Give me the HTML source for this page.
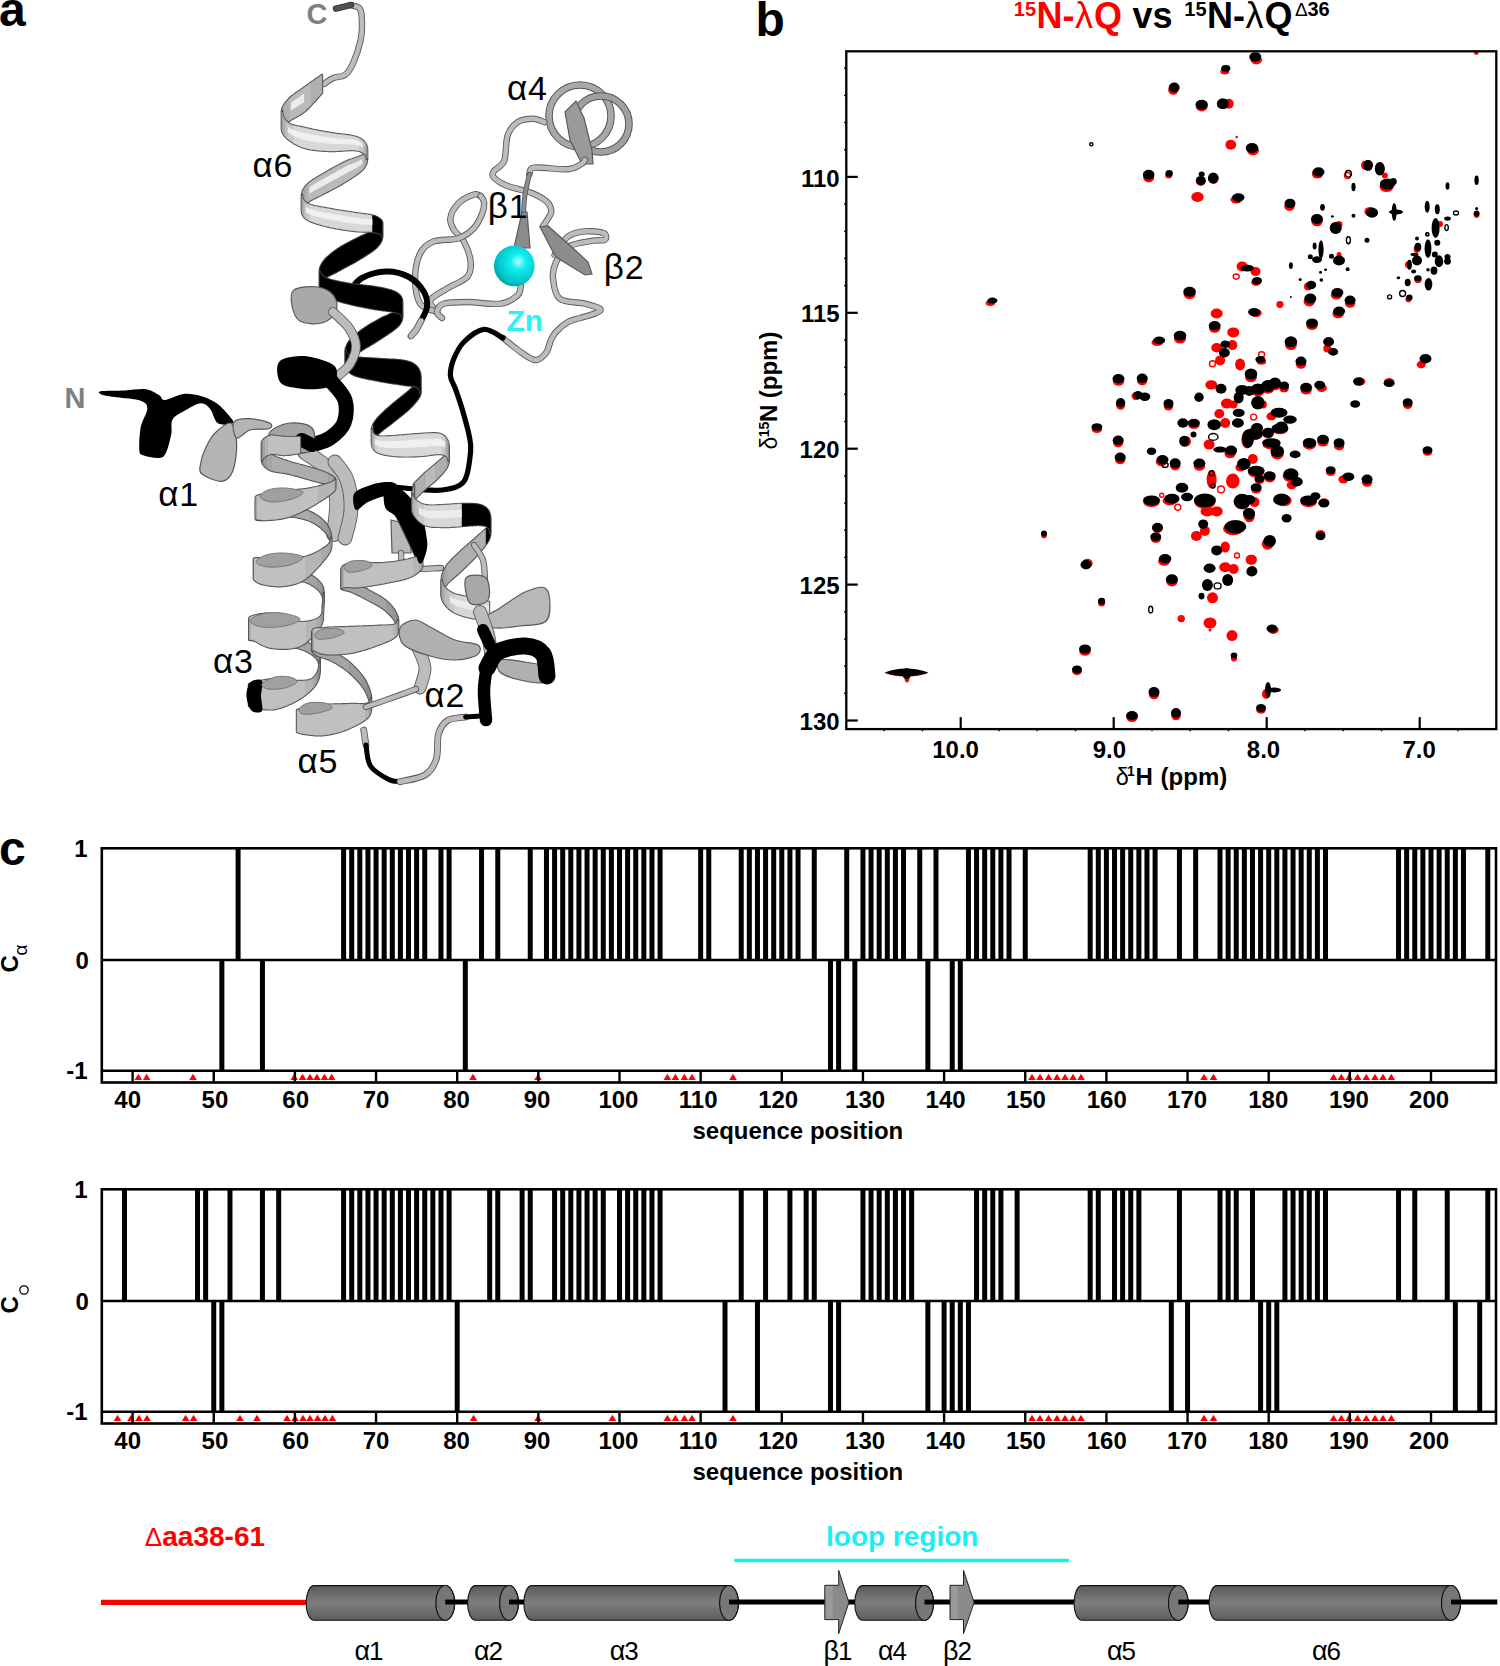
<!DOCTYPE html>
<html><head><meta charset="utf-8"><style>
html,body{margin:0;padding:0;background:#fff;}
svg{display:block;}
.tk{font-family:"Liberation Sans",sans-serif;font-weight:bold;font-size:24px;}
text{font-family:"Liberation Sans",sans-serif;}
</style></head><body>
<svg width="1500" height="1666" viewBox="0 0 1500 1666">
<defs>
<linearGradient id="cylg" x1="0" y1="0" x2="0" y2="1">
<stop offset="0" stop-color="#5a5a5a"/><stop offset="0.5" stop-color="#7e7e7e"/><stop offset="1" stop-color="#5c5c5c"/></linearGradient>
<radialGradient id="zng" cx="0.6" cy="0.4" r="0.65"><stop offset="0" stop-color="#b0ffff"/><stop offset="0.3" stop-color="#10eeee"/><stop offset="0.8" stop-color="#00c4c8"/><stop offset="1" stop-color="#009a9e"/></radialGradient>
</defs>
<rect width="1500" height="1666" fill="#fff"/>
<text x="-1" y="26" font-family="Liberation Sans" font-weight="bold" font-size="48">a</text>
<path d="M480.7 196.0C479.6 195.8 477.6 193.3 474.0 194.5C470.4 195.7 462.7 199.1 458.8 203.0C454.9 206.9 451.2 213.6 450.4 218.0C449.6 222.4 451.6 225.8 453.8 229.7C456.1 233.6 461.1 236.2 463.9 241.5C466.7 246.8 470.1 255.8 470.6 261.7C471.2 267.6 471.1 272.3 467.2 276.8C463.3 281.3 453.1 284.7 447.0 288.6C440.9 292.5 432.0 296.4 430.3 300.3C428.6 304.2 435.9 310.1 437.0 312.0" fill="none" stroke="#5a5a5a" stroke-width="6.4" stroke-linecap="round" stroke-linejoin="round"/><path d="M480.7 196.0C479.6 195.8 477.6 193.3 474.0 194.5C470.4 195.7 462.7 199.1 458.8 203.0C454.9 206.9 451.2 213.6 450.4 218.0C449.6 222.4 451.6 225.8 453.8 229.7C456.1 233.6 461.1 236.2 463.9 241.5C466.7 246.8 470.1 255.8 470.6 261.7C471.2 267.6 471.1 272.3 467.2 276.8C463.3 281.3 453.1 284.7 447.0 288.6C440.9 292.5 432.0 296.4 430.3 300.3C428.6 304.2 435.9 310.1 437.0 312.0" fill="none" stroke="#bcbcbc" stroke-width="4.6" stroke-linecap="round" stroke-linejoin="round"/>
<path d="M480.7 196.0C481.2 197.0 483.7 199.2 484.0 202.0C484.3 204.8 484.1 208.7 482.4 213.0C480.7 217.3 477.9 223.8 474.0 228.0C470.1 232.2 465.5 235.9 458.8 238.2C452.1 240.4 440.0 239.0 433.6 241.5C427.2 244.0 423.3 247.1 420.2 253.3C417.1 259.5 415.1 270.1 415.1 278.5C415.1 286.9 416.6 298.1 420.2 303.7C423.8 309.3 434.2 310.6 437.0 312.0" fill="none" stroke="#5a5a5a" stroke-width="6.4" stroke-linecap="round" stroke-linejoin="round"/><path d="M480.7 196.0C481.2 197.0 483.7 199.2 484.0 202.0C484.3 204.8 484.1 208.7 482.4 213.0C480.7 217.3 477.9 223.8 474.0 228.0C470.1 232.2 465.5 235.9 458.8 238.2C452.1 240.4 440.0 239.0 433.6 241.5C427.2 244.0 423.3 247.1 420.2 253.3C417.1 259.5 415.1 270.1 415.1 278.5C415.1 286.9 416.6 298.1 420.2 303.7C423.8 309.3 434.2 310.6 437.0 312.0" fill="none" stroke="#bcbcbc" stroke-width="4.6" stroke-linecap="round" stroke-linejoin="round"/>
<path d="M521.0 285.0C520.4 286.7 521.0 292.2 517.6 295.3C514.2 298.4 509.2 302.6 500.8 303.7C492.4 304.8 476.7 302.0 467.2 302.0C457.7 302.0 448.7 302.0 443.7 303.7C438.7 305.4 437.3 309.6 437.0 312.0C436.7 314.4 441.2 317.0 442.0 318.0" fill="none" stroke="#5a5a5a" stroke-width="6.4" stroke-linecap="round" stroke-linejoin="round"/><path d="M521.0 285.0C520.4 286.7 521.0 292.2 517.6 295.3C514.2 298.4 509.2 302.6 500.8 303.7C492.4 304.8 476.7 302.0 467.2 302.0C457.7 302.0 448.7 302.0 443.7 303.7C438.7 305.4 437.3 309.6 437.0 312.0C436.7 314.4 441.2 317.0 442.0 318.0" fill="none" stroke="#bcbcbc" stroke-width="4.6" stroke-linecap="round" stroke-linejoin="round"/>
<circle cx="580" cy="116" r="31" fill="none" stroke="#555" stroke-width="7.6"/><circle cx="580" cy="116" r="31" fill="none" stroke="#a8a8a8" stroke-width="5.6"/>
<circle cx="601" cy="124" r="28" fill="none" stroke="#555" stroke-width="7.6"/><circle cx="601" cy="124" r="28" fill="none" stroke="#a0a0a0" stroke-width="5.6"/>
<path d="M565.0 112.0L576.0 101.0L584.0 118.0L592.0 150.0L593.0 164.0L582.0 164.0L570.0 140.0Z" fill="#9a9a9a" stroke="#5a5a5a" stroke-width="1.2"/>
<path d="M544.5 122.2C542.5 121.6 537.3 118.8 532.8 118.8C528.3 118.8 521.8 119.4 517.6 122.2C513.4 125.0 509.8 129.2 507.6 135.6C505.4 142.0 506.5 154.9 504.2 160.8C501.9 166.7 495.7 168.2 494.0 171.0C492.3 173.8 491.7 175.1 494.0 177.6C496.3 180.1 501.4 183.5 507.6 186.0C513.8 188.5 524.6 190.3 531.0 192.8C537.4 195.3 542.8 198.1 546.2 201.2C549.6 204.3 551.3 208.0 551.3 211.3C551.3 214.7 547.6 218.8 546.2 221.3C544.8 223.8 543.5 225.6 542.9 226.4" fill="none" stroke="#5a5a5a" stroke-width="6.4" stroke-linecap="round" stroke-linejoin="round"/><path d="M544.5 122.2C542.5 121.6 537.3 118.8 532.8 118.8C528.3 118.8 521.8 119.4 517.6 122.2C513.4 125.0 509.8 129.2 507.6 135.6C505.4 142.0 506.5 154.9 504.2 160.8C501.9 166.7 495.7 168.2 494.0 171.0C492.3 173.8 491.7 175.1 494.0 177.6C496.3 180.1 501.4 183.5 507.6 186.0C513.8 188.5 524.6 190.3 531.0 192.8C537.4 195.3 542.8 198.1 546.2 201.2C549.6 204.3 551.3 208.0 551.3 211.3C551.3 214.7 547.6 218.8 546.2 221.3C544.8 223.8 543.5 225.6 542.9 226.4" fill="none" stroke="#bcbcbc" stroke-width="4.6" stroke-linecap="round" stroke-linejoin="round"/>
<path d="M585.0 160.0C584.4 160.7 584.3 162.5 581.5 164.0C578.7 165.5 575.8 168.6 568.0 169.2C560.2 169.8 540.9 166.8 534.5 167.6C528.1 168.4 530.2 173.2 529.4 174.3" fill="none" stroke="#5a5a5a" stroke-width="6.4" stroke-linecap="round" stroke-linejoin="round"/><path d="M585.0 160.0C584.4 160.7 584.3 162.5 581.5 164.0C578.7 165.5 575.8 168.6 568.0 169.2C560.2 169.8 540.9 166.8 534.5 167.6C528.1 168.4 530.2 173.2 529.4 174.3" fill="none" stroke="#bcbcbc" stroke-width="4.6" stroke-linecap="round" stroke-linejoin="round"/>
<path d="M529.4 174.3C528.7 177.7 526.0 188.1 525.0 194.5C524.0 200.9 523.8 209.9 523.5 213.0" fill="none" stroke="#5a5a5a" stroke-width="5.0" stroke-linecap="round" stroke-linejoin="round"/><path d="M529.4 174.3C528.7 177.7 526.0 188.1 525.0 194.5C524.0 200.9 523.8 209.9 523.5 213.0" fill="none" stroke="#8c8c8c" stroke-width="3.2" stroke-linecap="round" stroke-linejoin="round"/>
<path d="M522.0 212.0L527.0 212.0L530.0 248.0L514.0 248.0Z" fill="#8c8c8c" stroke="#5a5a5a" stroke-width="1.2"/>
<path d="M554.6 255.0C556.8 251.9 563.0 240.4 568.0 236.5C573.0 232.6 579.0 232.0 584.9 231.4C590.8 230.8 600.0 231.6 603.4 233.0C606.8 234.4 606.7 238.5 605.0 239.8C603.3 241.1 599.5 239.6 593.3 240.7C587.1 241.8 574.2 243.1 568.0 246.6C561.8 250.1 558.8 256.4 556.3 261.7C553.8 267.0 552.4 272.3 553.0 278.5C553.6 284.7 554.4 294.5 559.7 298.7C565.0 302.9 578.2 302.0 584.9 303.7C591.6 305.4 598.1 307.1 600.0 308.7C601.9 310.2 599.3 311.4 596.0 313.0C592.7 314.6 584.7 316.5 580.0 318.0C575.3 319.5 572.0 319.7 568.0 322.0C564.0 324.3 558.8 329.0 556.0 332.0C553.2 335.0 552.7 336.5 551.0 340.0C549.3 343.5 548.7 349.7 546.0 353.0C543.3 356.3 539.7 360.5 535.0 360.0C530.3 359.5 523.3 353.7 518.0 350.0C512.7 346.3 505.5 340.0 503.0 338.0" fill="none" stroke="#5a5a5a" stroke-width="6.4" stroke-linecap="round" stroke-linejoin="round"/><path d="M554.6 255.0C556.8 251.9 563.0 240.4 568.0 236.5C573.0 232.6 579.0 232.0 584.9 231.4C590.8 230.8 600.0 231.6 603.4 233.0C606.8 234.4 606.7 238.5 605.0 239.8C603.3 241.1 599.5 239.6 593.3 240.7C587.1 241.8 574.2 243.1 568.0 246.6C561.8 250.1 558.8 256.4 556.3 261.7C553.8 267.0 552.4 272.3 553.0 278.5C553.6 284.7 554.4 294.5 559.7 298.7C565.0 302.9 578.2 302.0 584.9 303.7C591.6 305.4 598.1 307.1 600.0 308.7C601.9 310.2 599.3 311.4 596.0 313.0C592.7 314.6 584.7 316.5 580.0 318.0C575.3 319.5 572.0 319.7 568.0 322.0C564.0 324.3 558.8 329.0 556.0 332.0C553.2 335.0 552.7 336.5 551.0 340.0C549.3 343.5 548.7 349.7 546.0 353.0C543.3 356.3 539.7 360.5 535.0 360.0C530.3 359.5 523.3 353.7 518.0 350.0C512.7 346.3 505.5 340.0 503.0 338.0" fill="none" stroke="#bcbcbc" stroke-width="4.6" stroke-linecap="round" stroke-linejoin="round"/>
<path d="M540.0 227.0L548.0 226.0L575.0 250.0L588.0 262.0L592.0 274.0L585.0 275.0L556.0 257.0L552.0 250.0Z" fill="#8c8c8c" stroke="#5a5a5a" stroke-width="1.2"/>
<circle cx="514.3" cy="265.9" r="20.3" fill="url(#zng)"/>
<text x="506.5" y="330.6" font-family="Liberation Sans" font-weight="bold" font-size="30" fill="#2cf2f7">Zn</text>
<path d="M503.0 338.0C499.8 336.6 490.5 328.7 484.0 329.4C477.5 330.1 468.9 337.1 463.9 342.0C458.9 346.9 456.1 353.2 453.8 358.8C451.6 364.4 450.1 370.6 450.4 375.6C450.7 380.7 453.5 383.5 455.5 389.1C457.5 394.7 460.0 401.6 462.2 409.2C464.4 416.8 467.5 427.5 468.9 434.5C470.3 441.5 471.4 443.5 470.6 451.3C469.8 459.1 468.7 475.1 463.9 481.5C459.1 487.9 450.1 488.8 442.0 490.0C433.9 491.2 422.8 489.5 415.0 489.0C407.2 488.5 398.3 487.3 395.0 487.0" fill="none" stroke="#000" stroke-width="5.2" stroke-linecap="round" stroke-linejoin="round"/>
<path d="M350.0 5.0C351.7 5.7 358.0 5.8 360.0 9.0C362.0 12.2 361.9 18.8 362.0 24.0C362.1 29.2 362.1 33.5 360.7 40.0C359.2 46.5 355.9 56.9 353.3 62.7C350.7 68.5 348.6 72.2 345.3 74.7C342.0 77.2 336.9 76.5 333.3 78.0C329.8 79.5 325.6 83.0 324.0 84.0" fill="none" stroke="#5a5a5a" stroke-width="6.4" stroke-linecap="round" stroke-linejoin="round"/><path d="M350.0 5.0C351.7 5.7 358.0 5.8 360.0 9.0C362.0 12.2 361.9 18.8 362.0 24.0C362.1 29.2 362.1 33.5 360.7 40.0C359.2 46.5 355.9 56.9 353.3 62.7C350.7 68.5 348.6 72.2 345.3 74.7C342.0 77.2 336.9 76.5 333.3 78.0C329.8 79.5 325.6 83.0 324.0 84.0" fill="none" stroke="#bcbcbc" stroke-width="4.6" stroke-linecap="round" stroke-linejoin="round"/>
<path d="M336.0 8.7L351.0 5.0" fill="none" stroke="#333" stroke-width="6.4" stroke-linecap="round" stroke-linejoin="round"/><path d="M336.0 8.7L351.0 5.0" fill="none" stroke="#505050" stroke-width="4.6" stroke-linecap="round" stroke-linejoin="round"/>
<path d="M349.0 292.0C351.2 289.7 355.8 281.4 362.0 278.0C368.2 274.6 378.2 271.7 386.0 271.5C393.8 271.3 402.7 273.6 409.0 277.0C415.3 280.4 421.0 287.0 424.0 292.0C427.0 297.0 427.5 302.2 427.0 307.0C426.5 311.8 422.0 318.7 421.0 321.0" fill="none" stroke="#000" stroke-width="6" stroke-linecap="round" stroke-linejoin="round"/>
<path d="M421.0 321.0C420.2 322.5 417.7 327.5 416.0 330.0C414.3 332.5 411.8 335.0 411.0 336.0" fill="none" stroke="#5a5a5a" stroke-width="6.8" stroke-linecap="round" stroke-linejoin="round"/><path d="M421.0 321.0C420.2 322.5 417.7 327.5 416.0 330.0C414.3 332.5 411.8 335.0 411.0 336.0" fill="none" stroke="#bcbcbc" stroke-width="5" stroke-linecap="round" stroke-linejoin="round"/>
<path d="M322.0 75.0L321.6 75.3L321.1 75.6L320.5 76.0L319.9 76.5L319.3 76.9L318.6 77.4L317.8 77.9L317.0 78.5L316.2 79.1L315.4 79.6L314.5 80.2L313.6 80.9L312.7 81.5L311.8 82.1L310.9 82.8L310.9 105.2L311.8 104.3L312.7 103.3L313.6 102.3L314.5 101.4L315.4 100.4L316.2 99.5L317.0 98.6L317.8 97.7L318.6 96.8L319.3 96.0L319.9 95.3L320.5 94.6L321.1 94.0L321.6 93.5L322.0 93.0ZM310.9 82.8L310.0 83.4L309.1 84.0L308.3 84.7L307.4 85.3L306.6 85.9L305.8 86.4L305.0 87.0L304.1 87.6L303.2 88.3L302.3 88.9L301.4 89.5L300.5 90.2L299.6 90.8L298.6 91.4L297.7 92.1L296.8 92.7L295.9 93.3L295.1 93.9L294.2 94.6L293.4 95.2L292.5 95.8L291.8 96.5L291.0 97.1L290.3 97.7L289.6 98.4L289.0 99.0L289.0 121.0L289.6 120.5L290.3 120.1L291.0 119.6L291.8 119.2L292.5 118.7L293.4 118.3L294.2 117.8L295.1 117.3L295.9 116.9L296.8 116.4L297.7 115.9L298.6 115.4L299.6 114.8L300.5 114.3L301.4 113.7L302.3 113.0L303.2 112.4L304.1 111.7L305.0 111.0L305.8 110.3L306.6 109.6L307.4 108.8L308.3 108.0L309.1 107.1L310.0 106.2L310.9 105.2ZM289.0 99.0L288.1 100.0L287.2 101.0L286.3 102.0L285.5 103.0L284.8 104.0L284.1 105.0L283.5 106.0L283.5 125.6L284.1 125.0L284.8 124.4L285.5 123.7L286.3 123.1L287.2 122.4L288.1 121.7L289.0 121.0ZM283.5 106.0L283.0 107.0L282.6 108.0L282.6 126.9L283.0 126.3L283.5 125.6ZM282.6 108.0L282.3 109.0L282.3 127.6L282.6 126.9ZM282.3 109.0L282.1 110.0L282.0 111.0L282.0 129.0L282.1 128.3L282.3 127.6ZM367.0 148.8L367.0 149.6L367.0 160.1L367.0 159.0ZM367.0 149.6L366.9 150.4L366.6 151.2L366.6 162.4L366.9 161.2L367.0 160.1ZM366.6 151.2L366.2 151.9L366.2 163.7L366.6 162.4ZM366.2 151.9L365.7 152.7L365.0 153.5L365.0 166.3L365.7 165.0L366.2 163.7ZM365.0 153.5L364.1 154.2L363.0 155.0L363.0 169.0L364.1 167.7L365.0 166.3ZM363.0 155.0L362.4 155.3L361.8 155.7L361.1 156.0L360.3 156.3L359.5 156.7L358.7 157.0L357.8 157.3L356.9 157.6L356.0 157.9L355.0 158.2L354.0 158.6L353.0 158.9L352.0 159.3L351.0 159.6L350.0 160.0L349.0 160.3L347.9 160.7L346.9 161.1L346.0 161.6L345.0 162.0L344.1 162.4L343.2 162.8L342.4 163.3L341.4 163.8L340.5 164.2L339.6 164.7L338.7 165.2L337.7 165.7L336.8 166.2L335.9 166.7L334.9 167.2L334.0 167.8L333.1 168.3L332.1 168.8L331.2 169.4L330.3 169.9L329.4 170.4L328.5 170.9L327.6 171.5L326.7 172.0L325.8 172.5L325.0 173.0L324.0 173.6L323.0 174.2L322.0 174.7L321.0 175.3L320.0 175.9L319.0 176.5L318.0 177.1L317.1 177.6L316.1 178.2L315.2 178.8L314.2 179.4L313.3 179.9L312.5 180.5L311.6 181.1L310.8 181.7L310.0 182.3L309.3 182.8L308.6 183.4L308.0 184.0L308.0 202.0L308.6 201.5L309.3 201.1L310.0 200.6L310.8 200.1L311.6 199.7L312.5 199.2L313.3 198.8L314.2 198.3L315.2 197.9L316.1 197.4L317.1 196.9L318.0 196.5L319.0 196.0L320.0 195.5L321.0 195.0L322.0 194.5L323.0 194.0L324.0 193.5L325.0 193.0L325.8 192.5L326.7 192.1L327.6 191.6L328.5 191.1L329.4 190.7L330.3 190.2L331.2 189.7L332.1 189.2L333.1 188.7L334.0 188.2L334.9 187.8L335.9 187.2L336.8 186.7L337.7 186.2L338.7 185.7L339.6 185.2L340.5 184.7L341.4 184.1L342.4 183.6L343.2 183.1L344.1 182.5L345.0 182.0L346.0 181.4L346.9 180.8L347.9 180.1L349.0 179.5L350.0 178.8L351.0 178.2L352.0 177.5L353.0 176.8L354.0 176.2L355.0 175.5L356.0 174.8L356.9 174.2L357.8 173.5L358.7 172.8L359.5 172.2L360.3 171.5L361.1 170.9L361.8 170.2L362.4 169.6L363.0 169.0ZM308.0 184.0L307.0 185.0L306.1 186.0L305.2 187.1L304.5 188.1L304.5 205.3L305.2 204.5L306.1 203.6L307.0 202.8L308.0 202.0ZM304.5 188.1L303.9 189.1L303.3 190.1L302.8 191.1L302.8 207.7L303.3 206.9L303.9 206.1L304.5 205.3ZM302.8 191.1L302.5 192.1L302.2 193.1L302.2 209.4L302.5 208.5L302.8 207.7ZM302.2 193.1L302.1 194.1L302.1 210.2L302.2 209.4ZM302.1 194.1L302.0 195.0L302.0 211.0L302.1 210.2ZM382.1 222.7L382.1 223.3L381.9 224.0L381.6 224.6L381.2 225.3L380.6 226.0L379.9 226.7L379.1 227.5L378.1 228.2L377.0 229.0L376.4 229.4L375.7 229.8L375.0 230.2L374.3 230.6L373.5 231.0L372.6 231.4L371.7 231.8L370.8 232.2L369.9 232.6L368.9 233.0L367.9 233.5L366.9 233.9L365.9 234.3L364.9 234.8L363.9 235.2L362.9 235.7L361.9 236.1L360.9 236.6L359.9 237.1L358.9 237.5L358.0 238.0L357.1 238.5L356.2 238.9L355.3 239.4L354.3 239.9L353.4 240.3L352.5 240.8L351.5 241.3L350.5 241.8L349.6 242.3L348.6 242.8L347.7 243.3L346.7 243.8L345.8 244.3L344.9 244.8L344.0 245.4L343.0 245.9L342.2 246.4L341.3 246.9L340.4 247.4L339.6 248.0L338.8 248.5L338.0 249.0L337.0 249.7L336.0 250.4L335.0 251.1L334.1 251.8L333.1 252.5L332.2 253.2L331.3 253.9L330.4 254.6L329.6 255.4L328.8 256.1L328.0 256.8L327.2 257.5L326.5 258.2L325.8 258.9L325.2 259.6L324.6 260.3L324.0 261.0L323.1 262.2L322.4 263.3L321.7 264.5L321.1 265.7L320.6 266.8L320.3 267.9L320.0 269.0L319.9 270.1L319.9 271.1L319.9 287.1L319.9 286.2L320.0 285.3L320.3 284.4L320.6 283.4L321.1 282.5L321.7 281.6L322.4 280.7L323.1 279.9L324.0 279.0L324.6 278.5L325.2 278.0L325.8 277.6L326.5 277.1L327.2 276.7L328.0 276.2L328.8 275.8L329.6 275.3L330.4 274.9L331.3 274.5L332.2 274.0L333.1 273.5L334.1 273.1L335.0 272.6L336.0 272.1L337.0 271.5L338.0 271.0L338.8 270.6L339.6 270.1L340.4 269.7L341.3 269.2L342.2 268.7L343.0 268.3L344.0 267.8L344.9 267.3L345.8 266.8L346.7 266.3L347.7 265.8L348.6 265.3L349.6 264.8L350.5 264.3L351.5 263.8L352.5 263.2L353.4 262.7L354.3 262.2L355.3 261.6L356.2 261.1L357.1 260.5L358.0 260.0L358.9 259.4L359.9 258.8L360.9 258.2L361.9 257.6L362.9 257.0L363.9 256.4L364.9 255.7L365.9 255.1L366.9 254.5L367.9 253.8L368.9 253.2L369.9 252.5L370.8 251.9L371.7 251.3L372.6 250.6L373.5 250.0L374.3 249.4L375.0 248.8L375.7 248.2L376.4 247.6L377.0 247.0L378.1 245.8L379.1 244.6L379.9 243.3L380.6 242.1L381.2 240.9L381.6 239.8L381.9 238.7L382.1 237.7L382.1 236.8ZM402.1 301.9L402.0 302.9L401.9 303.9L401.6 304.9L401.1 306.0L400.6 307.0L399.9 308.0L399.0 309.0L398.0 310.0L397.4 310.4L396.8 310.9L396.2 311.3L395.4 311.7L394.7 312.2L393.9 312.6L393.0 313.0L392.2 313.4L391.3 313.8L390.3 314.2L389.4 314.6L388.4 315.1L387.5 315.5L386.5 315.9L385.6 316.3L384.6 316.7L383.6 317.2L382.7 317.6L381.8 318.1L380.9 318.5L380.0 319.0L379.1 319.5L378.3 320.0L377.4 320.5L376.5 321.0L375.6 321.5L374.7 322.0L373.8 322.5L372.9 323.0L372.0 323.5L371.1 324.0L370.2 324.6L369.4 325.1L368.5 325.6L367.6 326.2L366.8 326.7L365.9 327.3L365.1 327.8L364.3 328.4L363.5 328.9L362.7 329.5L362.0 330.0L361.0 330.7L360.1 331.5L359.1 332.2L358.2 333.0L357.2 333.7L356.3 334.5L355.4 335.3L354.6 336.1L353.7 336.8L352.9 337.6L352.2 338.4L351.4 339.1L350.7 339.9L350.1 340.6L349.5 341.3L349.0 342.0L348.2 343.2L347.4 344.5L346.9 345.7L346.4 346.9L346.0 348.0L345.8 349.1L345.7 350.2L345.7 364.2L345.8 363.3L346.0 362.4L346.4 361.5L346.9 360.6L347.4 359.8L348.2 358.9L349.0 358.0L349.5 357.5L350.1 357.0L350.7 356.5L351.4 356.1L352.2 355.6L352.9 355.1L353.7 354.7L354.6 354.2L355.4 353.7L356.3 353.2L357.2 352.7L358.2 352.2L359.1 351.7L360.1 351.1L361.0 350.6L362.0 350.0L362.7 349.5L363.5 349.1L364.3 348.6L365.1 348.1L365.9 347.6L366.8 347.1L367.6 346.6L368.5 346.1L369.4 345.6L370.2 345.1L371.1 344.5L372.0 344.0L372.9 343.5L373.8 342.9L374.7 342.4L375.6 341.8L376.5 341.3L377.4 340.7L378.3 340.1L379.1 339.6L380.0 339.0L380.9 338.4L381.8 337.8L382.7 337.2L383.6 336.6L384.6 336.0L385.6 335.3L386.5 334.7L387.5 334.1L388.4 333.4L389.4 332.8L390.3 332.1L391.3 331.5L392.2 330.8L393.0 330.2L393.9 329.6L394.7 328.9L395.4 328.3L396.2 327.7L396.8 327.1L397.4 326.6L398.0 326.0L399.0 324.9L399.9 323.7L400.6 322.6L401.1 321.5L401.6 320.4L401.9 319.4L402.0 318.5L402.1 317.6ZM420.4 376.6L420.3 377.8L420.0 379.0L419.7 379.8L419.4 380.5L418.9 381.2L418.4 381.9L417.9 382.6L417.3 383.3L416.6 384.0L415.9 384.7L415.1 385.4L414.3 386.1L413.5 386.9L412.7 387.6L411.8 388.4L410.9 389.2L410.0 390.0L409.4 390.6L408.7 391.2L408.0 391.8L407.3 392.4L406.6 393.0L405.8 393.6L405.0 394.2L404.2 394.9L403.4 395.5L402.6 396.2L401.8 396.8L401.0 397.5L400.2 398.1L399.3 398.8L398.5 399.4L397.7 400.1L396.9 400.8L396.1 401.4L395.3 402.1L394.5 402.7L393.7 403.4L393.0 404.0L392.2 404.7L391.3 405.5L390.4 406.2L389.6 407.0L388.7 407.8L387.8 408.5L386.9 409.3L386.1 410.0L385.2 410.8L384.4 411.6L383.6 412.3L382.8 413.1L382.0 413.8L381.3 414.5L380.5 415.2L379.8 416.0L379.2 416.7L378.6 417.3L378.0 418.0L377.1 419.1L376.2 420.2L375.4 421.3L374.7 422.4L374.0 423.4L373.5 424.4L373.0 425.4L373.0 439.9L373.5 439.1L374.0 438.3L374.7 437.5L375.4 436.7L376.2 435.8L377.1 434.9L378.0 434.0L378.6 433.4L379.2 432.9L379.8 432.3L380.5 431.7L381.3 431.1L382.0 430.5L382.8 429.9L383.6 429.3L384.4 428.6L385.2 428.0L386.1 427.3L386.9 426.7L387.8 426.0L388.7 425.4L389.6 424.7L390.4 424.0L391.3 423.4L392.2 422.7L393.0 422.0L393.7 421.4L394.5 420.8L395.3 420.2L396.1 419.6L396.9 418.9L397.7 418.3L398.5 417.7L399.3 417.0L400.2 416.4L401.0 415.7L401.8 415.1L402.6 414.4L403.4 413.8L404.2 413.1L405.0 412.4L405.8 411.8L406.6 411.2L407.3 410.5L408.0 409.9L408.7 409.2L409.4 408.6L410.0 408.0L410.9 407.1L411.8 406.2L412.7 405.3L413.5 404.3L414.3 403.4L415.1 402.5L415.9 401.6L416.6 400.7L417.3 399.8L417.9 398.9L418.4 398.1L418.9 397.3L419.4 396.5L419.7 395.7L420.0 395.0L420.3 394.0L420.4 393.0ZM373.0 425.4L372.6 426.4L372.3 427.3L372.3 441.4L372.6 440.6L373.0 439.9ZM372.3 427.3L372.1 428.2L372.0 429.0L372.0 443.0L372.1 442.2L372.3 441.4ZM448.7 446.2L448.6 447.4L448.6 462.0L448.7 461.1ZM448.6 447.4L448.5 448.5L448.2 449.7L448.2 463.9L448.5 462.9L448.6 462.0ZM448.2 449.7L447.9 450.8L447.5 451.9L447.5 466.0L447.9 464.9L448.2 463.9ZM447.5 451.9L447.0 453.0L446.6 453.7L446.1 454.5L446.1 468.6L446.6 467.8L447.0 467.0L447.5 466.0ZM446.1 454.5L445.5 455.2L444.9 455.9L444.2 456.6L443.5 457.3L442.8 458.0L442.0 458.7L441.2 459.4L440.3 460.1L439.5 460.8L438.7 461.5L437.8 462.3L437.0 463.0L436.3 463.6L435.6 464.3L435.6 480.3L436.3 479.7L437.0 479.0L437.8 478.2L438.7 477.3L439.5 476.4L440.3 475.6L441.2 474.7L442.0 473.8L442.8 472.9L443.5 472.0L444.2 471.1L444.9 470.2L445.5 469.4L446.1 468.6ZM435.6 464.3L434.8 464.9L434.1 465.5L433.3 466.2L432.5 466.8L431.7 467.5L430.9 468.2L430.1 468.8L429.3 469.5L428.5 470.2L427.7 470.8L426.9 471.5L426.2 472.1L425.4 472.7L424.7 473.4L424.7 489.4L425.4 488.8L426.2 488.1L426.9 487.5L427.7 486.9L428.5 486.2L429.3 485.6L430.1 484.9L430.9 484.3L431.7 483.7L432.5 483.0L433.3 482.3L434.1 481.7L434.8 481.0L435.6 480.3ZM424.7 473.4L424.0 474.0L423.2 474.8L422.3 475.6L421.5 476.4L420.6 477.2L419.8 478.1L419.0 478.9L418.2 479.7L417.4 480.5L416.7 481.2L416.0 481.9L415.4 482.5L414.9 483.1L414.4 483.6L414.0 484.0L414.0 500.0L414.4 499.6L414.9 499.1L415.4 498.5L416.0 497.9L416.7 497.2L417.4 496.5L418.2 495.7L419.0 494.9L419.8 494.1L420.6 493.2L421.5 492.4L422.3 491.6L423.2 490.8L424.0 490.0L424.7 489.4Z" fill="#4a4a4a" stroke="#4a4a4a" stroke-width="2.4" stroke-linejoin="round"/><path d="M322.0 75.0L321.6 75.3L321.1 75.6L320.5 76.0L319.9 76.5L319.3 76.9L318.6 77.4L317.8 77.9L317.0 78.5L316.2 79.1L315.4 79.6L314.5 80.2L313.6 80.9L312.7 81.5L311.8 82.1L310.9 82.8L310.9 105.2L311.8 104.3L312.7 103.3L313.6 102.3L314.5 101.4L315.4 100.4L316.2 99.5L317.0 98.6L317.8 97.7L318.6 96.8L319.3 96.0L319.9 95.3L320.5 94.6L321.1 94.0L321.6 93.5L322.0 93.0Z" fill="#afafaf" stroke="#afafaf" stroke-width="0.5"/><path d="M310.9 82.8L310.0 83.4L309.1 84.0L308.3 84.7L307.4 85.3L306.6 85.9L305.8 86.4L305.0 87.0L304.1 87.6L303.2 88.3L302.3 88.9L301.4 89.5L300.5 90.2L299.6 90.8L298.6 91.4L297.7 92.1L296.8 92.7L295.9 93.3L295.1 93.9L294.2 94.6L293.4 95.2L292.5 95.8L291.8 96.5L291.0 97.1L290.3 97.7L289.6 98.4L289.0 99.0L289.0 121.0L289.6 120.5L290.3 120.1L291.0 119.6L291.8 119.2L292.5 118.7L293.4 118.3L294.2 117.8L295.1 117.3L295.9 116.9L296.8 116.4L297.7 115.9L298.6 115.4L299.6 114.8L300.5 114.3L301.4 113.7L302.3 113.0L303.2 112.4L304.1 111.7L305.0 111.0L305.8 110.3L306.6 109.6L307.4 108.8L308.3 108.0L309.1 107.1L310.0 106.2L310.9 105.2Z" fill="#bababa" stroke="#bababa" stroke-width="0.5"/><path d="M289.0 99.0L288.1 100.0L287.2 101.0L286.3 102.0L285.5 103.0L284.8 104.0L284.1 105.0L283.5 106.0L283.5 125.6L284.1 125.0L284.8 124.4L285.5 123.7L286.3 123.1L287.2 122.4L288.1 121.7L289.0 121.0Z" fill="#afafaf" stroke="#afafaf" stroke-width="0.5"/><path d="M283.5 106.0L283.0 107.0L282.6 108.0L282.6 126.9L283.0 126.3L283.5 125.6Z" fill="#a5a5a5" stroke="#a5a5a5" stroke-width="0.5"/><path d="M282.6 108.0L282.3 109.0L282.3 127.6L282.6 126.9Z" fill="#9b9b9b" stroke="#9b9b9b" stroke-width="0.5"/><path d="M282.3 109.0L282.1 110.0L282.0 111.0L282.0 129.0L282.1 128.3L282.3 127.6Z" fill="#909090" stroke="#909090" stroke-width="0.5"/><path d="M367.0 148.8L367.0 149.6L367.0 160.1L367.0 159.0Z" fill="#868686" stroke="#868686" stroke-width="0.5"/><path d="M367.0 149.6L366.9 150.4L366.6 151.2L366.6 162.4L366.9 161.2L367.0 160.1Z" fill="#909090" stroke="#909090" stroke-width="0.5"/><path d="M366.6 151.2L366.2 151.9L366.2 163.7L366.6 162.4Z" fill="#9b9b9b" stroke="#9b9b9b" stroke-width="0.5"/><path d="M366.2 151.9L365.7 152.7L365.0 153.5L365.0 166.3L365.7 165.0L366.2 163.7Z" fill="#a5a5a5" stroke="#a5a5a5" stroke-width="0.5"/><path d="M365.0 153.5L364.1 154.2L363.0 155.0L363.0 169.0L364.1 167.7L365.0 166.3Z" fill="#afafaf" stroke="#afafaf" stroke-width="0.5"/><path d="M363.0 155.0L362.4 155.3L361.8 155.7L361.1 156.0L360.3 156.3L359.5 156.7L358.7 157.0L357.8 157.3L356.9 157.6L356.0 157.9L355.0 158.2L354.0 158.6L353.0 158.9L352.0 159.3L351.0 159.6L350.0 160.0L349.0 160.3L347.9 160.7L346.9 161.1L346.0 161.6L345.0 162.0L344.1 162.4L343.2 162.8L342.4 163.3L341.4 163.8L340.5 164.2L339.6 164.7L338.7 165.2L337.7 165.7L336.8 166.2L335.9 166.7L334.9 167.2L334.0 167.8L333.1 168.3L332.1 168.8L331.2 169.4L330.3 169.9L329.4 170.4L328.5 170.9L327.6 171.5L326.7 172.0L325.8 172.5L325.0 173.0L324.0 173.6L323.0 174.2L322.0 174.7L321.0 175.3L320.0 175.9L319.0 176.5L318.0 177.1L317.1 177.6L316.1 178.2L315.2 178.8L314.2 179.4L313.3 179.9L312.5 180.5L311.6 181.1L310.8 181.7L310.0 182.3L309.3 182.8L308.6 183.4L308.0 184.0L308.0 202.0L308.6 201.5L309.3 201.1L310.0 200.6L310.8 200.1L311.6 199.7L312.5 199.2L313.3 198.8L314.2 198.3L315.2 197.9L316.1 197.4L317.1 196.9L318.0 196.5L319.0 196.0L320.0 195.5L321.0 195.0L322.0 194.5L323.0 194.0L324.0 193.5L325.0 193.0L325.8 192.5L326.7 192.1L327.6 191.6L328.5 191.1L329.4 190.7L330.3 190.2L331.2 189.7L332.1 189.2L333.1 188.7L334.0 188.2L334.9 187.8L335.9 187.2L336.8 186.7L337.7 186.2L338.7 185.7L339.6 185.2L340.5 184.7L341.4 184.1L342.4 183.6L343.2 183.1L344.1 182.5L345.0 182.0L346.0 181.4L346.9 180.8L347.9 180.1L349.0 179.5L350.0 178.8L351.0 178.2L352.0 177.5L353.0 176.8L354.0 176.2L355.0 175.5L356.0 174.8L356.9 174.2L357.8 173.5L358.7 172.8L359.5 172.2L360.3 171.5L361.1 170.9L361.8 170.2L362.4 169.6L363.0 169.0Z" fill="#bababa" stroke="#bababa" stroke-width="0.5"/><path d="M308.0 184.0L307.0 185.0L306.1 186.0L305.2 187.1L304.5 188.1L304.5 205.3L305.2 204.5L306.1 203.6L307.0 202.8L308.0 202.0Z" fill="#afafaf" stroke="#afafaf" stroke-width="0.5"/><path d="M304.5 188.1L303.9 189.1L303.3 190.1L302.8 191.1L302.8 207.7L303.3 206.9L303.9 206.1L304.5 205.3Z" fill="#a5a5a5" stroke="#a5a5a5" stroke-width="0.5"/><path d="M302.8 191.1L302.5 192.1L302.2 193.1L302.2 209.4L302.5 208.5L302.8 207.7Z" fill="#9b9b9b" stroke="#9b9b9b" stroke-width="0.5"/><path d="M302.2 193.1L302.1 194.1L302.1 210.2L302.2 209.4Z" fill="#909090" stroke="#909090" stroke-width="0.5"/><path d="M302.1 194.1L302.0 195.0L302.0 211.0L302.1 210.2Z" fill="#868686" stroke="#868686" stroke-width="0.5"/><path d="M382.1 222.7L382.1 223.3L381.9 224.0L381.6 224.6L381.2 225.3L380.6 226.0L379.9 226.7L379.1 227.5L378.1 228.2L377.0 229.0L376.4 229.4L375.7 229.8L375.0 230.2L374.3 230.6L373.5 231.0L372.6 231.4L371.7 231.8L370.8 232.2L369.9 232.6L368.9 233.0L367.9 233.5L366.9 233.9L365.9 234.3L364.9 234.8L363.9 235.2L362.9 235.7L361.9 236.1L360.9 236.6L359.9 237.1L358.9 237.5L358.0 238.0L357.1 238.5L356.2 238.9L355.3 239.4L354.3 239.9L353.4 240.3L352.5 240.8L351.5 241.3L350.5 241.8L349.6 242.3L348.6 242.8L347.7 243.3L346.7 243.8L345.8 244.3L344.9 244.8L344.0 245.4L343.0 245.9L342.2 246.4L341.3 246.9L340.4 247.4L339.6 248.0L338.8 248.5L338.0 249.0L337.0 249.7L336.0 250.4L335.0 251.1L334.1 251.8L333.1 252.5L332.2 253.2L331.3 253.9L330.4 254.6L329.6 255.4L328.8 256.1L328.0 256.8L327.2 257.5L326.5 258.2L325.8 258.9L325.2 259.6L324.6 260.3L324.0 261.0L323.1 262.2L322.4 263.3L321.7 264.5L321.1 265.7L320.6 266.8L320.3 267.9L320.0 269.0L319.9 270.1L319.9 271.1L319.9 287.1L319.9 286.2L320.0 285.3L320.3 284.4L320.6 283.4L321.1 282.5L321.7 281.6L322.4 280.7L323.1 279.9L324.0 279.0L324.6 278.5L325.2 278.0L325.8 277.6L326.5 277.1L327.2 276.7L328.0 276.2L328.8 275.8L329.6 275.3L330.4 274.9L331.3 274.5L332.2 274.0L333.1 273.5L334.1 273.1L335.0 272.6L336.0 272.1L337.0 271.5L338.0 271.0L338.8 270.6L339.6 270.1L340.4 269.7L341.3 269.2L342.2 268.7L343.0 268.3L344.0 267.8L344.9 267.3L345.8 266.8L346.7 266.3L347.7 265.8L348.6 265.3L349.6 264.8L350.5 264.3L351.5 263.8L352.5 263.2L353.4 262.7L354.3 262.2L355.3 261.6L356.2 261.1L357.1 260.5L358.0 260.0L358.9 259.4L359.9 258.8L360.9 258.2L361.9 257.6L362.9 257.0L363.9 256.4L364.9 255.7L365.9 255.1L366.9 254.5L367.9 253.8L368.9 253.2L369.9 252.5L370.8 251.9L371.7 251.3L372.6 250.6L373.5 250.0L374.3 249.4L375.0 248.8L375.7 248.2L376.4 247.6L377.0 247.0L378.1 245.8L379.1 244.6L379.9 243.3L380.6 242.1L381.2 240.9L381.6 239.8L381.9 238.7L382.1 237.7L382.1 236.8Z" fill="#000000" stroke="#000000" stroke-width="0.5"/><path d="M402.1 301.9L402.0 302.9L401.9 303.9L401.6 304.9L401.1 306.0L400.6 307.0L399.9 308.0L399.0 309.0L398.0 310.0L397.4 310.4L396.8 310.9L396.2 311.3L395.4 311.7L394.7 312.2L393.9 312.6L393.0 313.0L392.2 313.4L391.3 313.8L390.3 314.2L389.4 314.6L388.4 315.1L387.5 315.5L386.5 315.9L385.6 316.3L384.6 316.7L383.6 317.2L382.7 317.6L381.8 318.1L380.9 318.5L380.0 319.0L379.1 319.5L378.3 320.0L377.4 320.5L376.5 321.0L375.6 321.5L374.7 322.0L373.8 322.5L372.9 323.0L372.0 323.5L371.1 324.0L370.2 324.6L369.4 325.1L368.5 325.6L367.6 326.2L366.8 326.7L365.9 327.3L365.1 327.8L364.3 328.4L363.5 328.9L362.7 329.5L362.0 330.0L361.0 330.7L360.1 331.5L359.1 332.2L358.2 333.0L357.2 333.7L356.3 334.5L355.4 335.3L354.6 336.1L353.7 336.8L352.9 337.6L352.2 338.4L351.4 339.1L350.7 339.9L350.1 340.6L349.5 341.3L349.0 342.0L348.2 343.2L347.4 344.5L346.9 345.7L346.4 346.9L346.0 348.0L345.8 349.1L345.7 350.2L345.7 364.2L345.8 363.3L346.0 362.4L346.4 361.5L346.9 360.6L347.4 359.8L348.2 358.9L349.0 358.0L349.5 357.5L350.1 357.0L350.7 356.5L351.4 356.1L352.2 355.6L352.9 355.1L353.7 354.7L354.6 354.2L355.4 353.7L356.3 353.2L357.2 352.7L358.2 352.2L359.1 351.7L360.1 351.1L361.0 350.6L362.0 350.0L362.7 349.5L363.5 349.1L364.3 348.6L365.1 348.1L365.9 347.6L366.8 347.1L367.6 346.6L368.5 346.1L369.4 345.6L370.2 345.1L371.1 344.5L372.0 344.0L372.9 343.5L373.8 342.9L374.7 342.4L375.6 341.8L376.5 341.3L377.4 340.7L378.3 340.1L379.1 339.6L380.0 339.0L380.9 338.4L381.8 337.8L382.7 337.2L383.6 336.6L384.6 336.0L385.6 335.3L386.5 334.7L387.5 334.1L388.4 333.4L389.4 332.8L390.3 332.1L391.3 331.5L392.2 330.8L393.0 330.2L393.9 329.6L394.7 328.9L395.4 328.3L396.2 327.7L396.8 327.1L397.4 326.6L398.0 326.0L399.0 324.9L399.9 323.7L400.6 322.6L401.1 321.5L401.6 320.4L401.9 319.4L402.0 318.5L402.1 317.6Z" fill="#000000" stroke="#000000" stroke-width="0.5"/><path d="M420.4 376.6L420.3 377.8L420.0 379.0L419.7 379.8L419.4 380.5L418.9 381.2L418.4 381.9L417.9 382.6L417.3 383.3L416.6 384.0L415.9 384.7L415.1 385.4L414.3 386.1L413.5 386.9L412.7 387.6L411.8 388.4L410.9 389.2L410.0 390.0L409.4 390.6L408.7 391.2L408.0 391.8L407.3 392.4L406.6 393.0L405.8 393.6L405.0 394.2L404.2 394.9L403.4 395.5L402.6 396.2L401.8 396.8L401.0 397.5L400.2 398.1L399.3 398.8L398.5 399.4L397.7 400.1L396.9 400.8L396.1 401.4L395.3 402.1L394.5 402.7L393.7 403.4L393.0 404.0L392.2 404.7L391.3 405.5L390.4 406.2L389.6 407.0L388.7 407.8L387.8 408.5L386.9 409.3L386.1 410.0L385.2 410.8L384.4 411.6L383.6 412.3L382.8 413.1L382.0 413.8L381.3 414.5L380.5 415.2L379.8 416.0L379.2 416.7L378.6 417.3L378.0 418.0L377.1 419.1L376.2 420.2L375.4 421.3L374.7 422.4L374.0 423.4L373.5 424.4L373.0 425.4L373.0 439.9L373.5 439.1L374.0 438.3L374.7 437.5L375.4 436.7L376.2 435.8L377.1 434.9L378.0 434.0L378.6 433.4L379.2 432.9L379.8 432.3L380.5 431.7L381.3 431.1L382.0 430.5L382.8 429.9L383.6 429.3L384.4 428.6L385.2 428.0L386.1 427.3L386.9 426.7L387.8 426.0L388.7 425.4L389.6 424.7L390.4 424.0L391.3 423.4L392.2 422.7L393.0 422.0L393.7 421.4L394.5 420.8L395.3 420.2L396.1 419.6L396.9 418.9L397.7 418.3L398.5 417.7L399.3 417.0L400.2 416.4L401.0 415.7L401.8 415.1L402.6 414.4L403.4 413.8L404.2 413.1L405.0 412.4L405.8 411.8L406.6 411.2L407.3 410.5L408.0 409.9L408.7 409.2L409.4 408.6L410.0 408.0L410.9 407.1L411.8 406.2L412.7 405.3L413.5 404.3L414.3 403.4L415.1 402.5L415.9 401.6L416.6 400.7L417.3 399.8L417.9 398.9L418.4 398.1L418.9 397.3L419.4 396.5L419.7 395.7L420.0 395.0L420.3 394.0L420.4 393.0Z" fill="#000000" stroke="#000000" stroke-width="0.5"/><path d="M373.0 425.4L372.6 426.4L372.3 427.3L372.3 441.4L372.6 440.6L373.0 439.9Z" fill="#9b9b9b" stroke="#9b9b9b" stroke-width="0.5"/><path d="M372.3 427.3L372.1 428.2L372.0 429.0L372.0 443.0L372.1 442.2L372.3 441.4Z" fill="#909090" stroke="#909090" stroke-width="0.5"/><path d="M448.7 446.2L448.6 447.4L448.6 462.0L448.7 461.1Z" fill="#868686" stroke="#868686" stroke-width="0.5"/><path d="M448.6 447.4L448.5 448.5L448.2 449.7L448.2 463.9L448.5 462.9L448.6 462.0Z" fill="#909090" stroke="#909090" stroke-width="0.5"/><path d="M448.2 449.7L447.9 450.8L447.5 451.9L447.5 466.0L447.9 464.9L448.2 463.9Z" fill="#9b9b9b" stroke="#9b9b9b" stroke-width="0.5"/><path d="M447.5 451.9L447.0 453.0L446.6 453.7L446.1 454.5L446.1 468.6L446.6 467.8L447.0 467.0L447.5 466.0Z" fill="#a5a5a5" stroke="#a5a5a5" stroke-width="0.5"/><path d="M446.1 454.5L445.5 455.2L444.9 455.9L444.2 456.6L443.5 457.3L442.8 458.0L442.0 458.7L441.2 459.4L440.3 460.1L439.5 460.8L438.7 461.5L437.8 462.3L437.0 463.0L436.3 463.6L435.6 464.3L435.6 480.3L436.3 479.7L437.0 479.0L437.8 478.2L438.7 477.3L439.5 476.4L440.3 475.6L441.2 474.7L442.0 473.8L442.8 472.9L443.5 472.0L444.2 471.1L444.9 470.2L445.5 469.4L446.1 468.6Z" fill="#afafaf" stroke="#afafaf" stroke-width="0.5"/><path d="M435.6 464.3L434.8 464.9L434.1 465.5L433.3 466.2L432.5 466.8L431.7 467.5L430.9 468.2L430.1 468.8L429.3 469.5L428.5 470.2L427.7 470.8L426.9 471.5L426.2 472.1L425.4 472.7L424.7 473.4L424.7 489.4L425.4 488.8L426.2 488.1L426.9 487.5L427.7 486.9L428.5 486.2L429.3 485.6L430.1 484.9L430.9 484.3L431.7 483.7L432.5 483.0L433.3 482.3L434.1 481.7L434.8 481.0L435.6 480.3Z" fill="#bababa" stroke="#bababa" stroke-width="0.5"/><path d="M424.7 473.4L424.0 474.0L423.2 474.8L422.3 475.6L421.5 476.4L420.6 477.2L419.8 478.1L419.0 478.9L418.2 479.7L417.4 480.5L416.7 481.2L416.0 481.9L415.4 482.5L414.9 483.1L414.4 483.6L414.0 484.0L414.0 500.0L414.4 499.6L414.9 499.1L415.4 498.5L416.0 497.9L416.7 497.2L417.4 496.5L418.2 495.7L419.0 494.9L419.8 494.1L420.6 493.2L421.5 492.4L422.3 491.6L423.2 490.8L424.0 490.0L424.7 489.4Z" fill="#afafaf" stroke="#afafaf" stroke-width="0.5"/><path d="M304.1 93.7L303.2 94.3L302.3 94.9L301.4 95.6L300.5 96.2L299.6 96.8L298.6 97.4L297.7 98.0L296.8 98.6L295.9 99.2L295.1 99.8L294.2 100.4L293.4 101.0L292.5 101.6L291.8 102.1L291.0 102.7L291.0 110.6L291.8 110.1L292.5 109.6L293.4 109.0L294.2 108.5L295.1 108.0L295.9 107.4L296.8 106.9L297.7 106.3L298.6 105.8L299.6 105.2L300.5 104.6L301.4 104.0L302.3 103.4L303.2 102.7L304.1 102.1Z" fill="#f4f4f4" opacity="0.85"/><path d="M362.4 158.9L361.8 159.3L361.1 159.7L360.3 160.1L359.5 160.5L358.7 160.9L357.8 161.3L356.9 161.7L356.0 162.2L355.0 162.6L354.0 163.0L353.0 163.4L352.0 163.8L351.0 164.3L350.0 164.7L349.0 165.1L347.9 165.6L346.9 166.0L346.0 166.5L345.0 167.0L344.1 167.4L343.2 167.9L342.4 168.4L341.4 168.9L340.5 169.3L339.6 169.8L338.7 170.3L337.7 170.8L336.8 171.3L335.9 171.9L334.9 172.4L334.0 172.9L333.1 173.4L332.1 173.9L331.2 174.5L330.3 175.0L329.4 175.5L328.5 176.0L327.6 176.5L326.7 177.0L325.8 177.5L325.0 178.0L324.0 178.6L323.0 179.1L322.0 179.7L321.0 180.2L320.0 180.8L319.0 181.4L318.0 181.9L317.1 182.5L316.1 183.0L315.2 183.6L314.2 184.1L313.3 184.7L312.5 185.2L311.6 185.7L310.8 186.3L310.0 186.8L309.3 187.4L309.3 193.8L310.0 193.3L310.8 192.8L311.6 192.3L312.5 191.7L313.3 191.2L314.2 190.7L315.2 190.2L316.1 189.7L317.1 189.2L318.0 188.7L319.0 188.2L320.0 187.7L321.0 187.1L322.0 186.6L323.0 186.1L324.0 185.5L325.0 185.0L325.8 184.5L326.7 184.0L327.6 183.6L328.5 183.1L329.4 182.6L330.3 182.1L331.2 181.6L332.1 181.1L333.1 180.6L334.0 180.1L334.9 179.6L335.9 179.0L336.8 178.5L337.7 178.0L338.7 177.5L339.6 177.0L340.5 176.5L341.4 176.0L342.4 175.5L343.2 175.0L344.1 174.5L345.0 174.0L346.0 173.5L346.9 172.9L347.9 172.4L349.0 171.8L350.0 171.3L351.0 170.8L352.0 170.2L353.0 169.7L354.0 169.1L355.0 168.6L356.0 168.1L356.9 167.5L357.8 167.0L358.7 166.5L359.5 166.0L360.3 165.4L361.1 164.9L361.8 164.4L362.4 163.9Z" fill="#f4f4f4" opacity="0.85"/><path d="M282.0 111.0L282.0 112.0L282.0 129.8L282.0 129.0ZM282.0 112.0L282.1 113.1L282.3 114.2L282.3 131.4L282.1 130.6L282.0 129.8ZM282.3 114.2L282.6 115.3L283.0 116.4L283.0 133.1L282.6 132.2L282.3 131.4ZM283.0 116.4L283.5 117.4L284.1 118.5L284.7 119.5L284.7 135.7L284.1 134.8L283.5 133.9L283.0 133.1ZM284.7 119.5L285.4 120.5L286.2 121.4L287.1 122.2L287.1 138.2L286.2 137.4L285.4 136.5L284.7 135.7ZM287.1 122.2L288.0 123.0L288.7 123.5L289.4 123.9L290.1 124.2L290.9 124.6L291.7 124.9L292.6 125.2L293.4 125.5L293.4 142.8L292.6 142.3L291.7 141.7L290.9 141.2L290.1 140.6L289.4 140.1L288.7 139.5L288.0 139.0L287.1 138.2ZM293.4 125.5L294.4 125.7L295.3 125.9L296.3 126.2L297.3 126.4L298.3 126.6L299.4 126.8L300.5 127.0L301.6 127.2L302.7 127.5L303.8 127.7L305.0 128.0L305.9 128.2L306.7 128.4L307.6 128.6L308.6 128.8L309.5 129.0L310.5 129.2L311.5 129.5L312.5 129.7L313.5 129.9L314.6 130.1L315.6 130.3L316.7 130.5L317.7 130.7L318.8 130.9L319.8 131.1L320.9 131.3L321.9 131.5L323.0 131.7L324.0 131.9L325.1 132.1L326.1 132.3L327.1 132.5L328.1 132.7L329.0 132.8L330.0 133.0L331.1 133.2L332.2 133.3L333.2 133.5L334.3 133.7L335.4 133.8L336.5 133.9L337.6 134.1L338.7 134.2L339.8 134.3L340.9 134.4L341.9 134.6L343.0 134.7L344.0 134.8L345.0 134.9L346.0 135.0L346.9 135.2L347.9 135.3L348.8 135.4L349.6 135.6L350.5 135.7L351.3 135.8L352.0 136.0L353.5 136.3L354.8 136.7L356.0 137.0L357.1 137.3L358.1 137.7L358.9 138.1L359.7 138.5L359.7 151.0L358.9 150.8L358.1 150.6L357.1 150.4L356.0 150.3L354.8 150.1L353.5 150.1L352.0 150.0L351.3 150.0L350.5 150.0L349.6 150.0L348.8 150.1L347.9 150.1L346.9 150.2L346.0 150.2L345.0 150.3L344.0 150.4L343.0 150.5L341.9 150.6L340.9 150.6L339.8 150.7L338.7 150.8L337.6 150.9L336.5 150.9L335.4 151.0L334.3 151.0L333.2 151.0L332.2 151.0L331.1 151.0L330.0 151.0L329.0 151.0L328.1 150.9L327.1 150.9L326.1 150.8L325.1 150.8L324.0 150.7L323.0 150.6L321.9 150.5L320.9 150.5L319.8 150.4L318.8 150.3L317.7 150.2L316.7 150.1L315.6 150.0L314.6 149.8L313.5 149.7L312.5 149.5L311.5 149.4L310.5 149.2L309.5 149.0L308.6 148.9L307.6 148.7L306.7 148.5L305.9 148.2L305.0 148.0L303.8 147.7L302.7 147.3L301.6 146.9L300.5 146.4L299.4 146.0L298.3 145.5L297.3 145.0L296.3 144.5L295.3 143.9L294.4 143.4L293.4 142.8ZM359.7 138.5L360.5 138.9L361.3 139.4L362.0 140.0L362.9 140.8L363.8 141.7L363.8 153.1L362.9 152.5L362.0 152.0L361.3 151.6L360.5 151.3L359.7 151.0ZM363.8 141.7L364.6 142.8L365.4 143.8L365.4 154.4L364.6 153.7L363.8 153.1ZM365.4 143.8L366.0 144.9L366.5 146.0L366.5 156.1L366.0 155.2L365.4 154.4ZM366.5 146.0L366.8 147.0L366.8 157.0L366.5 156.1ZM366.8 147.0L367.0 148.0L367.0 158.0L366.8 157.0ZM367.0 148.0L367.0 148.8L367.0 159.0L367.0 158.0ZM302.0 195.0L302.0 196.0L302.0 211.9L302.0 211.0ZM302.0 196.0L302.2 197.0L302.4 198.0L302.4 213.8L302.2 212.8L302.0 211.9ZM302.4 198.0L302.8 198.9L302.8 214.7L302.4 213.8ZM302.8 198.9L303.2 199.9L303.9 200.8L303.9 216.5L303.2 215.6L302.8 214.7ZM303.9 200.8L304.6 201.7L305.6 202.5L305.6 218.3L304.6 217.4L303.9 216.5ZM305.6 202.5L306.7 203.3L308.0 204.0L308.7 204.3L309.4 204.6L309.4 220.7L308.7 220.4L308.0 220.0L306.7 219.2L305.6 218.3ZM309.4 204.6L310.2 204.9L311.0 205.2L311.9 205.4L312.8 205.7L313.7 205.9L314.7 206.2L315.7 206.4L316.7 206.6L317.8 206.8L318.9 207.0L320.0 207.2L321.1 207.4L322.2 207.6L323.4 207.8L324.5 208.0L325.6 208.2L326.7 208.4L327.8 208.6L328.9 208.8L330.0 209.0L330.9 209.2L331.9 209.4L332.9 209.5L333.9 209.7L334.9 209.9L335.9 210.1L337.0 210.2L338.0 210.4L339.0 210.6L340.1 210.7L341.1 210.9L342.2 211.0L343.2 211.2L344.3 211.4L345.3 211.5L346.3 211.7L347.3 211.8L348.4 212.0L349.4 212.1L350.3 212.3L351.3 212.4L352.3 212.6L353.2 212.7L354.1 212.9L355.0 213.0L356.2 213.2L357.3 213.3L358.5 213.5L359.6 213.6L360.7 213.8L361.8 213.9L362.9 214.1L364.0 214.2L365.0 214.3L366.1 214.4L367.1 214.6L368.1 214.7L369.0 214.9L369.9 215.0L370.8 215.2L371.7 215.4L372.5 215.6L372.5 231.8L371.7 231.7L370.8 231.6L369.9 231.6L369.0 231.6L368.1 231.5L367.1 231.5L366.1 231.5L365.0 231.5L364.0 231.5L362.9 231.5L361.8 231.4L360.7 231.4L359.6 231.4L358.5 231.3L357.3 231.2L356.2 231.1L355.0 231.0L354.1 230.9L353.2 230.8L352.3 230.7L351.3 230.6L350.3 230.4L349.4 230.3L348.4 230.2L347.3 230.0L346.3 229.9L345.3 229.8L344.3 229.6L343.2 229.5L342.2 229.3L341.1 229.1L340.1 229.0L339.0 228.8L338.0 228.6L337.0 228.4L335.9 228.2L334.9 228.0L333.9 227.8L332.9 227.6L331.9 227.4L330.9 227.2L330.0 227.0L328.9 226.7L327.8 226.5L326.7 226.2L325.6 225.9L324.5 225.7L323.4 225.4L322.2 225.1L321.1 224.8L320.0 224.4L318.9 224.1L317.8 223.8L316.7 223.5L315.7 223.2L314.7 222.8L313.7 222.5L312.8 222.1L311.9 221.8L311.0 221.4L310.2 221.1L309.4 220.7ZM372.5 215.6L373.3 215.8L374.0 216.0L375.4 216.5L376.8 217.1L378.0 217.7L379.0 218.4L379.9 219.1L380.7 219.8L381.3 220.5L381.7 221.3L382.0 222.0L382.1 222.7L382.1 236.8L382.0 236.0L381.7 235.2L381.3 234.6L380.7 234.0L379.9 233.6L379.0 233.2L378.0 232.9L376.8 232.6L375.4 232.3L374.0 232.0L373.3 231.9L372.5 231.8ZM319.9 271.1L320.0 272.0L320.2 272.8L320.5 273.5L320.9 274.3L321.4 274.9L322.0 275.6L322.7 276.2L323.6 276.8L324.5 277.3L325.5 277.9L326.7 278.5L328.0 279.0L328.7 279.3L329.5 279.5L330.3 279.8L331.1 280.1L332.0 280.3L332.9 280.6L333.9 280.8L334.8 281.0L335.9 281.3L336.9 281.5L337.9 281.8L339.0 282.0L340.1 282.2L341.2 282.4L342.3 282.6L343.4 282.8L344.5 283.0L345.6 283.2L346.7 283.4L347.8 283.6L348.9 283.8L350.0 284.0L350.9 284.2L351.9 284.3L352.9 284.4L353.9 284.6L354.9 284.7L355.9 284.8L356.9 284.9L358.0 285.0L359.0 285.1L360.0 285.2L361.1 285.3L362.1 285.4L363.1 285.6L364.2 285.7L365.2 285.8L366.2 285.9L367.3 286.0L368.3 286.1L369.3 286.2L370.3 286.3L371.2 286.4L372.2 286.6L373.2 286.7L374.1 286.8L375.0 287.0L376.1 287.2L377.3 287.4L378.4 287.6L379.5 287.8L380.7 288.0L381.8 288.3L382.9 288.5L384.0 288.7L385.1 288.9L386.1 289.2L387.2 289.4L388.2 289.7L389.2 289.9L390.1 290.2L391.0 290.5L391.9 290.8L392.8 291.1L393.5 291.4L394.3 291.7L395.0 292.0L396.4 292.7L397.6 293.5L398.7 294.4L399.6 295.2L400.4 296.1L401.0 297.1L401.4 298.0L401.8 299.0L402.0 300.0L402.1 300.9L402.1 301.9L402.1 317.6L402.1 316.7L402.0 316.0L401.8 315.3L401.4 314.7L401.0 314.2L400.4 313.8L399.6 313.4L398.7 313.0L397.6 312.7L396.4 312.4L395.0 312.0L394.3 311.8L393.5 311.7L392.8 311.5L391.9 311.4L391.0 311.2L390.1 311.1L389.2 311.0L388.2 310.8L387.2 310.7L386.1 310.6L385.1 310.4L384.0 310.3L382.9 310.2L381.8 310.0L380.7 309.9L379.5 309.7L378.4 309.5L377.3 309.4L376.1 309.2L375.0 309.0L374.1 308.8L373.2 308.7L372.2 308.5L371.2 308.3L370.3 308.2L369.3 308.0L368.3 307.8L367.3 307.6L366.2 307.4L365.2 307.2L364.2 307.0L363.1 306.8L362.1 306.6L361.1 306.4L360.0 306.2L359.0 306.0L358.0 305.8L356.9 305.6L355.9 305.4L354.9 305.2L353.9 304.9L352.9 304.7L351.9 304.5L350.9 304.2L350.0 304.0L348.9 303.7L347.8 303.4L346.7 303.2L345.6 302.9L344.5 302.6L343.4 302.3L342.3 302.0L341.2 301.7L340.1 301.4L339.0 301.1L337.9 300.8L336.9 300.4L335.9 300.1L334.8 299.8L333.9 299.4L332.9 299.1L332.0 298.8L331.1 298.4L330.3 298.1L329.5 297.7L328.7 297.4L328.0 297.0L326.7 296.3L325.5 295.5L324.5 294.7L323.6 293.9L322.7 293.0L322.0 292.2L321.4 291.4L320.9 290.5L320.5 289.7L320.2 288.8L320.0 288.0L319.9 287.1ZM345.7 350.2L345.8 351.1L346.0 352.0L346.3 352.7L346.6 353.4L347.0 354.0L347.5 354.5L348.2 355.0L349.0 355.5L349.9 355.9L351.1 356.3L352.4 356.6L354.0 357.0L354.7 357.1L355.4 357.3L356.2 357.4L357.0 357.5L357.9 357.6L358.8 357.7L359.7 357.8L360.7 357.8L361.7 357.9L362.7 358.0L363.8 358.1L364.9 358.1L365.9 358.2L367.0 358.2L368.1 358.3L369.3 358.4L370.4 358.4L371.5 358.5L372.6 358.5L373.7 358.6L374.8 358.7L375.9 358.7L376.9 358.8L378.0 358.9L379.0 358.9L380.0 359.0L381.0 359.1L382.1 359.1L383.1 359.2L384.2 359.3L385.3 359.3L386.4 359.4L387.4 359.4L388.5 359.5L389.6 359.6L390.7 359.6L391.8 359.7L392.8 359.7L393.9 359.8L395.0 359.8L396.0 359.9L397.0 360.0L398.0 360.1L399.0 360.1L399.9 360.2L400.8 360.3L401.7 360.5L402.6 360.6L403.4 360.7L404.2 360.8L405.0 361.0L406.5 361.3L407.9 361.7L409.1 362.1L410.3 362.5L411.4 362.9L412.4 363.4L413.3 363.9L414.1 364.4L414.9 365.0L415.7 365.6L416.4 366.3L417.0 367.0L417.7 368.0L418.4 369.0L419.0 370.2L419.5 371.4L419.9 372.7L420.2 374.0L420.3 375.3L420.4 376.6L420.4 393.0L420.3 392.0L420.2 391.2L419.9 390.3L419.5 389.5L419.0 388.8L418.4 388.1L417.7 387.5L417.0 387.0L416.4 386.6L415.7 386.3L414.9 386.1L414.1 386.0L413.3 385.8L412.4 385.8L411.4 385.7L410.3 385.6L409.1 385.5L407.9 385.4L406.5 385.2L405.0 385.0L404.2 384.9L403.4 384.8L402.6 384.6L401.7 384.5L400.8 384.4L399.9 384.2L399.0 384.1L398.0 383.9L397.0 383.8L396.0 383.6L395.0 383.5L393.9 383.3L392.8 383.2L391.8 383.0L390.7 382.8L389.6 382.7L388.5 382.5L387.4 382.3L386.4 382.1L385.3 382.0L384.2 381.8L383.1 381.6L382.1 381.4L381.0 381.2L380.0 381.0L379.0 380.8L378.0 380.6L376.9 380.4L375.9 380.2L374.8 380.0L373.7 379.8L372.6 379.6L371.5 379.4L370.4 379.2L369.3 379.0L368.1 378.8L367.0 378.5L365.9 378.3L364.9 378.1L363.8 377.9L362.7 377.6L361.7 377.4L360.7 377.1L359.7 376.9L358.8 376.6L357.9 376.4L357.0 376.1L356.2 375.8L355.4 375.6L354.7 375.3L354.0 375.0L352.4 374.2L351.1 373.4L349.9 372.5L349.0 371.6L348.2 370.6L347.5 369.7L347.0 368.7L346.6 367.8L346.3 366.9L346.0 366.0L345.8 365.1L345.7 364.2ZM372.0 429.0L372.0 430.0L372.0 444.0L372.0 443.0ZM372.0 430.0L372.1 431.0L372.4 431.9L372.4 446.2L372.1 445.1L372.0 444.0ZM372.4 431.9L372.8 432.8L372.8 447.3L372.4 446.2ZM372.8 432.8L373.3 433.6L373.3 448.3L372.8 447.3ZM373.3 433.6L374.0 434.3L374.8 435.0L374.8 450.3L374.0 449.4L373.3 448.3ZM374.8 435.0L375.8 435.6L377.0 436.0L377.0 452.0L375.8 451.2L374.8 450.3ZM377.0 436.0L377.7 436.2L378.4 436.3L379.2 436.4L380.0 436.5L380.9 436.6L381.8 436.6L382.7 436.6L383.7 436.6L384.8 436.6L385.8 436.5L386.9 436.5L388.0 436.4L389.1 436.3L390.3 436.3L391.4 436.2L392.6 436.1L393.8 436.1L395.0 436.0L395.9 436.0L396.8 435.9L397.7 435.8L398.7 435.8L399.6 435.7L400.6 435.6L401.6 435.5L402.7 435.4L403.7 435.3L404.7 435.2L405.8 435.1L406.8 435.0L407.9 435.0L409.0 434.9L410.0 434.8L411.1 434.7L412.1 434.6L413.2 434.5L414.2 434.4L415.2 434.3L416.2 434.2L417.2 434.2L418.1 434.1L419.1 434.0L420.0 434.0L421.1 433.9L422.3 433.9L423.4 433.8L424.5 433.7L425.6 433.7L426.7 433.6L427.8 433.5L428.9 433.5L430.0 433.4L431.1 433.4L432.1 433.3L433.1 433.3L434.1 433.3L435.0 433.3L436.0 433.4L436.8 433.5L437.7 433.5L438.5 433.7L439.3 433.8L440.0 434.0L441.3 434.5L442.5 435.0L442.5 454.3L441.3 454.1L440.0 454.0L439.3 454.0L438.5 454.0L437.7 454.0L436.8 454.0L436.0 454.1L435.0 454.2L434.1 454.3L433.1 454.5L432.1 454.6L431.1 454.8L430.0 454.9L428.9 455.1L427.8 455.2L426.7 455.4L425.6 455.5L424.5 455.6L423.4 455.8L422.3 455.9L421.1 455.9L420.0 456.0L419.1 456.0L418.1 456.1L417.2 456.1L416.2 456.2L415.2 456.2L414.2 456.2L413.2 456.3L412.1 456.3L411.1 456.3L410.0 456.3L409.0 456.4L407.9 456.4L406.8 456.4L405.8 456.4L404.7 456.4L403.7 456.4L402.7 456.4L401.6 456.3L400.6 456.3L399.6 456.3L398.7 456.2L397.7 456.2L396.8 456.1L395.9 456.1L395.0 456.0L393.8 455.9L392.6 455.8L391.4 455.6L390.3 455.5L389.1 455.3L388.0 455.1L386.9 455.0L385.8 454.8L384.8 454.6L383.7 454.3L382.7 454.1L381.8 453.9L380.9 453.6L380.0 453.3L379.2 453.0L378.4 452.7L377.7 452.4L377.0 452.0ZM442.5 435.0L443.6 435.7L444.5 436.5L445.3 437.3L445.3 455.3L444.5 454.9L443.6 454.6L442.5 454.3ZM445.3 437.3L446.0 438.2L446.6 439.1L446.6 456.2L446.0 455.8L445.3 455.3ZM446.6 439.1L447.2 440.1L447.6 441.0L448.0 442.0L448.0 458.0L447.6 457.4L447.2 456.8L446.6 456.2ZM448.0 442.0L448.3 443.0L448.3 458.7L448.0 458.0ZM448.3 443.0L448.5 444.0L448.6 445.1L448.6 460.2L448.5 459.4L448.3 458.7ZM448.6 445.1L448.7 446.2L448.7 461.1L448.6 460.2Z" fill="#4a4a4a" stroke="#4a4a4a" stroke-width="2.4" stroke-linejoin="round"/><path d="M282.0 111.0L282.0 112.0L282.0 129.8L282.0 129.0Z" fill="#868686" stroke="#868686" stroke-width="0.5"/><path d="M282.0 112.0L282.1 113.1L282.3 114.2L282.3 131.4L282.1 130.6L282.0 129.8Z" fill="#949494" stroke="#949494" stroke-width="0.5"/><path d="M282.3 114.2L282.6 115.3L283.0 116.4L283.0 133.1L282.6 132.2L282.3 131.4Z" fill="#a1a1a1" stroke="#a1a1a1" stroke-width="0.5"/><path d="M283.0 116.4L283.5 117.4L284.1 118.5L284.7 119.5L284.7 135.7L284.1 134.8L283.5 133.9L283.0 133.1Z" fill="#afafaf" stroke="#afafaf" stroke-width="0.5"/><path d="M284.7 119.5L285.4 120.5L286.2 121.4L287.1 122.2L287.1 138.2L286.2 137.4L285.4 136.5L284.7 135.7Z" fill="#bdbdbd" stroke="#bdbdbd" stroke-width="0.5"/><path d="M287.1 122.2L288.0 123.0L288.7 123.5L289.4 123.9L290.1 124.2L290.9 124.6L291.7 124.9L292.6 125.2L293.4 125.5L293.4 142.8L292.6 142.3L291.7 141.7L290.9 141.2L290.1 140.6L289.4 140.1L288.7 139.5L288.0 139.0L287.1 138.2Z" fill="#cacaca" stroke="#cacaca" stroke-width="0.5"/><path d="M293.4 125.5L294.4 125.7L295.3 125.9L296.3 126.2L297.3 126.4L298.3 126.6L299.4 126.8L300.5 127.0L301.6 127.2L302.7 127.5L303.8 127.7L305.0 128.0L305.9 128.2L306.7 128.4L307.6 128.6L308.6 128.8L309.5 129.0L310.5 129.2L311.5 129.5L312.5 129.7L313.5 129.9L314.6 130.1L315.6 130.3L316.7 130.5L317.7 130.7L318.8 130.9L319.8 131.1L320.9 131.3L321.9 131.5L323.0 131.7L324.0 131.9L325.1 132.1L326.1 132.3L327.1 132.5L328.1 132.7L329.0 132.8L330.0 133.0L331.1 133.2L332.2 133.3L333.2 133.5L334.3 133.7L335.4 133.8L336.5 133.9L337.6 134.1L338.7 134.2L339.8 134.3L340.9 134.4L341.9 134.6L343.0 134.7L344.0 134.8L345.0 134.9L346.0 135.0L346.9 135.2L347.9 135.3L348.8 135.4L349.6 135.6L350.5 135.7L351.3 135.8L352.0 136.0L353.5 136.3L354.8 136.7L356.0 137.0L357.1 137.3L358.1 137.7L358.9 138.1L359.7 138.5L359.7 151.0L358.9 150.8L358.1 150.6L357.1 150.4L356.0 150.3L354.8 150.1L353.5 150.1L352.0 150.0L351.3 150.0L350.5 150.0L349.6 150.0L348.8 150.1L347.9 150.1L346.9 150.2L346.0 150.2L345.0 150.3L344.0 150.4L343.0 150.5L341.9 150.6L340.9 150.6L339.8 150.7L338.7 150.8L337.6 150.9L336.5 150.9L335.4 151.0L334.3 151.0L333.2 151.0L332.2 151.0L331.1 151.0L330.0 151.0L329.0 151.0L328.1 150.9L327.1 150.9L326.1 150.8L325.1 150.8L324.0 150.7L323.0 150.6L321.9 150.5L320.9 150.5L319.8 150.4L318.8 150.3L317.7 150.2L316.7 150.1L315.6 150.0L314.6 149.8L313.5 149.7L312.5 149.5L311.5 149.4L310.5 149.2L309.5 149.0L308.6 148.9L307.6 148.7L306.7 148.5L305.9 148.2L305.0 148.0L303.8 147.7L302.7 147.3L301.6 146.9L300.5 146.4L299.4 146.0L298.3 145.5L297.3 145.0L296.3 144.5L295.3 143.9L294.4 143.4L293.4 142.8Z" fill="#d8d8d8" stroke="#d8d8d8" stroke-width="0.5"/><path d="M359.7 138.5L360.5 138.9L361.3 139.4L362.0 140.0L362.9 140.8L363.8 141.7L363.8 153.1L362.9 152.5L362.0 152.0L361.3 151.6L360.5 151.3L359.7 151.0Z" fill="#cacaca" stroke="#cacaca" stroke-width="0.5"/><path d="M363.8 141.7L364.6 142.8L365.4 143.8L365.4 154.4L364.6 153.7L363.8 153.1Z" fill="#bdbdbd" stroke="#bdbdbd" stroke-width="0.5"/><path d="M365.4 143.8L366.0 144.9L366.5 146.0L366.5 156.1L366.0 155.2L365.4 154.4Z" fill="#afafaf" stroke="#afafaf" stroke-width="0.5"/><path d="M366.5 146.0L366.8 147.0L366.8 157.0L366.5 156.1Z" fill="#a1a1a1" stroke="#a1a1a1" stroke-width="0.5"/><path d="M366.8 147.0L367.0 148.0L367.0 158.0L366.8 157.0Z" fill="#949494" stroke="#949494" stroke-width="0.5"/><path d="M367.0 148.0L367.0 148.8L367.0 159.0L367.0 158.0Z" fill="#868686" stroke="#868686" stroke-width="0.5"/><path d="M302.0 195.0L302.0 196.0L302.0 211.9L302.0 211.0Z" fill="#868686" stroke="#868686" stroke-width="0.5"/><path d="M302.0 196.0L302.2 197.0L302.4 198.0L302.4 213.8L302.2 212.8L302.0 211.9Z" fill="#949494" stroke="#949494" stroke-width="0.5"/><path d="M302.4 198.0L302.8 198.9L302.8 214.7L302.4 213.8Z" fill="#a1a1a1" stroke="#a1a1a1" stroke-width="0.5"/><path d="M302.8 198.9L303.2 199.9L303.9 200.8L303.9 216.5L303.2 215.6L302.8 214.7Z" fill="#afafaf" stroke="#afafaf" stroke-width="0.5"/><path d="M303.9 200.8L304.6 201.7L305.6 202.5L305.6 218.3L304.6 217.4L303.9 216.5Z" fill="#bdbdbd" stroke="#bdbdbd" stroke-width="0.5"/><path d="M305.6 202.5L306.7 203.3L308.0 204.0L308.7 204.3L309.4 204.6L309.4 220.7L308.7 220.4L308.0 220.0L306.7 219.2L305.6 218.3Z" fill="#cacaca" stroke="#cacaca" stroke-width="0.5"/><path d="M309.4 204.6L310.2 204.9L311.0 205.2L311.9 205.4L312.8 205.7L313.7 205.9L314.7 206.2L315.7 206.4L316.7 206.6L317.8 206.8L318.9 207.0L320.0 207.2L321.1 207.4L322.2 207.6L323.4 207.8L324.5 208.0L325.6 208.2L326.7 208.4L327.8 208.6L328.9 208.8L330.0 209.0L330.9 209.2L331.9 209.4L332.9 209.5L333.9 209.7L334.9 209.9L335.9 210.1L337.0 210.2L338.0 210.4L339.0 210.6L340.1 210.7L341.1 210.9L342.2 211.0L343.2 211.2L344.3 211.4L345.3 211.5L346.3 211.7L347.3 211.8L348.4 212.0L349.4 212.1L350.3 212.3L351.3 212.4L352.3 212.6L353.2 212.7L354.1 212.9L355.0 213.0L356.2 213.2L357.3 213.3L358.5 213.5L359.6 213.6L360.7 213.8L361.8 213.9L362.9 214.1L364.0 214.2L365.0 214.3L366.1 214.4L367.1 214.6L368.1 214.7L369.0 214.9L369.9 215.0L370.8 215.2L371.7 215.4L372.5 215.6L372.5 231.8L371.7 231.7L370.8 231.6L369.9 231.6L369.0 231.6L368.1 231.5L367.1 231.5L366.1 231.5L365.0 231.5L364.0 231.5L362.9 231.5L361.8 231.4L360.7 231.4L359.6 231.4L358.5 231.3L357.3 231.2L356.2 231.1L355.0 231.0L354.1 230.9L353.2 230.8L352.3 230.7L351.3 230.6L350.3 230.4L349.4 230.3L348.4 230.2L347.3 230.0L346.3 229.9L345.3 229.8L344.3 229.6L343.2 229.5L342.2 229.3L341.1 229.1L340.1 229.0L339.0 228.8L338.0 228.6L337.0 228.4L335.9 228.2L334.9 228.0L333.9 227.8L332.9 227.6L331.9 227.4L330.9 227.2L330.0 227.0L328.9 226.7L327.8 226.5L326.7 226.2L325.6 225.9L324.5 225.7L323.4 225.4L322.2 225.1L321.1 224.8L320.0 224.4L318.9 224.1L317.8 223.8L316.7 223.5L315.7 223.2L314.7 222.8L313.7 222.5L312.8 222.1L311.9 221.8L311.0 221.4L310.2 221.1L309.4 220.7Z" fill="#d8d8d8" stroke="#d8d8d8" stroke-width="0.5"/><path d="M372.5 215.6L373.3 215.8L374.0 216.0L375.4 216.5L376.8 217.1L378.0 217.7L379.0 218.4L379.9 219.1L380.7 219.8L381.3 220.5L381.7 221.3L382.0 222.0L382.1 222.7L382.1 236.8L382.0 236.0L381.7 235.2L381.3 234.6L380.7 234.0L379.9 233.6L379.0 233.2L378.0 232.9L376.8 232.6L375.4 232.3L374.0 232.0L373.3 231.9L372.5 231.8Z" fill="#000000" stroke="#000000" stroke-width="0.5"/><path d="M319.9 271.1L320.0 272.0L320.2 272.8L320.5 273.5L320.9 274.3L321.4 274.9L322.0 275.6L322.7 276.2L323.6 276.8L324.5 277.3L325.5 277.9L326.7 278.5L328.0 279.0L328.7 279.3L329.5 279.5L330.3 279.8L331.1 280.1L332.0 280.3L332.9 280.6L333.9 280.8L334.8 281.0L335.9 281.3L336.9 281.5L337.9 281.8L339.0 282.0L340.1 282.2L341.2 282.4L342.3 282.6L343.4 282.8L344.5 283.0L345.6 283.2L346.7 283.4L347.8 283.6L348.9 283.8L350.0 284.0L350.9 284.2L351.9 284.3L352.9 284.4L353.9 284.6L354.9 284.7L355.9 284.8L356.9 284.9L358.0 285.0L359.0 285.1L360.0 285.2L361.1 285.3L362.1 285.4L363.1 285.6L364.2 285.7L365.2 285.8L366.2 285.9L367.3 286.0L368.3 286.1L369.3 286.2L370.3 286.3L371.2 286.4L372.2 286.6L373.2 286.7L374.1 286.8L375.0 287.0L376.1 287.2L377.3 287.4L378.4 287.6L379.5 287.8L380.7 288.0L381.8 288.3L382.9 288.5L384.0 288.7L385.1 288.9L386.1 289.2L387.2 289.4L388.2 289.7L389.2 289.9L390.1 290.2L391.0 290.5L391.9 290.8L392.8 291.1L393.5 291.4L394.3 291.7L395.0 292.0L396.4 292.7L397.6 293.5L398.7 294.4L399.6 295.2L400.4 296.1L401.0 297.1L401.4 298.0L401.8 299.0L402.0 300.0L402.1 300.9L402.1 301.9L402.1 317.6L402.1 316.7L402.0 316.0L401.8 315.3L401.4 314.7L401.0 314.2L400.4 313.8L399.6 313.4L398.7 313.0L397.6 312.7L396.4 312.4L395.0 312.0L394.3 311.8L393.5 311.7L392.8 311.5L391.9 311.4L391.0 311.2L390.1 311.1L389.2 311.0L388.2 310.8L387.2 310.7L386.1 310.6L385.1 310.4L384.0 310.3L382.9 310.2L381.8 310.0L380.7 309.9L379.5 309.7L378.4 309.5L377.3 309.4L376.1 309.2L375.0 309.0L374.1 308.8L373.2 308.7L372.2 308.5L371.2 308.3L370.3 308.2L369.3 308.0L368.3 307.8L367.3 307.6L366.2 307.4L365.2 307.2L364.2 307.0L363.1 306.8L362.1 306.6L361.1 306.4L360.0 306.2L359.0 306.0L358.0 305.8L356.9 305.6L355.9 305.4L354.9 305.2L353.9 304.9L352.9 304.7L351.9 304.5L350.9 304.2L350.0 304.0L348.9 303.7L347.8 303.4L346.7 303.2L345.6 302.9L344.5 302.6L343.4 302.3L342.3 302.0L341.2 301.7L340.1 301.4L339.0 301.1L337.9 300.8L336.9 300.4L335.9 300.1L334.8 299.8L333.9 299.4L332.9 299.1L332.0 298.8L331.1 298.4L330.3 298.1L329.5 297.7L328.7 297.4L328.0 297.0L326.7 296.3L325.5 295.5L324.5 294.7L323.6 293.9L322.7 293.0L322.0 292.2L321.4 291.4L320.9 290.5L320.5 289.7L320.2 288.8L320.0 288.0L319.9 287.1Z" fill="#000000" stroke="#000000" stroke-width="0.5"/><path d="M345.7 350.2L345.8 351.1L346.0 352.0L346.3 352.7L346.6 353.4L347.0 354.0L347.5 354.5L348.2 355.0L349.0 355.5L349.9 355.9L351.1 356.3L352.4 356.6L354.0 357.0L354.7 357.1L355.4 357.3L356.2 357.4L357.0 357.5L357.9 357.6L358.8 357.7L359.7 357.8L360.7 357.8L361.7 357.9L362.7 358.0L363.8 358.1L364.9 358.1L365.9 358.2L367.0 358.2L368.1 358.3L369.3 358.4L370.4 358.4L371.5 358.5L372.6 358.5L373.7 358.6L374.8 358.7L375.9 358.7L376.9 358.8L378.0 358.9L379.0 358.9L380.0 359.0L381.0 359.1L382.1 359.1L383.1 359.2L384.2 359.3L385.3 359.3L386.4 359.4L387.4 359.4L388.5 359.5L389.6 359.6L390.7 359.6L391.8 359.7L392.8 359.7L393.9 359.8L395.0 359.8L396.0 359.9L397.0 360.0L398.0 360.1L399.0 360.1L399.9 360.2L400.8 360.3L401.7 360.5L402.6 360.6L403.4 360.7L404.2 360.8L405.0 361.0L406.5 361.3L407.9 361.7L409.1 362.1L410.3 362.5L411.4 362.9L412.4 363.4L413.3 363.9L414.1 364.4L414.9 365.0L415.7 365.6L416.4 366.3L417.0 367.0L417.7 368.0L418.4 369.0L419.0 370.2L419.5 371.4L419.9 372.7L420.2 374.0L420.3 375.3L420.4 376.6L420.4 393.0L420.3 392.0L420.2 391.2L419.9 390.3L419.5 389.5L419.0 388.8L418.4 388.1L417.7 387.5L417.0 387.0L416.4 386.6L415.7 386.3L414.9 386.1L414.1 386.0L413.3 385.8L412.4 385.8L411.4 385.7L410.3 385.6L409.1 385.5L407.9 385.4L406.5 385.2L405.0 385.0L404.2 384.9L403.4 384.8L402.6 384.6L401.7 384.5L400.8 384.4L399.9 384.2L399.0 384.1L398.0 383.9L397.0 383.8L396.0 383.6L395.0 383.5L393.9 383.3L392.8 383.2L391.8 383.0L390.7 382.8L389.6 382.7L388.5 382.5L387.4 382.3L386.4 382.1L385.3 382.0L384.2 381.8L383.1 381.6L382.1 381.4L381.0 381.2L380.0 381.0L379.0 380.8L378.0 380.6L376.9 380.4L375.9 380.2L374.8 380.0L373.7 379.8L372.6 379.6L371.5 379.4L370.4 379.2L369.3 379.0L368.1 378.8L367.0 378.5L365.9 378.3L364.9 378.1L363.8 377.9L362.7 377.6L361.7 377.4L360.7 377.1L359.7 376.9L358.8 376.6L357.9 376.4L357.0 376.1L356.2 375.8L355.4 375.6L354.7 375.3L354.0 375.0L352.4 374.2L351.1 373.4L349.9 372.5L349.0 371.6L348.2 370.6L347.5 369.7L347.0 368.7L346.6 367.8L346.3 366.9L346.0 366.0L345.8 365.1L345.7 364.2Z" fill="#000000" stroke="#000000" stroke-width="0.5"/><path d="M372.0 429.0L372.0 430.0L372.0 444.0L372.0 443.0Z" fill="#868686" stroke="#868686" stroke-width="0.5"/><path d="M372.0 430.0L372.1 431.0L372.4 431.9L372.4 446.2L372.1 445.1L372.0 444.0Z" fill="#949494" stroke="#949494" stroke-width="0.5"/><path d="M372.4 431.9L372.8 432.8L372.8 447.3L372.4 446.2Z" fill="#a1a1a1" stroke="#a1a1a1" stroke-width="0.5"/><path d="M372.8 432.8L373.3 433.6L373.3 448.3L372.8 447.3Z" fill="#afafaf" stroke="#afafaf" stroke-width="0.5"/><path d="M373.3 433.6L374.0 434.3L374.8 435.0L374.8 450.3L374.0 449.4L373.3 448.3Z" fill="#bdbdbd" stroke="#bdbdbd" stroke-width="0.5"/><path d="M374.8 435.0L375.8 435.6L377.0 436.0L377.0 452.0L375.8 451.2L374.8 450.3Z" fill="#cacaca" stroke="#cacaca" stroke-width="0.5"/><path d="M377.0 436.0L377.7 436.2L378.4 436.3L379.2 436.4L380.0 436.5L380.9 436.6L381.8 436.6L382.7 436.6L383.7 436.6L384.8 436.6L385.8 436.5L386.9 436.5L388.0 436.4L389.1 436.3L390.3 436.3L391.4 436.2L392.6 436.1L393.8 436.1L395.0 436.0L395.9 436.0L396.8 435.9L397.7 435.8L398.7 435.8L399.6 435.7L400.6 435.6L401.6 435.5L402.7 435.4L403.7 435.3L404.7 435.2L405.8 435.1L406.8 435.0L407.9 435.0L409.0 434.9L410.0 434.8L411.1 434.7L412.1 434.6L413.2 434.5L414.2 434.4L415.2 434.3L416.2 434.2L417.2 434.2L418.1 434.1L419.1 434.0L420.0 434.0L421.1 433.9L422.3 433.9L423.4 433.8L424.5 433.7L425.6 433.7L426.7 433.6L427.8 433.5L428.9 433.5L430.0 433.4L431.1 433.4L432.1 433.3L433.1 433.3L434.1 433.3L435.0 433.3L436.0 433.4L436.8 433.5L437.7 433.5L438.5 433.7L439.3 433.8L440.0 434.0L441.3 434.5L442.5 435.0L442.5 454.3L441.3 454.1L440.0 454.0L439.3 454.0L438.5 454.0L437.7 454.0L436.8 454.0L436.0 454.1L435.0 454.2L434.1 454.3L433.1 454.5L432.1 454.6L431.1 454.8L430.0 454.9L428.9 455.1L427.8 455.2L426.7 455.4L425.6 455.5L424.5 455.6L423.4 455.8L422.3 455.9L421.1 455.9L420.0 456.0L419.1 456.0L418.1 456.1L417.2 456.1L416.2 456.2L415.2 456.2L414.2 456.2L413.2 456.3L412.1 456.3L411.1 456.3L410.0 456.3L409.0 456.4L407.9 456.4L406.8 456.4L405.8 456.4L404.7 456.4L403.7 456.4L402.7 456.4L401.6 456.3L400.6 456.3L399.6 456.3L398.7 456.2L397.7 456.2L396.8 456.1L395.9 456.1L395.0 456.0L393.8 455.9L392.6 455.8L391.4 455.6L390.3 455.5L389.1 455.3L388.0 455.1L386.9 455.0L385.8 454.8L384.8 454.6L383.7 454.3L382.7 454.1L381.8 453.9L380.9 453.6L380.0 453.3L379.2 453.0L378.4 452.7L377.7 452.4L377.0 452.0Z" fill="#d8d8d8" stroke="#d8d8d8" stroke-width="0.5"/><path d="M442.5 435.0L443.6 435.7L444.5 436.5L445.3 437.3L445.3 455.3L444.5 454.9L443.6 454.6L442.5 454.3Z" fill="#cacaca" stroke="#cacaca" stroke-width="0.5"/><path d="M445.3 437.3L446.0 438.2L446.6 439.1L446.6 456.2L446.0 455.8L445.3 455.3Z" fill="#bdbdbd" stroke="#bdbdbd" stroke-width="0.5"/><path d="M446.6 439.1L447.2 440.1L447.6 441.0L448.0 442.0L448.0 458.0L447.6 457.4L447.2 456.8L446.6 456.2Z" fill="#afafaf" stroke="#afafaf" stroke-width="0.5"/><path d="M448.0 442.0L448.3 443.0L448.3 458.7L448.0 458.0Z" fill="#a1a1a1" stroke="#a1a1a1" stroke-width="0.5"/><path d="M448.3 443.0L448.5 444.0L448.6 445.1L448.6 460.2L448.5 459.4L448.3 458.7Z" fill="#949494" stroke="#949494" stroke-width="0.5"/><path d="M448.6 445.1L448.7 446.2L448.7 461.1L448.6 460.2Z" fill="#868686" stroke="#868686" stroke-width="0.5"/><path d="M288.0 127.0L288.7 127.5L289.4 127.9L290.1 128.3L290.9 128.7L291.7 129.1L292.6 129.5L293.4 129.8L294.4 130.1L295.3 130.4L296.3 130.7L297.3 131.0L298.3 131.3L299.4 131.6L300.5 131.9L301.6 132.2L302.7 132.4L303.8 132.7L305.0 133.0L305.9 133.2L306.7 133.4L307.6 133.6L308.6 133.8L309.5 134.0L310.5 134.2L311.5 134.4L312.5 134.6L313.5 134.8L314.6 135.0L315.6 135.2L316.7 135.4L317.7 135.6L318.8 135.8L319.8 136.0L320.9 136.1L321.9 136.3L323.0 136.5L324.0 136.6L325.1 136.8L326.1 136.9L327.1 137.1L328.1 137.2L329.0 137.4L330.0 137.5L331.1 137.6L332.2 137.8L333.2 137.9L334.3 138.0L335.4 138.1L336.5 138.2L337.6 138.3L338.7 138.3L339.8 138.4L340.9 138.5L341.9 138.6L343.0 138.6L344.0 138.7L345.0 138.8L346.0 138.8L346.9 138.9L347.9 139.0L348.8 139.1L349.6 139.2L350.5 139.3L351.3 139.4L352.0 139.5L353.5 139.8L354.8 140.0L356.0 140.3L357.1 140.6L358.1 140.9L358.9 141.2L359.7 141.6L360.5 142.0L361.3 142.5L362.0 143.0L362.9 143.7L362.9 147.8L362.0 147.2L361.3 146.7L360.5 146.3L359.7 146.0L358.9 145.7L358.1 145.4L357.1 145.2L356.0 145.0L354.8 144.8L353.5 144.6L352.0 144.4L351.3 144.3L350.5 144.3L349.6 144.2L348.8 144.2L347.9 144.2L346.9 144.2L346.0 144.2L345.0 144.2L344.0 144.2L343.0 144.2L341.9 144.2L340.9 144.2L339.8 144.2L338.7 144.2L337.6 144.2L336.5 144.1L335.4 144.1L334.3 144.1L333.2 144.0L332.2 144.0L331.1 143.9L330.0 143.8L329.0 143.7L328.1 143.6L327.1 143.5L326.1 143.4L325.1 143.3L324.0 143.2L323.0 143.1L321.9 142.9L320.9 142.8L319.8 142.7L318.8 142.5L317.7 142.4L316.7 142.2L315.6 142.1L314.6 141.9L313.5 141.8L312.5 141.6L311.5 141.4L310.5 141.2L309.5 141.0L308.6 140.8L307.6 140.6L306.7 140.4L305.9 140.2L305.0 140.0L303.8 139.7L302.7 139.4L301.6 139.0L300.5 138.7L299.4 138.3L298.3 137.9L297.3 137.5L296.3 137.1L295.3 136.7L294.4 136.3L293.4 135.9L292.6 135.5L291.7 135.0L290.9 134.5L290.1 134.1L289.4 133.6L288.7 133.1L288.0 132.6Z" fill="#f4f4f4" opacity="0.85"/><path d="M305.6 206.4L306.7 207.2L308.0 208.0L308.7 208.3L309.4 208.6L310.2 208.9L311.0 209.2L311.9 209.5L312.8 209.8L313.7 210.1L314.7 210.3L315.7 210.6L316.7 210.8L317.8 211.1L318.9 211.3L320.0 211.5L321.1 211.8L322.2 212.0L323.4 212.2L324.5 212.4L325.6 212.6L326.7 212.9L327.8 213.1L328.9 213.3L330.0 213.5L330.9 213.7L331.9 213.9L332.9 214.1L333.9 214.2L334.9 214.4L335.9 214.6L337.0 214.8L338.0 214.9L339.0 215.1L340.1 215.3L341.1 215.4L342.2 215.6L343.2 215.8L344.3 215.9L345.3 216.1L346.3 216.2L347.3 216.4L348.4 216.5L349.4 216.7L350.3 216.8L351.3 217.0L352.3 217.1L353.2 217.2L354.1 217.4L355.0 217.5L356.2 217.7L357.3 217.8L358.5 217.9L359.6 218.1L360.7 218.2L361.8 218.3L362.9 218.4L364.0 218.5L365.0 218.6L366.1 218.7L367.1 218.8L368.1 218.9L369.0 219.0L369.9 219.2L370.8 219.3L371.7 219.5L372.5 219.6L372.5 225.3L371.7 225.2L370.8 225.1L369.9 225.0L369.0 224.9L368.1 224.8L367.1 224.7L366.1 224.7L365.0 224.6L364.0 224.6L362.9 224.5L361.8 224.4L360.7 224.4L359.6 224.3L358.5 224.2L357.3 224.1L356.2 223.9L355.0 223.8L354.1 223.7L353.2 223.6L352.3 223.4L351.3 223.3L350.3 223.2L349.4 223.0L348.4 222.9L347.3 222.8L346.3 222.6L345.3 222.5L344.3 222.3L343.2 222.2L342.2 222.0L341.1 221.8L340.1 221.7L339.0 221.5L338.0 221.3L337.0 221.1L335.9 221.0L334.9 220.8L333.9 220.6L332.9 220.4L331.9 220.2L330.9 220.0L330.0 219.8L328.9 219.6L327.8 219.3L326.7 219.1L325.6 218.8L324.5 218.6L323.4 218.3L322.2 218.1L321.1 217.8L320.0 217.6L318.9 217.3L317.8 217.0L316.7 216.7L315.7 216.4L314.7 216.2L313.7 215.9L312.8 215.6L311.9 215.2L311.0 214.9L310.2 214.6L309.4 214.3L308.7 213.9L308.0 213.6L306.7 212.8L305.6 212.0Z" fill="#f4f4f4" opacity="0.85"/><path d="M374.8 438.8L375.8 439.5L377.0 440.0L377.7 440.2L378.4 440.4L379.2 440.6L380.0 440.7L380.9 440.8L381.8 440.9L382.7 441.0L383.7 441.0L384.8 441.1L385.8 441.1L386.9 441.1L388.0 441.1L389.1 441.1L390.3 441.1L391.4 441.1L392.6 441.0L393.8 441.0L395.0 441.0L395.9 441.0L396.8 441.0L397.7 440.9L398.7 440.9L399.6 440.8L400.6 440.8L401.6 440.7L402.7 440.7L403.7 440.6L404.7 440.5L405.8 440.5L406.8 440.4L407.9 440.3L409.0 440.2L410.0 440.1L411.1 440.1L412.1 440.0L413.2 439.9L414.2 439.8L415.2 439.8L416.2 439.7L417.2 439.6L418.1 439.6L419.1 439.5L420.0 439.5L421.1 439.4L422.3 439.4L423.4 439.3L424.5 439.2L425.6 439.1L426.7 439.0L427.8 439.0L428.9 438.9L430.0 438.8L431.1 438.7L432.1 438.7L433.1 438.6L434.1 438.6L435.0 438.6L436.0 438.6L436.8 438.6L437.7 438.7L438.5 438.7L439.3 438.9L440.0 439.0L441.3 439.4L442.5 439.9L443.6 440.4L444.5 441.1L445.3 441.8L445.3 448.1L444.5 447.5L443.6 447.0L442.5 446.6L441.3 446.3L440.0 446.0L439.3 445.9L438.5 445.8L437.7 445.8L436.8 445.8L436.0 445.8L435.0 445.9L434.1 445.9L433.1 446.0L432.1 446.1L431.1 446.2L430.0 446.3L428.9 446.4L427.8 446.5L426.7 446.7L425.6 446.8L424.5 446.9L423.4 447.0L422.3 447.1L421.1 447.1L420.0 447.2L419.1 447.2L418.1 447.3L417.2 447.3L416.2 447.4L415.2 447.4L414.2 447.5L413.2 447.5L412.1 447.6L411.1 447.7L410.0 447.7L409.0 447.8L407.9 447.8L406.8 447.8L405.8 447.9L404.7 447.9L403.7 448.0L402.7 448.0L401.6 448.0L400.6 448.0L399.6 448.1L398.7 448.1L397.7 448.1L396.8 448.0L395.9 448.0L395.0 448.0L393.8 448.0L392.6 447.9L391.4 447.9L390.3 447.8L389.1 447.7L388.0 447.7L386.9 447.6L385.8 447.5L384.8 447.4L383.7 447.2L382.7 447.1L381.8 446.9L380.9 446.8L380.0 446.6L379.2 446.4L378.4 446.1L377.7 445.9L377.0 445.6L375.8 445.0L374.8 444.2Z" fill="#f4f4f4" opacity="0.85"/>
<path d="M294.0 290.0C298.3 286.8 311.3 286.0 318.0 287.0C324.7 288.0 331.0 291.8 334.0 296.0C337.0 300.2 338.0 307.5 336.0 312.0C334.0 316.5 328.0 321.5 322.0 323.0C316.0 324.5 305.0 323.8 300.0 321.0C295.0 318.2 293.0 311.2 292.0 306.0C291.0 300.8 289.7 293.2 294.0 290.0Z" fill="#a9a9a9" stroke="#5a5a5a" stroke-width="1.2"/>
<path d="M333.0 312.0C335.7 314.7 345.2 322.3 349.0 328.0C352.8 333.7 355.8 340.0 356.0 346.0C356.2 352.0 353.0 359.0 350.0 364.0C347.0 369.0 340.0 374.0 338.0 376.0" fill="none" stroke="#5a5a5a" stroke-width="9.8" stroke-linecap="round" stroke-linejoin="round"/><path d="M333.0 312.0C335.7 314.7 345.2 322.3 349.0 328.0C352.8 333.7 355.8 340.0 356.0 346.0C356.2 352.0 353.0 359.0 350.0 364.0C347.0 369.0 340.0 374.0 338.0 376.0" fill="none" stroke="#bcbcbc" stroke-width="8" stroke-linecap="round" stroke-linejoin="round"/>
<path d="M279.0 362.0C282.3 357.7 292.8 356.3 300.0 356.0C307.2 355.7 316.0 358.0 322.0 360.0C328.0 362.0 334.0 364.0 336.0 368.0C338.0 372.0 337.0 380.5 334.0 384.0C331.0 387.5 324.3 388.3 318.0 389.0C311.7 389.7 302.3 389.2 296.0 388.0C289.7 386.8 282.8 386.3 280.0 382.0C277.2 377.7 275.7 366.3 279.0 362.0Z" fill="#000"/>
<path d="M331.0 381.0C333.3 384.2 342.8 393.0 345.0 400.0C347.2 407.0 346.5 416.7 344.0 423.0C341.5 429.3 335.3 434.3 330.0 438.0C324.7 441.7 315.0 443.8 312.0 445.0" fill="none" stroke="#000" stroke-width="15" stroke-linecap="round" stroke-linejoin="round"/>
<path d="M100.7 391.3C104.5 390.6 117.5 390.8 125.0 390.5C132.6 390.2 140.3 388.5 146.0 389.3C151.7 390.1 156.2 393.5 159.3 395.3C162.4 397.1 160.7 400.2 164.7 400.0C168.7 399.8 177.3 394.7 183.3 394.0C189.3 393.3 195.1 394.4 200.7 396.0C206.3 397.6 211.8 399.9 216.7 403.3C221.6 406.8 227.3 413.4 230.0 416.7C232.7 420.0 234.7 422.2 232.7 423.3C230.7 424.4 221.8 425.7 218.0 423.3C214.2 420.9 212.9 412.0 210.0 408.7C207.1 405.4 204.7 403.1 200.7 403.3C196.7 403.5 190.7 407.3 186.0 410.0C181.3 412.7 175.1 415.3 172.7 419.3C170.2 423.3 172.4 428.4 171.3 434.0C170.2 439.6 168.0 448.7 166.0 452.7C164.0 456.7 163.1 457.6 159.3 458.0C155.5 458.4 146.6 456.6 143.3 455.3C140.0 454.0 139.7 454.7 139.3 450.0C138.9 445.3 139.4 434.2 140.7 427.3C142.0 420.4 147.3 413.1 147.3 408.7C147.3 404.3 145.8 402.6 140.7 400.7C135.6 398.8 123.2 398.3 116.7 397.3C110.2 396.3 104.7 395.7 102.0 394.7C99.3 393.7 96.9 392.0 100.7 391.3Z" fill="#000"/>
<path d="M215.3 432.7C219.5 428.7 227.7 421.3 231.3 423.3C234.9 425.3 236.5 436.7 236.7 444.7C236.9 452.7 235.1 465.2 232.7 471.3C230.2 477.4 227.1 480.9 222.0 481.3C216.9 481.8 205.6 477.0 202.0 474.0C198.4 471.0 200.0 467.8 200.7 463.3C201.4 458.9 203.6 452.4 206.0 447.3C208.4 442.2 211.1 436.7 215.3 432.7Z" fill="#b4b4b4" stroke="#5a5a5a" stroke-width="1.2"/>
<path d="M234.0 422.0C236.2 418.8 244.0 418.5 250.0 418.7C256.0 418.9 266.9 421.6 270.0 423.3C273.1 425.0 272.0 427.6 268.7 428.7C265.4 429.8 255.3 428.4 250.0 430.0C244.7 431.6 239.4 439.3 236.7 438.0C234.0 436.7 231.8 425.2 234.0 422.0Z" fill="#b4b4b4" stroke="#5a5a5a" stroke-width="1.2"/>
<path d="M305.0 452.0C308.8 455.0 322.7 462.0 328.0 470.0C333.3 478.0 336.0 489.3 337.0 500.0C338.0 510.7 334.5 528.3 334.0 534.0" fill="none" stroke="#5a5a5a" stroke-width="15.8" stroke-linecap="round" stroke-linejoin="round"/><path d="M305.0 452.0C308.8 455.0 322.7 462.0 328.0 470.0C333.3 478.0 336.0 489.3 337.0 500.0C338.0 510.7 334.5 528.3 334.0 534.0" fill="none" stroke="#bcbcbc" stroke-width="14" stroke-linecap="round" stroke-linejoin="round"/>
<path d="M335.0 462.0C337.0 465.0 344.3 472.0 347.0 480.0C349.7 488.0 351.3 500.3 351.0 510.0C350.7 519.7 346.0 533.3 345.0 538.0" fill="none" stroke="#5a5a5a" stroke-width="14.8" stroke-linecap="round" stroke-linejoin="round"/><path d="M335.0 462.0C337.0 465.0 344.3 472.0 347.0 480.0C349.7 488.0 351.3 500.3 351.0 510.0C350.7 519.7 346.0 533.3 345.0 538.0" fill="none" stroke="#bcbcbc" stroke-width="13" stroke-linecap="round" stroke-linejoin="round"/>
<path d="M270.0 432.0C273.0 427.8 283.0 423.7 290.0 423.0C297.0 422.3 308.3 423.5 312.0 428.0C315.7 432.5 315.7 445.8 312.0 450.0C308.3 454.2 296.7 453.3 290.0 453.0C283.3 452.7 275.3 451.5 272.0 448.0C268.7 444.5 267.0 436.2 270.0 432.0Z" fill="#a4a4a4" stroke="#5a5a5a" stroke-width="1.2"/>
<path d="M302.0 440.0L312.0 445.0" fill="none" stroke="#000" stroke-width="14" stroke-linecap="round" stroke-linejoin="round"/>
<path d="M262.0 443.0L262.1 443.8L262.3 444.6L262.3 462.4L262.1 461.7L262.0 461.0ZM262.3 444.6L262.6 445.5L262.6 463.2L262.3 462.4ZM262.6 445.5L263.0 446.5L263.6 447.5L263.6 464.9L263.0 464.0L262.6 463.2ZM263.6 447.5L264.2 448.4L265.0 449.4L265.9 450.4L266.8 451.4L266.8 468.1L265.9 467.3L265.0 466.5L264.2 465.7L263.6 464.9ZM266.8 451.4L267.8 452.3L268.9 453.2L270.0 454.0L270.7 454.5L271.5 454.9L271.5 470.6L270.7 470.3L270.0 470.0L268.9 469.4L267.8 468.8L266.8 468.1ZM271.5 454.9L272.3 455.4L273.2 455.8L274.0 456.2L275.0 456.7L275.9 457.1L276.9 457.5L277.9 457.9L278.9 458.2L280.0 458.6L281.1 459.0L282.2 459.4L283.3 459.8L284.4 460.1L285.5 460.5L286.6 460.9L287.7 461.3L288.9 461.6L290.0 462.0L290.9 462.3L291.9 462.6L292.8 462.9L293.8 463.2L294.8 463.5L295.9 463.8L296.9 464.1L298.0 464.3L299.0 464.6L300.1 464.9L301.2 465.2L302.3 465.5L303.3 465.8L304.4 466.0L305.5 466.3L306.5 466.6L307.6 466.9L308.6 467.1L309.6 467.4L310.6 467.7L311.5 467.9L312.4 468.2L313.3 468.5L314.2 468.7L315.0 469.0L316.3 469.4L317.6 469.9L318.8 470.3L320.0 470.7L321.1 471.1L322.2 471.5L323.3 471.9L324.3 472.3L325.3 472.6L326.2 473.0L327.0 473.4L327.9 473.8L328.6 474.2L328.6 484.4L327.9 484.1L327.0 483.9L326.2 483.6L325.3 483.4L324.3 483.2L323.3 482.9L322.2 482.7L321.1 482.5L320.0 482.2L318.8 482.0L317.6 481.7L316.3 481.3L315.0 481.0L314.2 480.8L313.3 480.5L312.4 480.3L311.5 480.0L310.6 479.7L309.6 479.5L308.6 479.2L307.6 478.9L306.5 478.6L305.5 478.3L304.4 478.0L303.3 477.7L302.3 477.3L301.2 477.0L300.1 476.7L299.0 476.4L298.0 476.1L296.9 475.8L295.9 475.5L294.8 475.3L293.8 475.0L292.8 474.7L291.9 474.5L290.9 474.2L290.0 474.0L288.9 473.7L287.7 473.5L286.6 473.3L285.5 473.1L284.4 472.9L283.3 472.7L282.2 472.6L281.1 472.4L280.0 472.3L278.9 472.1L277.9 472.0L276.9 471.8L275.9 471.7L275.0 471.5L274.0 471.3L273.2 471.1L272.3 470.8L271.5 470.6ZM328.6 474.2L329.3 474.6L330.0 475.0L331.4 475.8L332.7 476.7L333.8 477.5L333.8 487.0L332.7 486.3L331.4 485.7L330.0 485.0L329.3 484.7L328.6 484.4ZM333.8 477.5L334.7 478.4L334.7 487.7L333.8 487.0ZM334.7 478.4L335.1 479.2L335.1 488.6L334.7 487.7ZM255.9 497.8L256.1 498.9L256.1 519.3L255.9 519.1ZM256.1 498.9L256.6 500.0L256.6 519.6L256.1 519.3ZM256.6 500.0L257.4 501.1L258.6 502.2L258.6 520.0L257.4 519.8L256.6 519.6ZM258.6 502.2L260.1 503.2L262.0 504.0L262.7 504.2L263.4 504.3L264.2 504.5L265.0 504.6L265.8 504.7L266.8 504.8L267.7 504.9L268.7 504.9L269.7 505.0L270.8 505.0L271.8 505.1L272.9 505.1L274.0 505.2L275.1 505.2L276.3 505.2L277.4 505.3L278.5 505.4L279.6 505.4L280.7 505.5L281.8 505.6L282.9 505.7L284.0 505.8L285.0 506.0L286.0 506.2L287.0 506.3L288.0 506.5L289.0 506.7L290.1 506.8L291.1 507.0L292.2 507.2L293.2 507.4L294.3 507.6L295.3 507.8L296.4 508.0L297.4 508.2L298.5 508.4L299.5 508.6L300.5 508.9L301.6 509.1L302.6 509.4L303.5 509.7L304.5 509.9L305.5 510.2L306.4 510.5L307.3 510.8L308.2 511.2L309.0 511.5L310.0 511.9L310.0 520.9L309.0 520.5L308.2 520.2L307.3 519.9L306.4 519.6L305.5 519.3L304.5 519.0L303.5 518.7L302.6 518.5L301.6 518.2L300.5 518.0L299.5 517.7L298.5 517.5L297.4 517.3L296.4 517.1L295.3 516.9L294.3 516.8L293.2 516.6L292.2 516.5L291.1 516.4L290.1 516.3L289.0 516.2L288.0 516.1L287.0 516.1L286.0 516.0L285.0 516.0L284.0 516.0L282.9 516.1L281.8 516.1L280.7 516.3L279.6 516.4L278.5 516.6L277.4 516.8L276.3 517.0L275.1 517.2L274.0 517.4L272.9 517.7L271.8 517.9L270.8 518.2L269.7 518.4L268.7 518.6L267.7 518.9L266.8 519.1L265.8 519.3L265.0 519.5L264.2 519.7L263.4 519.8L262.7 519.9L262.0 520.0L260.1 520.1L258.6 520.0ZM310.0 511.9L311.1 512.4L312.1 512.9L313.1 513.4L314.0 513.9L315.0 514.5L315.9 515.0L316.8 515.6L317.7 516.2L318.5 516.8L319.4 517.4L320.2 518.0L321.0 518.7L321.7 519.3L321.7 528.3L321.0 527.7L320.2 527.1L319.4 526.4L318.5 525.8L317.7 525.2L316.8 524.6L315.9 524.0L315.0 523.4L314.0 522.9L313.1 522.4L312.1 521.9L311.1 521.4L310.0 520.9ZM321.7 519.3L322.4 519.9L323.1 520.6L323.8 521.2L324.4 521.9L325.0 522.5L325.8 523.4L326.5 524.3L326.5 533.2L325.8 532.3L325.0 531.5L324.4 530.9L323.8 530.2L323.1 529.6L322.4 529.0L321.7 528.3ZM326.5 524.3L327.1 525.3L327.7 526.3L328.3 527.3L328.8 528.3L329.2 529.3L329.2 537.7L328.8 536.8L328.3 535.9L327.7 535.0L327.1 534.1L326.5 533.2ZM329.2 529.3L329.7 530.3L330.0 531.3L330.3 532.3L330.6 533.3L330.6 541.3L330.3 540.4L330.0 539.5L329.7 538.6L329.2 537.7ZM330.6 533.3L330.8 534.2L330.9 535.1L331.0 536.0L331.0 544.0L330.9 543.1L330.8 542.2L330.6 541.3ZM331.0 536.0L331.1 537.0L331.1 538.0L331.1 546.1L331.1 545.1L331.0 544.0ZM254.0 559.0L254.1 559.6L254.1 578.8L254.0 579.0ZM254.1 559.6L254.5 560.4L254.5 578.9L254.1 578.8ZM254.5 560.4L255.2 561.3L256.1 562.3L257.2 563.3L258.6 564.3L258.6 579.7L257.2 579.4L256.1 579.2L255.2 579.0L254.5 578.9ZM258.6 564.3L260.2 565.2L262.0 566.0L262.7 566.2L263.5 566.5L264.3 566.7L265.1 566.9L266.0 567.1L267.0 567.3L267.9 567.5L268.9 567.6L270.0 567.8L271.0 568.0L272.1 568.1L273.2 568.3L274.3 568.5L275.4 568.6L276.5 568.8L277.6 568.9L278.7 569.1L279.8 569.2L280.9 569.4L281.9 569.5L283.0 569.7L284.0 569.8L285.0 570.0L286.0 570.2L287.1 570.3L288.1 570.4L289.2 570.6L290.2 570.7L291.3 570.8L292.3 570.9L293.4 571.0L294.4 571.0L295.5 571.1L296.5 571.2L297.5 571.4L298.5 571.5L299.6 571.6L300.6 571.8L301.5 571.9L302.5 572.1L303.4 572.4L304.4 572.6L305.3 572.9L306.1 573.2L307.0 573.5L308.0 573.9L308.0 582.9L307.0 582.5L306.1 582.2L305.3 581.9L304.4 581.7L303.4 581.4L302.5 581.2L301.5 581.1L300.6 580.9L299.6 580.8L298.5 580.7L297.5 580.6L296.5 580.5L295.5 580.4L294.4 580.4L293.4 580.3L292.3 580.3L291.3 580.2L290.2 580.2L289.2 580.2L288.1 580.1L287.1 580.1L286.0 580.1L285.0 580.0L284.0 580.0L283.0 579.9L281.9 579.9L280.9 579.9L279.8 579.9L278.7 579.8L277.6 579.8L276.5 579.9L275.4 579.9L274.3 579.9L273.2 579.9L272.1 579.9L271.0 579.9L270.0 580.0L268.9 580.0L267.9 580.0L267.0 580.0L266.0 580.0L265.1 580.0L264.3 580.0L263.5 580.0L262.7 580.0L262.0 580.0L260.2 579.9L258.6 579.7ZM308.0 573.9L308.9 574.4L309.9 574.9L310.9 575.4L311.8 575.9L312.7 576.5L313.6 577.1L314.5 577.7L315.4 578.3L316.2 579.0L317.0 579.7L317.0 588.6L316.2 587.9L315.4 587.3L314.5 586.6L313.6 586.0L312.7 585.4L311.8 584.9L310.9 584.3L309.9 583.8L308.9 583.3L308.0 582.9ZM317.0 579.7L317.8 580.3L318.5 581.1L319.2 581.8L319.9 582.5L320.5 583.2L321.0 584.0L321.0 593.0L320.5 592.2L319.9 591.5L319.2 590.7L318.5 590.0L317.8 589.3L317.0 588.6ZM321.0 584.0L321.6 584.7L322.0 585.5L322.4 586.4L322.4 595.4L322.0 594.5L321.6 593.7L321.0 593.0ZM322.4 586.4L322.8 587.3L323.1 588.2L323.1 597.2L322.8 596.3L322.4 595.4ZM323.1 588.2L323.3 589.2L323.4 590.2L323.5 591.2L323.5 600.2L323.4 599.2L323.3 598.2L323.1 597.2ZM323.5 591.2L323.6 592.3L323.6 593.3L323.6 602.3L323.6 601.2L323.5 600.2ZM322.9 605.7L322.9 606.8L322.9 615.6L322.9 614.6ZM249.3 618.4L250.0 620.0L250.0 640.0L249.3 639.6ZM250.0 620.0L250.4 620.5L251.0 621.0L251.0 640.1L250.4 640.0L250.0 640.0ZM251.0 621.0L251.7 621.5L252.5 622.1L253.4 622.7L254.4 623.2L255.5 623.9L256.6 624.5L257.9 625.1L259.2 625.7L260.6 626.4L262.0 627.0L262.8 627.3L263.6 627.7L264.5 628.0L265.4 628.4L266.3 628.7L267.3 629.1L268.3 629.4L269.3 629.8L270.3 630.1L271.4 630.5L272.5 630.9L273.5 631.2L274.6 631.6L275.7 631.9L276.8 632.3L277.9 632.6L278.9 633.0L280.0 633.3L281.0 633.7L282.1 634.0L283.1 634.4L284.0 634.7L285.0 635.0L286.1 635.4L287.2 635.7L288.2 636.0L289.3 636.3L290.4 636.6L291.4 636.9L292.5 637.2L293.6 637.5L294.6 637.8L295.6 638.1L296.6 638.4L297.6 638.7L298.6 639.0L299.6 639.3L300.6 639.7L301.5 640.0L302.4 640.3L303.3 640.7L304.2 641.1L304.2 650.1L303.3 649.8L302.4 649.4L301.5 649.1L300.6 648.8L299.6 648.5L298.6 648.2L297.6 647.9L296.6 647.6L295.6 647.4L294.6 647.1L293.6 646.9L292.5 646.6L291.4 646.4L290.4 646.2L289.3 645.9L288.2 645.7L287.2 645.5L286.1 645.2L285.0 645.0L284.0 644.8L283.1 644.6L282.1 644.4L281.0 644.2L280.0 644.0L278.9 643.8L277.9 643.6L276.8 643.4L275.7 643.2L274.6 643.0L273.5 642.8L272.5 642.6L271.4 642.5L270.3 642.3L269.3 642.1L268.3 641.9L267.3 641.8L266.3 641.6L265.4 641.5L264.5 641.4L263.6 641.2L262.8 641.1L262.0 641.0L260.6 640.8L259.2 640.6L257.9 640.5L256.6 640.4L255.5 640.3L254.4 640.2L253.4 640.2L252.5 640.1L251.7 640.1L251.0 640.1ZM304.2 641.1L305.0 641.5L306.0 642.0L307.0 642.5L308.0 643.1L309.0 643.6L310.0 644.2L310.9 644.7L311.8 645.3L312.7 645.9L313.5 646.5L314.3 647.2L314.3 656.1L313.5 655.5L312.7 654.8L311.8 654.2L310.9 653.7L310.0 653.1L309.0 652.5L308.0 652.0L307.0 651.5L306.0 651.0L305.0 650.5L304.2 650.1ZM314.3 647.2L315.1 647.8L315.8 648.5L316.4 649.2L317.0 649.9L317.0 658.9L316.4 658.2L315.8 657.5L315.1 656.8L314.3 656.1ZM317.0 649.9L317.5 650.7L318.0 651.5L318.4 652.3L318.4 661.3L318.0 660.5L317.5 659.7L317.0 658.9ZM318.4 652.3L318.8 653.2L319.0 654.2L319.0 663.2L318.8 662.2L318.4 661.3ZM319.0 654.2L319.3 655.2L319.5 656.2L319.6 657.3L319.7 658.3L319.7 667.3L319.6 666.2L319.5 665.2L319.3 664.2L319.0 663.2ZM319.7 658.3L319.8 659.4L319.8 660.5L319.8 669.4L319.8 668.3L319.7 667.3Z" fill="#4a4a4a" stroke="#4a4a4a" stroke-width="2.4" stroke-linejoin="round"/><path d="M262.0 443.0L262.1 443.8L262.3 444.6L262.3 462.4L262.1 461.7L262.0 461.0Z" fill="#848484" stroke="#848484" stroke-width="0.5"/><path d="M262.3 444.6L262.6 445.5L262.6 463.2L262.3 462.4Z" fill="#8c8c8c" stroke="#8c8c8c" stroke-width="0.5"/><path d="M262.6 445.5L263.0 446.5L263.6 447.5L263.6 464.9L263.0 464.0L262.6 463.2Z" fill="#949494" stroke="#949494" stroke-width="0.5"/><path d="M263.6 447.5L264.2 448.4L265.0 449.4L265.9 450.4L266.8 451.4L266.8 468.1L265.9 467.3L265.0 466.5L264.2 465.7L263.6 464.9Z" fill="#9c9c9c" stroke="#9c9c9c" stroke-width="0.5"/><path d="M266.8 451.4L267.8 452.3L268.9 453.2L270.0 454.0L270.7 454.5L271.5 454.9L271.5 470.6L270.7 470.3L270.0 470.0L268.9 469.4L267.8 468.8L266.8 468.1Z" fill="#a4a4a4" stroke="#a4a4a4" stroke-width="0.5"/><path d="M271.5 454.9L272.3 455.4L273.2 455.8L274.0 456.2L275.0 456.7L275.9 457.1L276.9 457.5L277.9 457.9L278.9 458.2L280.0 458.6L281.1 459.0L282.2 459.4L283.3 459.8L284.4 460.1L285.5 460.5L286.6 460.9L287.7 461.3L288.9 461.6L290.0 462.0L290.9 462.3L291.9 462.6L292.8 462.9L293.8 463.2L294.8 463.5L295.9 463.8L296.9 464.1L298.0 464.3L299.0 464.6L300.1 464.9L301.2 465.2L302.3 465.5L303.3 465.8L304.4 466.0L305.5 466.3L306.5 466.6L307.6 466.9L308.6 467.1L309.6 467.4L310.6 467.7L311.5 467.9L312.4 468.2L313.3 468.5L314.2 468.7L315.0 469.0L316.3 469.4L317.6 469.9L318.8 470.3L320.0 470.7L321.1 471.1L322.2 471.5L323.3 471.9L324.3 472.3L325.3 472.6L326.2 473.0L327.0 473.4L327.9 473.8L328.6 474.2L328.6 484.4L327.9 484.1L327.0 483.9L326.2 483.6L325.3 483.4L324.3 483.2L323.3 482.9L322.2 482.7L321.1 482.5L320.0 482.2L318.8 482.0L317.6 481.7L316.3 481.3L315.0 481.0L314.2 480.8L313.3 480.5L312.4 480.3L311.5 480.0L310.6 479.7L309.6 479.5L308.6 479.2L307.6 478.9L306.5 478.6L305.5 478.3L304.4 478.0L303.3 477.7L302.3 477.3L301.2 477.0L300.1 476.7L299.0 476.4L298.0 476.1L296.9 475.8L295.9 475.5L294.8 475.3L293.8 475.0L292.8 474.7L291.9 474.5L290.9 474.2L290.0 474.0L288.9 473.7L287.7 473.5L286.6 473.3L285.5 473.1L284.4 472.9L283.3 472.7L282.2 472.6L281.1 472.4L280.0 472.3L278.9 472.1L277.9 472.0L276.9 471.8L275.9 471.7L275.0 471.5L274.0 471.3L273.2 471.1L272.3 470.8L271.5 470.6Z" fill="#acacac" stroke="#acacac" stroke-width="0.5"/><path d="M328.6 474.2L329.3 474.6L330.0 475.0L331.4 475.8L332.7 476.7L333.8 477.5L333.8 487.0L332.7 486.3L331.4 485.7L330.0 485.0L329.3 484.7L328.6 484.4Z" fill="#a4a4a4" stroke="#a4a4a4" stroke-width="0.5"/><path d="M333.8 477.5L334.7 478.4L334.7 487.7L333.8 487.0Z" fill="#9c9c9c" stroke="#9c9c9c" stroke-width="0.5"/><path d="M334.7 478.4L335.1 479.2L335.1 488.6L334.7 487.7Z" fill="#8c8c8c" stroke="#8c8c8c" stroke-width="0.5"/><path d="M255.9 497.8L256.1 498.9L256.1 519.3L255.9 519.1Z" fill="#8c8c8c" stroke="#8c8c8c" stroke-width="0.5"/><path d="M256.1 498.9L256.6 500.0L256.6 519.6L256.1 519.3Z" fill="#9c9c9c" stroke="#9c9c9c" stroke-width="0.5"/><path d="M256.6 500.0L257.4 501.1L258.6 502.2L258.6 520.0L257.4 519.8L256.6 519.6Z" fill="#a4a4a4" stroke="#a4a4a4" stroke-width="0.5"/><path d="M258.6 502.2L260.1 503.2L262.0 504.0L262.7 504.2L263.4 504.3L264.2 504.5L265.0 504.6L265.8 504.7L266.8 504.8L267.7 504.9L268.7 504.9L269.7 505.0L270.8 505.0L271.8 505.1L272.9 505.1L274.0 505.2L275.1 505.2L276.3 505.2L277.4 505.3L278.5 505.4L279.6 505.4L280.7 505.5L281.8 505.6L282.9 505.7L284.0 505.8L285.0 506.0L286.0 506.2L287.0 506.3L288.0 506.5L289.0 506.7L290.1 506.8L291.1 507.0L292.2 507.2L293.2 507.4L294.3 507.6L295.3 507.8L296.4 508.0L297.4 508.2L298.5 508.4L299.5 508.6L300.5 508.9L301.6 509.1L302.6 509.4L303.5 509.7L304.5 509.9L305.5 510.2L306.4 510.5L307.3 510.8L308.2 511.2L309.0 511.5L310.0 511.9L310.0 520.9L309.0 520.5L308.2 520.2L307.3 519.9L306.4 519.6L305.5 519.3L304.5 519.0L303.5 518.7L302.6 518.5L301.6 518.2L300.5 518.0L299.5 517.7L298.5 517.5L297.4 517.3L296.4 517.1L295.3 516.9L294.3 516.8L293.2 516.6L292.2 516.5L291.1 516.4L290.1 516.3L289.0 516.2L288.0 516.1L287.0 516.1L286.0 516.0L285.0 516.0L284.0 516.0L282.9 516.1L281.8 516.1L280.7 516.3L279.6 516.4L278.5 516.6L277.4 516.8L276.3 517.0L275.1 517.2L274.0 517.4L272.9 517.7L271.8 517.9L270.8 518.2L269.7 518.4L268.7 518.6L267.7 518.9L266.8 519.1L265.8 519.3L265.0 519.5L264.2 519.7L263.4 519.8L262.7 519.9L262.0 520.0L260.1 520.1L258.6 520.0Z" fill="#acacac" stroke="#acacac" stroke-width="0.5"/><path d="M310.0 511.9L311.1 512.4L312.1 512.9L313.1 513.4L314.0 513.9L315.0 514.5L315.9 515.0L316.8 515.6L317.7 516.2L318.5 516.8L319.4 517.4L320.2 518.0L321.0 518.7L321.7 519.3L321.7 528.3L321.0 527.7L320.2 527.1L319.4 526.4L318.5 525.8L317.7 525.2L316.8 524.6L315.9 524.0L315.0 523.4L314.0 522.9L313.1 522.4L312.1 521.9L311.1 521.4L310.0 520.9Z" fill="#a4a4a4" stroke="#a4a4a4" stroke-width="0.5"/><path d="M321.7 519.3L322.4 519.9L323.1 520.6L323.8 521.2L324.4 521.9L325.0 522.5L325.8 523.4L326.5 524.3L326.5 533.2L325.8 532.3L325.0 531.5L324.4 530.9L323.8 530.2L323.1 529.6L322.4 529.0L321.7 528.3Z" fill="#9c9c9c" stroke="#9c9c9c" stroke-width="0.5"/><path d="M326.5 524.3L327.1 525.3L327.7 526.3L328.3 527.3L328.8 528.3L329.2 529.3L329.2 537.7L328.8 536.8L328.3 535.9L327.7 535.0L327.1 534.1L326.5 533.2Z" fill="#949494" stroke="#949494" stroke-width="0.5"/><path d="M329.2 529.3L329.7 530.3L330.0 531.3L330.3 532.3L330.6 533.3L330.6 541.3L330.3 540.4L330.0 539.5L329.7 538.6L329.2 537.7Z" fill="#8c8c8c" stroke="#8c8c8c" stroke-width="0.5"/><path d="M330.6 533.3L330.8 534.2L330.9 535.1L331.0 536.0L331.0 544.0L330.9 543.1L330.8 542.2L330.6 541.3Z" fill="#848484" stroke="#848484" stroke-width="0.5"/><path d="M331.0 536.0L331.1 537.0L331.1 538.0L331.1 546.1L331.1 545.1L331.0 544.0Z" fill="#7c7c7c" stroke="#7c7c7c" stroke-width="0.5"/><path d="M254.0 559.0L254.1 559.6L254.1 578.8L254.0 579.0Z" fill="#949494" stroke="#949494" stroke-width="0.5"/><path d="M254.1 559.6L254.5 560.4L254.5 578.9L254.1 578.8Z" fill="#9c9c9c" stroke="#9c9c9c" stroke-width="0.5"/><path d="M254.5 560.4L255.2 561.3L256.1 562.3L257.2 563.3L258.6 564.3L258.6 579.7L257.2 579.4L256.1 579.2L255.2 579.0L254.5 578.9Z" fill="#a4a4a4" stroke="#a4a4a4" stroke-width="0.5"/><path d="M258.6 564.3L260.2 565.2L262.0 566.0L262.7 566.2L263.5 566.5L264.3 566.7L265.1 566.9L266.0 567.1L267.0 567.3L267.9 567.5L268.9 567.6L270.0 567.8L271.0 568.0L272.1 568.1L273.2 568.3L274.3 568.5L275.4 568.6L276.5 568.8L277.6 568.9L278.7 569.1L279.8 569.2L280.9 569.4L281.9 569.5L283.0 569.7L284.0 569.8L285.0 570.0L286.0 570.2L287.1 570.3L288.1 570.4L289.2 570.6L290.2 570.7L291.3 570.8L292.3 570.9L293.4 571.0L294.4 571.0L295.5 571.1L296.5 571.2L297.5 571.4L298.5 571.5L299.6 571.6L300.6 571.8L301.5 571.9L302.5 572.1L303.4 572.4L304.4 572.6L305.3 572.9L306.1 573.2L307.0 573.5L308.0 573.9L308.0 582.9L307.0 582.5L306.1 582.2L305.3 581.9L304.4 581.7L303.4 581.4L302.5 581.2L301.5 581.1L300.6 580.9L299.6 580.8L298.5 580.7L297.5 580.6L296.5 580.5L295.5 580.4L294.4 580.4L293.4 580.3L292.3 580.3L291.3 580.2L290.2 580.2L289.2 580.2L288.1 580.1L287.1 580.1L286.0 580.1L285.0 580.0L284.0 580.0L283.0 579.9L281.9 579.9L280.9 579.9L279.8 579.9L278.7 579.8L277.6 579.8L276.5 579.9L275.4 579.9L274.3 579.9L273.2 579.9L272.1 579.9L271.0 579.9L270.0 580.0L268.9 580.0L267.9 580.0L267.0 580.0L266.0 580.0L265.1 580.0L264.3 580.0L263.5 580.0L262.7 580.0L262.0 580.0L260.2 579.9L258.6 579.7Z" fill="#acacac" stroke="#acacac" stroke-width="0.5"/><path d="M308.0 573.9L308.9 574.4L309.9 574.9L310.9 575.4L311.8 575.9L312.7 576.5L313.6 577.1L314.5 577.7L315.4 578.3L316.2 579.0L317.0 579.7L317.0 588.6L316.2 587.9L315.4 587.3L314.5 586.6L313.6 586.0L312.7 585.4L311.8 584.9L310.9 584.3L309.9 583.8L308.9 583.3L308.0 582.9Z" fill="#a4a4a4" stroke="#a4a4a4" stroke-width="0.5"/><path d="M317.0 579.7L317.8 580.3L318.5 581.1L319.2 581.8L319.9 582.5L320.5 583.2L321.0 584.0L321.0 593.0L320.5 592.2L319.9 591.5L319.2 590.7L318.5 590.0L317.8 589.3L317.0 588.6Z" fill="#9c9c9c" stroke="#9c9c9c" stroke-width="0.5"/><path d="M321.0 584.0L321.6 584.7L322.0 585.5L322.4 586.4L322.4 595.4L322.0 594.5L321.6 593.7L321.0 593.0Z" fill="#949494" stroke="#949494" stroke-width="0.5"/><path d="M322.4 586.4L322.8 587.3L323.1 588.2L323.1 597.2L322.8 596.3L322.4 595.4Z" fill="#8c8c8c" stroke="#8c8c8c" stroke-width="0.5"/><path d="M323.1 588.2L323.3 589.2L323.4 590.2L323.5 591.2L323.5 600.2L323.4 599.2L323.3 598.2L323.1 597.2Z" fill="#848484" stroke="#848484" stroke-width="0.5"/><path d="M323.5 591.2L323.6 592.3L323.6 593.3L323.6 602.3L323.6 601.2L323.5 600.2Z" fill="#7c7c7c" stroke="#7c7c7c" stroke-width="0.5"/><path d="M322.9 605.7L322.9 606.8L322.9 615.6L322.9 614.6Z" fill="#7c7c7c" stroke="#7c7c7c" stroke-width="0.5"/><path d="M249.3 618.4L250.0 620.0L250.0 640.0L249.3 639.6Z" fill="#949494" stroke="#949494" stroke-width="0.5"/><path d="M250.0 620.0L250.4 620.5L251.0 621.0L251.0 640.1L250.4 640.0L250.0 640.0Z" fill="#a4a4a4" stroke="#a4a4a4" stroke-width="0.5"/><path d="M251.0 621.0L251.7 621.5L252.5 622.1L253.4 622.7L254.4 623.2L255.5 623.9L256.6 624.5L257.9 625.1L259.2 625.7L260.6 626.4L262.0 627.0L262.8 627.3L263.6 627.7L264.5 628.0L265.4 628.4L266.3 628.7L267.3 629.1L268.3 629.4L269.3 629.8L270.3 630.1L271.4 630.5L272.5 630.9L273.5 631.2L274.6 631.6L275.7 631.9L276.8 632.3L277.9 632.6L278.9 633.0L280.0 633.3L281.0 633.7L282.1 634.0L283.1 634.4L284.0 634.7L285.0 635.0L286.1 635.4L287.2 635.7L288.2 636.0L289.3 636.3L290.4 636.6L291.4 636.9L292.5 637.2L293.6 637.5L294.6 637.8L295.6 638.1L296.6 638.4L297.6 638.7L298.6 639.0L299.6 639.3L300.6 639.7L301.5 640.0L302.4 640.3L303.3 640.7L304.2 641.1L304.2 650.1L303.3 649.8L302.4 649.4L301.5 649.1L300.6 648.8L299.6 648.5L298.6 648.2L297.6 647.9L296.6 647.6L295.6 647.4L294.6 647.1L293.6 646.9L292.5 646.6L291.4 646.4L290.4 646.2L289.3 645.9L288.2 645.7L287.2 645.5L286.1 645.2L285.0 645.0L284.0 644.8L283.1 644.6L282.1 644.4L281.0 644.2L280.0 644.0L278.9 643.8L277.9 643.6L276.8 643.4L275.7 643.2L274.6 643.0L273.5 642.8L272.5 642.6L271.4 642.5L270.3 642.3L269.3 642.1L268.3 641.9L267.3 641.8L266.3 641.6L265.4 641.5L264.5 641.4L263.6 641.2L262.8 641.1L262.0 641.0L260.6 640.8L259.2 640.6L257.9 640.5L256.6 640.4L255.5 640.3L254.4 640.2L253.4 640.2L252.5 640.1L251.7 640.1L251.0 640.1Z" fill="#acacac" stroke="#acacac" stroke-width="0.5"/><path d="M304.2 641.1L305.0 641.5L306.0 642.0L307.0 642.5L308.0 643.1L309.0 643.6L310.0 644.2L310.9 644.7L311.8 645.3L312.7 645.9L313.5 646.5L314.3 647.2L314.3 656.1L313.5 655.5L312.7 654.8L311.8 654.2L310.9 653.7L310.0 653.1L309.0 652.5L308.0 652.0L307.0 651.5L306.0 651.0L305.0 650.5L304.2 650.1Z" fill="#a4a4a4" stroke="#a4a4a4" stroke-width="0.5"/><path d="M314.3 647.2L315.1 647.8L315.8 648.5L316.4 649.2L317.0 649.9L317.0 658.9L316.4 658.2L315.8 657.5L315.1 656.8L314.3 656.1Z" fill="#9c9c9c" stroke="#9c9c9c" stroke-width="0.5"/><path d="M317.0 649.9L317.5 650.7L318.0 651.5L318.4 652.3L318.4 661.3L318.0 660.5L317.5 659.7L317.0 658.9Z" fill="#949494" stroke="#949494" stroke-width="0.5"/><path d="M318.4 652.3L318.8 653.2L319.0 654.2L319.0 663.2L318.8 662.2L318.4 661.3Z" fill="#8c8c8c" stroke="#8c8c8c" stroke-width="0.5"/><path d="M319.0 654.2L319.3 655.2L319.5 656.2L319.6 657.3L319.7 658.3L319.7 667.3L319.6 666.2L319.5 665.2L319.3 664.2L319.0 663.2Z" fill="#848484" stroke="#848484" stroke-width="0.5"/><path d="M319.7 658.3L319.8 659.4L319.8 660.5L319.8 669.4L319.8 668.3L319.7 667.3Z" fill="#7c7c7c" stroke="#7c7c7c" stroke-width="0.5"/><path d="M300.0 437.0L299.4 437.0L298.8 437.0L298.0 437.0L297.1 437.0L296.1 437.0L295.1 437.0L294.0 437.1L292.9 437.1L291.7 437.1L290.6 437.1L289.4 437.1L288.2 437.1L287.1 437.1L286.0 437.0L285.0 437.0L284.0 436.9L282.9 436.9L281.9 436.7L280.8 436.6L279.7 436.4L278.7 436.3L277.6 436.1L276.5 436.0L275.5 435.9L274.5 435.8L273.5 435.7L272.6 435.7L271.6 435.7L270.8 435.8L270.0 436.0L268.8 436.4L267.7 436.8L267.7 454.9L268.8 454.4L270.0 454.0L270.8 453.8L271.6 453.8L272.6 453.7L273.5 453.8L274.5 453.9L275.5 454.0L276.5 454.1L277.6 454.3L278.7 454.4L279.7 454.6L280.8 454.7L281.9 454.9L282.9 455.0L284.0 455.0L285.0 455.0L286.0 454.9L287.1 454.9L288.2 454.8L289.4 454.6L290.6 454.5L291.7 454.3L292.9 454.1L294.0 454.0L295.1 453.8L296.1 453.6L297.1 453.5L298.0 453.3L298.8 453.2L299.4 453.1L300.0 453.0ZM267.7 436.8L266.6 437.4L265.5 438.0L264.6 438.8L264.6 456.9L265.5 456.1L266.6 455.4L267.7 454.9ZM264.6 438.8L263.7 439.5L263.0 440.4L263.0 458.5L263.7 457.7L264.6 456.9ZM263.0 440.4L262.5 441.2L262.5 459.3L263.0 458.5ZM262.5 441.2L262.1 442.1L262.1 460.2L262.5 459.3ZM262.1 442.1L262.0 443.0L262.0 461.0L262.1 460.2ZM335.1 479.2L334.9 480.1L334.9 489.7L335.1 488.6ZM334.9 480.1L334.0 481.0L334.0 491.0L334.9 489.7ZM334.0 481.0L333.6 481.3L333.1 481.6L332.5 481.9L331.9 482.2L331.1 482.5L330.4 482.8L329.5 483.1L328.7 483.4L327.7 483.7L326.8 484.0L325.8 484.4L324.8 484.7L323.7 485.0L322.6 485.3L321.5 485.6L320.4 485.9L319.3 486.2L318.2 486.5L318.2 502.3L319.3 501.6L320.4 501.0L321.5 500.3L322.6 499.6L323.7 498.9L324.8 498.2L325.8 497.5L326.8 496.8L327.7 496.1L328.7 495.5L329.5 494.8L330.4 494.2L331.1 493.6L331.9 493.0L332.5 492.5L333.1 491.9L333.6 491.5L334.0 491.0ZM318.2 486.5L317.2 486.8L316.1 487.1L315.0 487.3L314.0 487.6L313.0 487.8L312.0 488.0L311.1 488.2L310.1 488.4L309.2 488.5L308.3 488.7L307.3 488.9L306.3 489.0L305.4 489.1L304.4 489.3L303.4 489.4L302.4 489.5L301.5 489.6L300.5 489.7L299.5 489.8L298.5 489.9L297.6 490.0L296.6 490.1L295.6 490.2L294.6 490.3L293.7 490.4L292.7 490.5L291.7 490.6L290.8 490.7L289.9 490.8L288.9 490.9L288.0 491.0L286.9 491.1L285.9 491.3L284.8 491.4L283.7 491.5L282.6 491.7L281.5 491.8L280.4 492.0L279.3 492.1L278.3 492.2L277.2 492.4L276.1 492.5L275.1 492.6L274.0 492.8L273.0 492.9L272.0 493.0L271.1 493.2L270.1 493.3L269.2 493.5L268.4 493.6L267.5 493.7L266.7 493.9L266.0 494.0L264.4 494.3L263.0 494.5L261.6 494.8L260.4 495.0L259.2 495.2L258.3 495.5L257.4 495.8L256.8 496.1L256.3 496.5L256.3 519.0L256.8 519.1L257.4 519.3L258.3 519.4L259.2 519.6L260.4 519.8L261.6 519.9L263.0 520.0L264.4 520.1L266.0 520.0L266.7 520.0L267.5 519.9L268.4 519.9L269.2 519.8L270.1 519.7L271.1 519.7L272.0 519.6L273.0 519.5L274.0 519.5L275.1 519.4L276.1 519.2L277.2 519.1L278.3 519.0L279.3 518.8L280.4 518.7L281.5 518.5L282.6 518.3L283.7 518.1L284.8 517.8L285.9 517.6L286.9 517.3L288.0 517.0L288.9 516.7L289.9 516.4L290.8 516.1L291.7 515.7L292.7 515.4L293.7 515.0L294.6 514.6L295.6 514.2L296.6 513.8L297.6 513.4L298.5 512.9L299.5 512.5L300.5 512.0L301.5 511.5L302.4 511.1L303.4 510.6L304.4 510.1L305.4 509.6L306.3 509.1L307.3 508.6L308.3 508.1L309.2 507.6L310.1 507.0L311.1 506.5L312.0 506.0L313.0 505.4L314.0 504.9L315.0 504.3L316.1 503.6L317.2 503.0L318.2 502.3ZM256.3 496.5L256.0 497.0L256.0 519.0L256.3 519.0ZM256.0 497.0L255.9 497.8L255.9 519.1L256.0 519.0ZM331.1 538.0L331.1 539.0L331.1 547.0L331.1 546.1ZM331.1 539.0L331.0 539.9L330.9 540.7L330.9 548.9L331.0 547.9L331.1 547.0ZM330.9 540.7L330.6 541.6L330.2 542.4L330.2 550.8L330.6 549.8L330.9 548.9ZM330.2 542.4L329.7 543.3L329.0 544.2L329.0 553.2L329.7 551.9L330.2 550.8ZM329.0 544.2L328.1 545.1L327.0 546.0L326.5 546.4L325.9 546.8L325.3 547.2L324.7 547.7L324.0 548.1L323.3 548.6L322.6 549.1L321.8 549.6L321.0 550.0L321.0 563.4L321.8 562.5L322.6 561.6L323.3 560.7L324.0 559.8L324.7 559.0L325.3 558.2L325.9 557.4L326.5 556.7L327.0 556.0L328.1 554.5L329.0 553.2ZM321.0 550.0L320.2 550.5L319.3 551.0L318.5 551.5L317.6 552.0L316.7 552.4L315.8 552.9L314.8 553.3L313.9 553.8L313.0 554.2L312.1 554.6L311.2 555.0L310.2 555.3L309.3 555.7L308.4 556.0L307.5 556.3L306.7 556.6L305.8 556.8L305.0 557.0L305.0 579.0L305.8 578.4L306.7 577.8L307.5 577.1L308.4 576.3L309.3 575.6L310.2 574.8L311.2 573.9L312.1 573.0L313.0 572.1L313.9 571.2L314.8 570.2L315.8 569.3L316.7 568.3L317.6 567.3L318.5 566.3L319.3 565.4L320.2 564.4L321.0 563.4ZM305.0 557.0L304.0 557.2L303.0 557.3L302.0 557.4L301.0 557.5L300.0 557.5L299.0 557.5L298.0 557.5L297.0 557.4L296.0 557.3L294.9 557.2L293.9 557.1L292.9 556.9L291.9 556.8L290.9 556.6L289.9 556.5L288.9 556.4L287.9 556.3L286.9 556.2L285.9 556.1L285.0 556.0L284.0 556.0L283.0 556.0L282.0 556.0L280.9 556.1L279.8 556.1L278.7 556.2L277.7 556.3L276.5 556.4L275.4 556.5L274.3 556.6L273.2 556.7L272.2 556.8L271.1 556.9L270.0 557.1L269.0 557.2L268.0 557.3L267.0 557.4L266.1 557.5L265.2 557.6L264.3 557.7L263.5 557.8L262.7 557.9L262.0 558.0L260.3 558.1L258.7 558.2L257.3 558.2L256.2 558.2L255.3 558.2L254.6 558.4L254.1 558.6L254.0 559.0L254.0 579.0L254.1 579.4L254.6 579.9L255.3 580.6L256.2 581.3L257.3 582.1L258.7 582.8L260.3 583.5L262.0 584.0L262.7 584.2L263.5 584.3L264.3 584.5L265.2 584.7L266.1 584.9L267.0 585.1L268.0 585.2L269.0 585.4L270.0 585.5L271.1 585.7L272.2 585.8L273.2 585.9L274.3 586.0L275.4 586.1L276.5 586.2L277.7 586.2L278.7 586.2L279.8 586.2L280.9 586.2L282.0 586.1L283.0 586.0L284.0 585.9L285.0 585.8L285.9 585.6L286.9 585.5L287.9 585.3L288.9 585.2L289.9 585.0L290.9 584.8L291.9 584.6L292.9 584.3L293.9 584.1L294.9 583.8L296.0 583.5L297.0 583.1L298.0 582.7L299.0 582.3L300.0 581.9L301.0 581.4L302.0 580.8L303.0 580.3L304.0 579.7L305.0 579.0ZM323.6 593.3L323.6 594.4L323.6 595.4L323.5 596.5L323.4 597.5L323.4 606.5L323.5 605.4L323.6 604.4L323.6 603.3L323.6 602.3ZM323.4 597.5L323.3 598.6L323.2 599.6L323.2 600.6L323.1 601.6L323.1 610.5L323.2 609.5L323.2 608.5L323.3 607.5L323.4 606.5ZM323.1 601.6L323.0 602.5L323.0 603.6L322.9 604.6L322.9 605.7L322.9 614.6L322.9 613.6L323.0 612.6L323.0 611.5L323.1 610.5ZM322.9 606.8L322.9 607.9L322.9 608.9L322.9 610.0L322.9 618.6L322.9 617.6L322.9 616.6L322.9 615.6ZM322.9 610.0L322.8 611.0L322.6 612.0L322.4 613.0L322.4 621.6L322.6 620.6L322.8 619.6L322.9 618.6ZM322.4 613.0L322.1 613.9L321.8 614.7L321.8 623.7L322.1 622.7L322.4 621.6ZM321.8 614.7L321.3 615.6L320.7 616.3L320.7 625.9L321.3 624.8L321.8 623.7ZM320.7 616.3L320.0 617.0L319.5 617.4L318.9 617.8L318.3 618.2L317.6 618.6L316.9 619.0L316.9 631.2L317.6 630.3L318.3 629.4L318.9 628.6L319.5 627.8L320.0 627.0L320.7 625.9ZM316.9 619.0L316.2 619.3L315.4 619.6L314.6 620.0L313.8 620.3L312.9 620.5L312.0 620.8L311.1 621.0L310.2 621.2L309.2 621.4L308.2 621.6L307.2 621.7L306.2 621.9L306.2 642.2L307.2 641.4L308.2 640.5L309.2 639.6L310.2 638.7L311.1 637.8L312.0 636.9L312.9 635.9L313.8 635.0L314.6 634.0L315.4 633.1L316.2 632.1L316.9 631.2ZM306.2 621.9L305.2 622.0L304.2 622.0L303.1 622.1L302.1 622.1L301.0 622.0L300.0 622.0L299.1 621.9L298.2 621.8L297.3 621.6L296.3 621.5L295.4 621.2L294.4 621.0L293.4 620.7L292.3 620.4L291.3 620.0L290.2 619.7L289.2 619.3L288.1 619.0L287.0 618.6L285.9 618.2L284.9 617.8L283.8 617.4L282.7 617.0L281.7 616.7L280.6 616.3L279.6 615.9L278.6 615.6L277.5 615.3L276.6 615.0L275.6 614.7L274.7 614.5L273.7 614.3L272.9 614.1L272.0 614.0L270.8 613.9L269.5 613.8L268.3 613.7L267.1 613.7L265.9 613.8L264.8 613.8L263.7 613.9L262.5 614.0L261.5 614.2L260.4 614.3L259.4 614.5L258.4 614.7L257.5 614.9L256.6 615.1L255.8 615.3L255.0 615.5L254.3 615.7L253.6 615.8L253.0 616.0L250.3 617.1L250.3 639.4L253.0 640.0L253.6 640.2L254.3 640.6L255.0 640.9L255.8 641.3L256.6 641.8L257.5 642.3L258.4 642.8L259.4 643.3L260.4 643.9L261.5 644.4L262.5 644.9L263.7 645.4L264.8 645.9L265.9 646.4L267.1 646.8L268.3 647.2L269.5 647.5L270.8 647.8L272.0 648.0L272.9 648.1L273.7 648.2L274.7 648.3L275.6 648.4L276.6 648.5L277.5 648.5L278.6 648.6L279.6 648.7L280.6 648.7L281.7 648.7L282.7 648.7L283.8 648.7L284.9 648.7L285.9 648.7L287.0 648.6L288.1 648.6L289.2 648.5L290.2 648.4L291.3 648.3L292.3 648.1L293.4 647.9L294.4 647.7L295.4 647.5L296.3 647.3L297.3 647.0L298.2 646.7L299.1 646.4L300.0 646.0L301.0 645.5L302.1 645.0L303.1 644.3L304.2 643.7L305.2 642.9L306.2 642.2ZM250.3 617.1L249.3 618.4L249.3 639.6L250.3 639.4ZM319.8 660.5L319.7 661.6L319.7 662.6L319.6 663.7L319.6 672.6L319.7 671.6L319.7 670.5L319.8 669.4ZM319.6 663.7L319.5 664.7L319.3 665.7L319.2 666.6L319.0 667.5L318.7 668.6L318.7 677.6L319.0 676.5L319.2 675.6L319.3 674.6L319.5 673.6L319.6 672.6ZM318.7 668.6L318.5 669.6L318.1 670.7L317.7 671.7L317.3 672.7L317.3 681.6L317.7 680.6L318.1 679.6L318.5 678.6L318.7 677.6ZM317.3 672.7L316.8 673.7L316.3 674.6L315.7 675.5L315.7 684.4L316.3 683.5L316.8 682.5L317.3 681.6ZM315.7 675.5L315.1 676.3L314.4 677.1L313.7 677.8L312.9 678.4L312.9 688.1L313.7 687.1L314.4 686.2L315.1 685.3L315.7 684.4ZM312.9 678.4L312.0 679.0L311.3 679.4L310.6 679.7L309.8 680.0L309.0 680.2L308.1 680.4L307.2 680.6L306.3 680.7L305.4 680.8L305.4 694.9L306.3 694.2L307.2 693.4L308.1 692.7L309.0 691.9L309.8 691.2L310.6 690.5L311.3 689.7L312.0 689.0L312.9 688.1ZM305.4 680.8L304.4 680.9L303.4 680.9L302.4 681.0L301.3 681.0L300.3 681.0L299.2 681.0L298.2 681.0L297.1 681.0L296.0 681.0L295.1 681.0L294.2 680.9L293.2 680.9L292.3 680.8L291.3 680.7L290.3 680.6L289.3 680.4L288.3 680.3L287.2 680.2L286.2 680.0L285.2 679.9L284.1 679.7L283.1 679.6L282.0 679.4L281.0 679.3L280.0 679.2L278.9 679.1L277.9 679.1L276.9 679.0L276.0 679.0L275.0 679.0L273.9 679.0L272.9 679.1L271.8 679.2L270.7 679.3L269.6 679.5L268.4 679.6L267.3 679.8L266.2 680.0L265.2 680.2L264.1 680.3L263.1 680.6L262.0 680.8L261.0 681.0L260.1 681.2L259.2 681.3L258.3 681.5L257.5 681.7L256.7 681.9L256.0 682.0L254.3 682.4L252.9 682.7L252.9 707.4L254.3 707.7L256.0 708.0L256.7 708.1L257.5 708.2L258.3 708.3L259.2 708.4L260.1 708.6L261.0 708.7L262.0 708.8L263.1 709.0L264.1 709.1L265.2 709.2L266.2 709.3L267.3 709.3L268.4 709.4L269.6 709.4L270.7 709.4L271.8 709.4L272.9 709.3L273.9 709.2L275.0 709.0L276.0 708.8L276.9 708.6L277.9 708.4L278.9 708.1L280.0 707.8L281.0 707.5L282.0 707.1L283.1 706.8L284.1 706.4L285.2 706.0L286.2 705.6L287.2 705.2L288.3 704.7L289.3 704.3L290.3 703.8L291.3 703.4L292.3 702.9L293.2 702.4L294.2 702.0L295.1 701.5L296.0 701.0L297.1 700.4L298.2 699.8L299.2 699.1L300.3 698.5L301.3 697.8L302.4 697.1L303.4 696.4L304.4 695.6L305.4 694.9ZM252.9 682.7L251.8 683.0L250.9 683.3L250.1 683.6L249.5 683.8L249.0 684.0L249.0 706.0L249.5 706.2L250.1 706.5L250.9 706.8L251.8 707.1L252.9 707.4Z" fill="#4a4a4a" stroke="#4a4a4a" stroke-width="2.4" stroke-linejoin="round"/><path d="M300.0 437.0L299.4 437.0L298.8 437.0L298.0 437.0L297.1 437.0L296.1 437.0L295.1 437.0L294.0 437.1L292.9 437.1L291.7 437.1L290.6 437.1L289.4 437.1L288.2 437.1L287.1 437.1L286.0 437.0L285.0 437.0L284.0 436.9L282.9 436.9L281.9 436.7L280.8 436.6L279.7 436.4L278.7 436.3L277.6 436.1L276.5 436.0L275.5 435.9L274.5 435.8L273.5 435.7L272.6 435.7L271.6 435.7L270.8 435.8L270.0 436.0L268.8 436.4L267.7 436.8L267.7 454.9L268.8 454.4L270.0 454.0L270.8 453.8L271.6 453.8L272.6 453.7L273.5 453.8L274.5 453.9L275.5 454.0L276.5 454.1L277.6 454.3L278.7 454.4L279.7 454.6L280.8 454.7L281.9 454.9L282.9 455.0L284.0 455.0L285.0 455.0L286.0 454.9L287.1 454.9L288.2 454.8L289.4 454.6L290.6 454.5L291.7 454.3L292.9 454.1L294.0 454.0L295.1 453.8L296.1 453.6L297.1 453.5L298.0 453.3L298.8 453.2L299.4 453.1L300.0 453.0Z" fill="#c0c0c0" stroke="#c0c0c0" stroke-width="0.5"/><path d="M267.7 436.8L266.6 437.4L265.5 438.0L264.6 438.8L264.6 456.9L265.5 456.1L266.6 455.4L267.7 454.9Z" fill="#b5b5b5" stroke="#b5b5b5" stroke-width="0.5"/><path d="M264.6 438.8L263.7 439.5L263.0 440.4L263.0 458.5L263.7 457.7L264.6 456.9Z" fill="#a9a9a9" stroke="#a9a9a9" stroke-width="0.5"/><path d="M263.0 440.4L262.5 441.2L262.5 459.3L263.0 458.5Z" fill="#9e9e9e" stroke="#9e9e9e" stroke-width="0.5"/><path d="M262.5 441.2L262.1 442.1L262.1 460.2L262.5 459.3Z" fill="#939393" stroke="#939393" stroke-width="0.5"/><path d="M262.1 442.1L262.0 443.0L262.0 461.0L262.1 460.2Z" fill="#878787" stroke="#878787" stroke-width="0.5"/><path d="M335.1 479.2L334.9 480.1L334.9 489.7L335.1 488.6Z" fill="#878787" stroke="#878787" stroke-width="0.5"/><path d="M334.9 480.1L334.0 481.0L334.0 491.0L334.9 489.7Z" fill="#a9a9a9" stroke="#a9a9a9" stroke-width="0.5"/><path d="M334.0 481.0L333.6 481.3L333.1 481.6L332.5 481.9L331.9 482.2L331.1 482.5L330.4 482.8L329.5 483.1L328.7 483.4L327.7 483.7L326.8 484.0L325.8 484.4L324.8 484.7L323.7 485.0L322.6 485.3L321.5 485.6L320.4 485.9L319.3 486.2L318.2 486.5L318.2 502.3L319.3 501.6L320.4 501.0L321.5 500.3L322.6 499.6L323.7 498.9L324.8 498.2L325.8 497.5L326.8 496.8L327.7 496.1L328.7 495.5L329.5 494.8L330.4 494.2L331.1 493.6L331.9 493.0L332.5 492.5L333.1 491.9L333.6 491.5L334.0 491.0Z" fill="#b5b5b5" stroke="#b5b5b5" stroke-width="0.5"/><path d="M318.2 486.5L317.2 486.8L316.1 487.1L315.0 487.3L314.0 487.6L313.0 487.8L312.0 488.0L311.1 488.2L310.1 488.4L309.2 488.5L308.3 488.7L307.3 488.9L306.3 489.0L305.4 489.1L304.4 489.3L303.4 489.4L302.4 489.5L301.5 489.6L300.5 489.7L299.5 489.8L298.5 489.9L297.6 490.0L296.6 490.1L295.6 490.2L294.6 490.3L293.7 490.4L292.7 490.5L291.7 490.6L290.8 490.7L289.9 490.8L288.9 490.9L288.0 491.0L286.9 491.1L285.9 491.3L284.8 491.4L283.7 491.5L282.6 491.7L281.5 491.8L280.4 492.0L279.3 492.1L278.3 492.2L277.2 492.4L276.1 492.5L275.1 492.6L274.0 492.8L273.0 492.9L272.0 493.0L271.1 493.2L270.1 493.3L269.2 493.5L268.4 493.6L267.5 493.7L266.7 493.9L266.0 494.0L264.4 494.3L263.0 494.5L261.6 494.8L260.4 495.0L259.2 495.2L258.3 495.5L257.4 495.8L256.8 496.1L256.3 496.5L256.3 519.0L256.8 519.1L257.4 519.3L258.3 519.4L259.2 519.6L260.4 519.8L261.6 519.9L263.0 520.0L264.4 520.1L266.0 520.0L266.7 520.0L267.5 519.9L268.4 519.9L269.2 519.8L270.1 519.7L271.1 519.7L272.0 519.6L273.0 519.5L274.0 519.5L275.1 519.4L276.1 519.2L277.2 519.1L278.3 519.0L279.3 518.8L280.4 518.7L281.5 518.5L282.6 518.3L283.7 518.1L284.8 517.8L285.9 517.6L286.9 517.3L288.0 517.0L288.9 516.7L289.9 516.4L290.8 516.1L291.7 515.7L292.7 515.4L293.7 515.0L294.6 514.6L295.6 514.2L296.6 513.8L297.6 513.4L298.5 512.9L299.5 512.5L300.5 512.0L301.5 511.5L302.4 511.1L303.4 510.6L304.4 510.1L305.4 509.6L306.3 509.1L307.3 508.6L308.3 508.1L309.2 507.6L310.1 507.0L311.1 506.5L312.0 506.0L313.0 505.4L314.0 504.9L315.0 504.3L316.1 503.6L317.2 503.0L318.2 502.3Z" fill="#c0c0c0" stroke="#c0c0c0" stroke-width="0.5"/><path d="M256.3 496.5L256.0 497.0L256.0 519.0L256.3 519.0Z" fill="#b5b5b5" stroke="#b5b5b5" stroke-width="0.5"/><path d="M256.0 497.0L255.9 497.8L255.9 519.1L256.0 519.0Z" fill="#939393" stroke="#939393" stroke-width="0.5"/><path d="M331.1 538.0L331.1 539.0L331.1 547.0L331.1 546.1Z" fill="#7c7c7c" stroke="#7c7c7c" stroke-width="0.5"/><path d="M331.1 539.0L331.0 539.9L330.9 540.7L330.9 548.9L331.0 547.9L331.1 547.0Z" fill="#878787" stroke="#878787" stroke-width="0.5"/><path d="M330.9 540.7L330.6 541.6L330.2 542.4L330.2 550.8L330.6 549.8L330.9 548.9Z" fill="#939393" stroke="#939393" stroke-width="0.5"/><path d="M330.2 542.4L329.7 543.3L329.0 544.2L329.0 553.2L329.7 551.9L330.2 550.8Z" fill="#9e9e9e" stroke="#9e9e9e" stroke-width="0.5"/><path d="M329.0 544.2L328.1 545.1L327.0 546.0L326.5 546.4L325.9 546.8L325.3 547.2L324.7 547.7L324.0 548.1L323.3 548.6L322.6 549.1L321.8 549.6L321.0 550.0L321.0 563.4L321.8 562.5L322.6 561.6L323.3 560.7L324.0 559.8L324.7 559.0L325.3 558.2L325.9 557.4L326.5 556.7L327.0 556.0L328.1 554.5L329.0 553.2Z" fill="#a9a9a9" stroke="#a9a9a9" stroke-width="0.5"/><path d="M321.0 550.0L320.2 550.5L319.3 551.0L318.5 551.5L317.6 552.0L316.7 552.4L315.8 552.9L314.8 553.3L313.9 553.8L313.0 554.2L312.1 554.6L311.2 555.0L310.2 555.3L309.3 555.7L308.4 556.0L307.5 556.3L306.7 556.6L305.8 556.8L305.0 557.0L305.0 579.0L305.8 578.4L306.7 577.8L307.5 577.1L308.4 576.3L309.3 575.6L310.2 574.8L311.2 573.9L312.1 573.0L313.0 572.1L313.9 571.2L314.8 570.2L315.8 569.3L316.7 568.3L317.6 567.3L318.5 566.3L319.3 565.4L320.2 564.4L321.0 563.4Z" fill="#b5b5b5" stroke="#b5b5b5" stroke-width="0.5"/><path d="M305.0 557.0L304.0 557.2L303.0 557.3L302.0 557.4L301.0 557.5L300.0 557.5L299.0 557.5L298.0 557.5L297.0 557.4L296.0 557.3L294.9 557.2L293.9 557.1L292.9 556.9L291.9 556.8L290.9 556.6L289.9 556.5L288.9 556.4L287.9 556.3L286.9 556.2L285.9 556.1L285.0 556.0L284.0 556.0L283.0 556.0L282.0 556.0L280.9 556.1L279.8 556.1L278.7 556.2L277.7 556.3L276.5 556.4L275.4 556.5L274.3 556.6L273.2 556.7L272.2 556.8L271.1 556.9L270.0 557.1L269.0 557.2L268.0 557.3L267.0 557.4L266.1 557.5L265.2 557.6L264.3 557.7L263.5 557.8L262.7 557.9L262.0 558.0L260.3 558.1L258.7 558.2L257.3 558.2L256.2 558.2L255.3 558.2L254.6 558.4L254.1 558.6L254.0 559.0L254.0 579.0L254.1 579.4L254.6 579.9L255.3 580.6L256.2 581.3L257.3 582.1L258.7 582.8L260.3 583.5L262.0 584.0L262.7 584.2L263.5 584.3L264.3 584.5L265.2 584.7L266.1 584.9L267.0 585.1L268.0 585.2L269.0 585.4L270.0 585.5L271.1 585.7L272.2 585.8L273.2 585.9L274.3 586.0L275.4 586.1L276.5 586.2L277.7 586.2L278.7 586.2L279.8 586.2L280.9 586.2L282.0 586.1L283.0 586.0L284.0 585.9L285.0 585.8L285.9 585.6L286.9 585.5L287.9 585.3L288.9 585.2L289.9 585.0L290.9 584.8L291.9 584.6L292.9 584.3L293.9 584.1L294.9 583.8L296.0 583.5L297.0 583.1L298.0 582.7L299.0 582.3L300.0 581.9L301.0 581.4L302.0 580.8L303.0 580.3L304.0 579.7L305.0 579.0Z" fill="#c0c0c0" stroke="#c0c0c0" stroke-width="0.5"/><path d="M323.6 593.3L323.6 594.4L323.6 595.4L323.5 596.5L323.4 597.5L323.4 606.5L323.5 605.4L323.6 604.4L323.6 603.3L323.6 602.3Z" fill="#7c7c7c" stroke="#7c7c7c" stroke-width="0.5"/><path d="M323.4 597.5L323.3 598.6L323.2 599.6L323.2 600.6L323.1 601.6L323.1 610.5L323.2 609.5L323.2 608.5L323.3 607.5L323.4 606.5Z" fill="#878787" stroke="#878787" stroke-width="0.5"/><path d="M323.1 601.6L323.0 602.5L323.0 603.6L322.9 604.6L322.9 605.7L322.9 614.6L322.9 613.6L323.0 612.6L323.0 611.5L323.1 610.5Z" fill="#7c7c7c" stroke="#7c7c7c" stroke-width="0.5"/><path d="M322.9 606.8L322.9 607.9L322.9 608.9L322.9 610.0L322.9 618.6L322.9 617.6L322.9 616.6L322.9 615.6Z" fill="#7c7c7c" stroke="#7c7c7c" stroke-width="0.5"/><path d="M322.9 610.0L322.8 611.0L322.6 612.0L322.4 613.0L322.4 621.6L322.6 620.6L322.8 619.6L322.9 618.6Z" fill="#878787" stroke="#878787" stroke-width="0.5"/><path d="M322.4 613.0L322.1 613.9L321.8 614.7L321.8 623.7L322.1 622.7L322.4 621.6Z" fill="#939393" stroke="#939393" stroke-width="0.5"/><path d="M321.8 614.7L321.3 615.6L320.7 616.3L320.7 625.9L321.3 624.8L321.8 623.7Z" fill="#9e9e9e" stroke="#9e9e9e" stroke-width="0.5"/><path d="M320.7 616.3L320.0 617.0L319.5 617.4L318.9 617.8L318.3 618.2L317.6 618.6L316.9 619.0L316.9 631.2L317.6 630.3L318.3 629.4L318.9 628.6L319.5 627.8L320.0 627.0L320.7 625.9Z" fill="#a9a9a9" stroke="#a9a9a9" stroke-width="0.5"/><path d="M316.9 619.0L316.2 619.3L315.4 619.6L314.6 620.0L313.8 620.3L312.9 620.5L312.0 620.8L311.1 621.0L310.2 621.2L309.2 621.4L308.2 621.6L307.2 621.7L306.2 621.9L306.2 642.2L307.2 641.4L308.2 640.5L309.2 639.6L310.2 638.7L311.1 637.8L312.0 636.9L312.9 635.9L313.8 635.0L314.6 634.0L315.4 633.1L316.2 632.1L316.9 631.2Z" fill="#b5b5b5" stroke="#b5b5b5" stroke-width="0.5"/><path d="M306.2 621.9L305.2 622.0L304.2 622.0L303.1 622.1L302.1 622.1L301.0 622.0L300.0 622.0L299.1 621.9L298.2 621.8L297.3 621.6L296.3 621.5L295.4 621.2L294.4 621.0L293.4 620.7L292.3 620.4L291.3 620.0L290.2 619.7L289.2 619.3L288.1 619.0L287.0 618.6L285.9 618.2L284.9 617.8L283.8 617.4L282.7 617.0L281.7 616.7L280.6 616.3L279.6 615.9L278.6 615.6L277.5 615.3L276.6 615.0L275.6 614.7L274.7 614.5L273.7 614.3L272.9 614.1L272.0 614.0L270.8 613.9L269.5 613.8L268.3 613.7L267.1 613.7L265.9 613.8L264.8 613.8L263.7 613.9L262.5 614.0L261.5 614.2L260.4 614.3L259.4 614.5L258.4 614.7L257.5 614.9L256.6 615.1L255.8 615.3L255.0 615.5L254.3 615.7L253.6 615.8L253.0 616.0L250.3 617.1L250.3 639.4L253.0 640.0L253.6 640.2L254.3 640.6L255.0 640.9L255.8 641.3L256.6 641.8L257.5 642.3L258.4 642.8L259.4 643.3L260.4 643.9L261.5 644.4L262.5 644.9L263.7 645.4L264.8 645.9L265.9 646.4L267.1 646.8L268.3 647.2L269.5 647.5L270.8 647.8L272.0 648.0L272.9 648.1L273.7 648.2L274.7 648.3L275.6 648.4L276.6 648.5L277.5 648.5L278.6 648.6L279.6 648.7L280.6 648.7L281.7 648.7L282.7 648.7L283.8 648.7L284.9 648.7L285.9 648.7L287.0 648.6L288.1 648.6L289.2 648.5L290.2 648.4L291.3 648.3L292.3 648.1L293.4 647.9L294.4 647.7L295.4 647.5L296.3 647.3L297.3 647.0L298.2 646.7L299.1 646.4L300.0 646.0L301.0 645.5L302.1 645.0L303.1 644.3L304.2 643.7L305.2 642.9L306.2 642.2Z" fill="#c0c0c0" stroke="#c0c0c0" stroke-width="0.5"/><path d="M250.3 617.1L249.3 618.4L249.3 639.6L250.3 639.4Z" fill="#b5b5b5" stroke="#b5b5b5" stroke-width="0.5"/><path d="M319.8 660.5L319.7 661.6L319.7 662.6L319.6 663.7L319.6 672.6L319.7 671.6L319.7 670.5L319.8 669.4Z" fill="#7c7c7c" stroke="#7c7c7c" stroke-width="0.5"/><path d="M319.6 663.7L319.5 664.7L319.3 665.7L319.2 666.6L319.0 667.5L318.7 668.6L318.7 677.6L319.0 676.5L319.2 675.6L319.3 674.6L319.5 673.6L319.6 672.6Z" fill="#878787" stroke="#878787" stroke-width="0.5"/><path d="M318.7 668.6L318.5 669.6L318.1 670.7L317.7 671.7L317.3 672.7L317.3 681.6L317.7 680.6L318.1 679.6L318.5 678.6L318.7 677.6Z" fill="#939393" stroke="#939393" stroke-width="0.5"/><path d="M317.3 672.7L316.8 673.7L316.3 674.6L315.7 675.5L315.7 684.4L316.3 683.5L316.8 682.5L317.3 681.6Z" fill="#9e9e9e" stroke="#9e9e9e" stroke-width="0.5"/><path d="M315.7 675.5L315.1 676.3L314.4 677.1L313.7 677.8L312.9 678.4L312.9 688.1L313.7 687.1L314.4 686.2L315.1 685.3L315.7 684.4Z" fill="#a9a9a9" stroke="#a9a9a9" stroke-width="0.5"/><path d="M312.9 678.4L312.0 679.0L311.3 679.4L310.6 679.7L309.8 680.0L309.0 680.2L308.1 680.4L307.2 680.6L306.3 680.7L305.4 680.8L305.4 694.9L306.3 694.2L307.2 693.4L308.1 692.7L309.0 691.9L309.8 691.2L310.6 690.5L311.3 689.7L312.0 689.0L312.9 688.1Z" fill="#b5b5b5" stroke="#b5b5b5" stroke-width="0.5"/><path d="M305.4 680.8L304.4 680.9L303.4 680.9L302.4 681.0L301.3 681.0L300.3 681.0L299.2 681.0L298.2 681.0L297.1 681.0L296.0 681.0L295.1 681.0L294.2 680.9L293.2 680.9L292.3 680.8L291.3 680.7L290.3 680.6L289.3 680.4L288.3 680.3L287.2 680.2L286.2 680.0L285.2 679.9L284.1 679.7L283.1 679.6L282.0 679.4L281.0 679.3L280.0 679.2L278.9 679.1L277.9 679.1L276.9 679.0L276.0 679.0L275.0 679.0L273.9 679.0L272.9 679.1L271.8 679.2L270.7 679.3L269.6 679.5L268.4 679.6L267.3 679.8L266.2 680.0L265.2 680.2L264.1 680.3L263.1 680.6L262.0 680.8L261.0 681.0L260.1 681.2L259.2 681.3L258.3 681.5L257.5 681.7L256.7 681.9L256.0 682.0L254.3 682.4L252.9 682.7L252.9 707.4L254.3 707.7L256.0 708.0L256.7 708.1L257.5 708.2L258.3 708.3L259.2 708.4L260.1 708.6L261.0 708.7L262.0 708.8L263.1 709.0L264.1 709.1L265.2 709.2L266.2 709.3L267.3 709.3L268.4 709.4L269.6 709.4L270.7 709.4L271.8 709.4L272.9 709.3L273.9 709.2L275.0 709.0L276.0 708.8L276.9 708.6L277.9 708.4L278.9 708.1L280.0 707.8L281.0 707.5L282.0 707.1L283.1 706.8L284.1 706.4L285.2 706.0L286.2 705.6L287.2 705.2L288.3 704.7L289.3 704.3L290.3 703.8L291.3 703.4L292.3 702.9L293.2 702.4L294.2 702.0L295.1 701.5L296.0 701.0L297.1 700.4L298.2 699.8L299.2 699.1L300.3 698.5L301.3 697.8L302.4 697.1L303.4 696.4L304.4 695.6L305.4 694.9Z" fill="#c0c0c0" stroke="#c0c0c0" stroke-width="0.5"/><path d="M252.9 682.7L251.8 683.0L250.9 683.3L250.1 683.6L249.5 683.8L249.0 684.0L249.0 706.0L249.5 706.2L250.1 706.5L250.9 706.8L251.8 707.1L252.9 707.4Z" fill="#000000" stroke="#000000" stroke-width="0.5"/>
<path d="M252.0 681.0C254.5 679.5 260.5 678.5 262.0 681.0C263.5 683.5 261.0 691.0 261.0 696.0C261.0 701.0 263.5 708.5 262.0 711.0C260.5 713.5 254.5 712.8 252.0 711.0C249.5 709.2 247.8 703.5 247.0 700.0C246.2 696.5 246.2 693.2 247.0 690.0C247.8 686.8 249.5 682.5 252.0 681.0Z" fill="#000"/>
<path d="M260.0 497.0C259.3 495.0 263.8 491.5 268.0 490.0C272.2 488.5 279.2 487.7 285.0 488.0C290.8 488.3 301.8 490.2 303.0 492.0C304.2 493.8 297.2 497.3 292.0 499.0C286.8 500.7 277.3 502.3 272.0 502.0C266.7 501.7 260.7 499.0 260.0 497.0Z" fill="#a0a0a0" stroke="#707070" stroke-width="0.9"/>
<path d="M256.0 562.0C255.7 560.0 261.3 556.5 266.0 555.0C270.7 553.5 277.8 552.7 284.0 553.0C290.2 553.3 302.0 555.0 303.0 557.0C304.0 559.0 295.8 563.3 290.0 565.0C284.2 566.7 273.7 567.5 268.0 567.0C262.3 566.5 256.3 564.0 256.0 562.0Z" fill="#a0a0a0" stroke="#707070" stroke-width="0.9"/>
<path d="M250.0 621.0C250.0 618.8 256.7 615.3 262.0 614.0C267.3 612.7 275.7 612.2 282.0 613.0C288.3 613.8 299.5 616.8 300.0 619.0C300.5 621.2 291.3 624.7 285.0 626.0C278.7 627.3 267.8 627.8 262.0 627.0C256.2 626.2 250.0 623.2 250.0 621.0Z" fill="#a0a0a0" stroke="#707070" stroke-width="0.9"/>
<path d="M262.0 684.0C263.2 682.0 270.3 678.2 275.0 677.0C279.7 675.8 286.3 676.2 290.0 677.0C293.7 677.8 297.8 680.2 297.0 682.0C296.2 683.8 289.8 686.8 285.0 688.0C280.2 689.2 271.8 689.7 268.0 689.0C264.2 688.3 260.8 686.0 262.0 684.0Z" fill="#a0a0a0" stroke="#707070" stroke-width="0.9"/>
<path d="M354.0 494.0C356.0 490.0 362.8 488.0 368.0 486.0C373.2 484.0 380.3 482.3 385.0 482.0C389.7 481.7 394.0 481.8 396.0 484.0C398.0 486.2 398.8 493.0 397.0 495.0C395.2 497.0 389.8 494.8 385.0 496.0C380.2 497.2 372.8 499.7 368.0 502.0C363.2 504.3 358.3 511.3 356.0 510.0C353.7 508.7 352.0 498.0 354.0 494.0Z" fill="#000"/>
<path d="M391.0 520.0L411.0 525.0L411.0 553.0L392.0 553.0Z" fill="#b8b8b8" stroke="#5a5a5a" stroke-width="1.2"/>
<path d="M401.0 553.0C401.8 555.5 399.3 565.5 406.0 568.0C412.7 570.5 435.2 568.0 441.0 568.0" fill="none" stroke="#5a5a5a" stroke-width="6.3" stroke-linecap="round" stroke-linejoin="round"/><path d="M401.0 553.0C401.8 555.5 399.3 565.5 406.0 568.0C412.7 570.5 435.2 568.0 441.0 568.0" fill="none" stroke="#bcbcbc" stroke-width="4.5" stroke-linecap="round" stroke-linejoin="round"/>
<path d="M389.0 487.0L389.3 487.4L389.6 487.9L390.0 488.5L390.4 489.1L390.8 489.7L391.3 490.4L391.8 491.2L392.3 492.0L392.9 492.8L393.4 493.7L394.0 494.5L394.6 495.4L395.2 496.4L395.8 497.3L396.3 498.2L396.9 499.1L397.5 500.1L398.0 501.0L398.4 501.8L398.9 502.5L399.3 503.3L399.8 504.2L400.2 505.0L400.7 505.8L401.2 506.7L401.6 507.5L402.1 508.4L402.6 509.3L403.1 510.2L403.5 511.1L404.0 512.0L404.5 512.9L404.9 513.8L405.4 514.7L405.8 515.6L406.3 516.5L406.7 517.4L407.2 518.3L407.6 519.1L408.0 520.0L408.5 521.0L408.9 522.0L409.4 523.1L409.9 524.1L410.3 525.1L410.7 526.2L411.2 527.2L411.6 528.3L412.0 529.3L412.5 530.3L412.9 531.4L413.3 532.4L413.7 533.4L414.1 534.4L414.5 535.3L414.9 536.3L415.3 537.2L415.6 538.1L416.0 539.0L416.6 540.3L417.2 541.5L417.9 542.7L418.6 543.9L418.6 560.6L417.9 559.8L417.2 558.9L416.6 558.0L416.0 557.0L415.6 556.3L415.3 555.5L414.9 554.7L414.5 554.0L414.1 553.1L413.7 552.3L413.3 551.4L412.9 550.5L412.5 549.6L412.0 548.7L411.6 547.8L411.2 546.9L410.7 545.9L410.3 544.9L409.9 544.0L409.4 543.0L408.9 542.0L408.5 541.0L408.0 540.0L407.6 539.1L407.2 538.2L406.7 537.3L406.3 536.4L405.8 535.4L405.4 534.5L404.9 533.5L404.5 532.5L404.0 531.5L403.5 530.6L403.1 529.6L402.6 528.6L402.1 527.6L401.6 526.6L401.2 525.6L400.7 524.6L400.2 523.6L399.8 522.7L399.3 521.7L398.9 520.8L398.4 519.9L398.0 519.0L397.5 517.9L396.9 516.8L396.3 515.6L395.8 514.5L395.2 513.3L394.6 512.1L394.0 511.0L393.4 509.8L392.9 508.7L392.3 507.6L391.8 506.6L391.3 505.6L390.8 504.6L390.4 503.7L390.0 502.9L389.6 502.2L389.3 501.5L389.0 501.0ZM418.6 543.9L419.3 545.1L419.9 546.3L420.5 547.4L421.1 548.4L421.5 549.4L421.5 564.2L421.1 563.5L420.5 562.8L419.9 562.1L419.3 561.4L418.6 560.6ZM421.5 549.4L421.9 550.4L421.9 564.8L421.5 564.2ZM421.9 550.4L422.1 551.3L422.1 565.5L421.9 564.8ZM422.1 551.3L422.1 552.2L422.1 566.2L422.1 565.5ZM341.6 569.5L342.0 571.0L342.0 589.0L341.6 588.5ZM342.0 571.0L342.4 571.7L342.4 589.2L342.0 589.0ZM342.4 571.7L342.9 572.4L343.6 573.2L344.4 574.0L345.3 574.8L346.3 575.7L347.4 576.5L348.5 577.4L349.6 578.3L350.8 579.1L352.0 580.0L352.7 580.5L353.5 581.1L354.3 581.6L355.1 582.2L356.0 582.7L356.9 583.3L357.7 583.8L358.6 584.4L359.6 584.9L360.5 585.5L361.4 586.1L362.4 586.6L363.3 587.2L364.3 587.8L365.2 588.3L366.1 588.9L367.1 589.4L368.0 590.0L368.9 590.5L369.8 591.0L370.7 591.5L371.6 592.1L372.6 592.6L373.5 593.1L374.4 593.6L375.4 594.1L376.3 594.6L377.3 595.1L378.2 595.6L379.1 596.1L380.0 596.6L380.9 597.2L381.8 597.7L382.6 598.3L383.5 598.8L384.2 599.4L385.0 600.0L385.8 600.7L386.6 601.4L386.6 611.4L385.8 610.7L385.0 610.0L384.2 609.4L383.5 608.8L382.6 608.2L381.8 607.7L380.9 607.1L380.0 606.6L379.1 606.0L378.2 605.5L377.3 604.9L376.3 604.4L375.4 603.9L374.4 603.4L373.5 602.9L372.6 602.4L371.6 601.9L370.7 601.4L369.8 601.0L368.9 600.5L368.0 600.0L367.1 599.5L366.1 599.0L365.2 598.5L364.3 598.0L363.3 597.5L362.4 597.0L361.4 596.5L360.5 596.0L359.6 595.6L358.6 595.1L357.7 594.7L356.9 594.2L356.0 593.8L355.1 593.4L354.3 593.0L353.5 592.7L352.7 592.3L352.0 592.0L350.8 591.5L349.6 591.1L348.5 590.8L347.4 590.5L346.3 590.2L345.3 590.0L344.4 589.8L343.6 589.6L342.9 589.4L342.4 589.2ZM386.6 601.4L387.4 602.1L388.2 602.9L389.0 603.7L389.8 604.4L390.5 605.2L391.2 606.0L391.9 606.8L392.6 607.6L393.2 608.4L393.8 609.2L393.8 619.1L393.2 618.3L392.6 617.5L391.9 616.7L391.2 615.9L390.5 615.1L389.8 614.4L389.0 613.6L388.2 612.9L387.4 612.1L386.6 611.4ZM393.8 609.2L394.3 610.0L394.8 610.8L395.2 611.5L395.6 612.3L396.0 613.0L396.0 623.0L395.6 622.2L395.2 621.5L394.8 620.7L394.3 619.9L393.8 619.1ZM396.0 613.0L396.5 614.0L396.9 615.1L397.3 616.1L397.6 617.1L397.6 627.4L397.3 626.3L396.9 625.2L396.5 624.1L396.0 623.0ZM397.6 617.1L397.8 618.2L398.0 619.2L398.0 629.7L397.8 628.6L397.6 627.4ZM398.0 619.2L398.0 620.2L398.0 630.8L398.0 629.7ZM312.4 632.1L312.5 633.5L312.5 651.2L312.4 650.6ZM312.5 633.5L312.8 635.0L313.3 636.6L313.3 652.7L312.8 651.9L312.5 651.2ZM313.3 636.6L314.0 638.1L314.0 653.5L313.3 652.7ZM314.0 638.1L314.9 639.6L316.0 641.0L316.0 655.0L314.9 654.3L314.0 653.5ZM316.0 641.0L316.6 641.6L317.3 642.2L318.0 642.8L318.8 643.4L319.7 644.0L320.6 644.5L321.6 645.1L322.6 645.7L322.6 657.4L321.6 657.1L320.6 656.8L319.7 656.5L318.8 656.2L318.0 655.9L317.3 655.6L316.6 655.3L316.0 655.0ZM322.6 645.7L323.6 646.2L324.6 646.8L325.7 647.4L325.7 658.4L324.6 658.1L323.6 657.7L322.6 657.4ZM325.7 647.4L326.8 647.9L327.8 648.5L328.9 649.1L329.9 649.7L331.0 650.4L332.0 651.0L332.8 651.5L333.6 652.0L334.5 652.5L335.3 653.1L336.2 653.6L337.1 654.1L337.9 654.6L338.8 655.1L339.7 655.6L340.6 656.2L341.4 656.7L342.3 657.3L343.2 657.8L344.1 658.4L344.9 659.0L345.8 659.6L346.7 660.2L347.5 660.9L348.4 661.6L349.2 662.3L349.2 672.3L348.4 671.6L347.5 670.9L346.7 670.2L345.8 669.5L344.9 668.9L344.1 668.3L343.2 667.6L342.3 667.1L341.4 666.5L340.6 665.9L339.7 665.4L338.8 664.8L337.9 664.3L337.1 663.8L336.2 663.3L335.3 662.8L334.5 662.3L333.6 661.9L332.8 661.4L332.0 661.0L331.0 660.5L329.9 660.0L328.9 659.6L327.8 659.2L326.8 658.8L325.7 658.4ZM349.2 662.3L350.0 663.0L350.7 663.7L351.4 664.3L352.2 665.0L352.9 665.8L353.7 666.5L354.4 667.2L355.2 668.0L355.9 668.8L356.7 669.6L357.4 670.4L358.2 671.2L358.9 672.0L359.6 672.8L360.3 673.7L361.0 674.5L361.6 675.3L362.3 676.2L362.9 677.0L362.9 686.9L362.3 686.0L361.6 685.2L361.0 684.3L360.3 683.5L359.6 682.7L358.9 681.9L358.2 681.1L357.4 680.3L356.7 679.5L355.9 678.7L355.2 677.9L354.4 677.2L353.7 676.4L352.9 675.7L352.2 675.0L351.4 674.3L350.7 673.7L350.0 673.0L349.2 672.3ZM362.9 677.0L363.5 677.9L364.1 678.7L364.6 679.5L365.1 680.4L365.6 681.2L366.0 682.0L366.5 683.0L366.9 683.9L366.9 694.0L366.5 693.0L366.0 692.0L365.6 691.1L365.1 690.3L364.6 689.4L364.1 688.6L363.5 687.7L362.9 686.9ZM366.9 683.9L367.4 685.0L367.9 686.0L368.3 687.1L368.7 688.2L369.1 689.3L369.5 690.4L369.8 691.4L370.1 692.5L370.1 702.8L369.8 701.6L369.5 700.5L369.1 699.4L368.7 698.3L368.3 697.2L367.9 696.1L367.4 695.1L366.9 694.0ZM370.1 692.5L370.4 693.6L370.6 694.6L370.8 695.6L370.9 696.6L370.9 707.1L370.8 706.1L370.6 705.0L370.4 703.9L370.1 702.8ZM370.9 696.6L371.0 697.6L371.0 698.5L371.0 709.2L371.0 708.2L370.9 707.1Z" fill="#4a4a4a" stroke="#4a4a4a" stroke-width="2.4" stroke-linejoin="round"/><path d="M389.0 487.0L389.3 487.4L389.6 487.9L390.0 488.5L390.4 489.1L390.8 489.7L391.3 490.4L391.8 491.2L392.3 492.0L392.9 492.8L393.4 493.7L394.0 494.5L394.6 495.4L395.2 496.4L395.8 497.3L396.3 498.2L396.9 499.1L397.5 500.1L398.0 501.0L398.4 501.8L398.9 502.5L399.3 503.3L399.8 504.2L400.2 505.0L400.7 505.8L401.2 506.7L401.6 507.5L402.1 508.4L402.6 509.3L403.1 510.2L403.5 511.1L404.0 512.0L404.5 512.9L404.9 513.8L405.4 514.7L405.8 515.6L406.3 516.5L406.7 517.4L407.2 518.3L407.6 519.1L408.0 520.0L408.5 521.0L408.9 522.0L409.4 523.1L409.9 524.1L410.3 525.1L410.7 526.2L411.2 527.2L411.6 528.3L412.0 529.3L412.5 530.3L412.9 531.4L413.3 532.4L413.7 533.4L414.1 534.4L414.5 535.3L414.9 536.3L415.3 537.2L415.6 538.1L416.0 539.0L416.6 540.3L417.2 541.5L417.9 542.7L418.6 543.9L418.6 560.6L417.9 559.8L417.2 558.9L416.6 558.0L416.0 557.0L415.6 556.3L415.3 555.5L414.9 554.7L414.5 554.0L414.1 553.1L413.7 552.3L413.3 551.4L412.9 550.5L412.5 549.6L412.0 548.7L411.6 547.8L411.2 546.9L410.7 545.9L410.3 544.9L409.9 544.0L409.4 543.0L408.9 542.0L408.5 541.0L408.0 540.0L407.6 539.1L407.2 538.2L406.7 537.3L406.3 536.4L405.8 535.4L405.4 534.5L404.9 533.5L404.5 532.5L404.0 531.5L403.5 530.6L403.1 529.6L402.6 528.6L402.1 527.6L401.6 526.6L401.2 525.6L400.7 524.6L400.2 523.6L399.8 522.7L399.3 521.7L398.9 520.8L398.4 519.9L398.0 519.0L397.5 517.9L396.9 516.8L396.3 515.6L395.8 514.5L395.2 513.3L394.6 512.1L394.0 511.0L393.4 509.8L392.9 508.7L392.3 507.6L391.8 506.6L391.3 505.6L390.8 504.6L390.4 503.7L390.0 502.9L389.6 502.2L389.3 501.5L389.0 501.0Z" fill="#000000" stroke="#000000" stroke-width="0.5"/><path d="M418.6 543.9L419.3 545.1L419.9 546.3L420.5 547.4L421.1 548.4L421.5 549.4L421.5 564.2L421.1 563.5L420.5 562.8L419.9 562.1L419.3 561.4L418.6 560.6Z" fill="#949494" stroke="#949494" stroke-width="0.5"/><path d="M421.5 549.4L421.9 550.4L421.9 564.8L421.5 564.2Z" fill="#8c8c8c" stroke="#8c8c8c" stroke-width="0.5"/><path d="M421.9 550.4L422.1 551.3L422.1 565.5L421.9 564.8Z" fill="#848484" stroke="#848484" stroke-width="0.5"/><path d="M422.1 551.3L422.1 552.2L422.1 566.2L422.1 565.5Z" fill="#7c7c7c" stroke="#7c7c7c" stroke-width="0.5"/><path d="M341.6 569.5L342.0 571.0L342.0 589.0L341.6 588.5Z" fill="#8c8c8c" stroke="#8c8c8c" stroke-width="0.5"/><path d="M342.0 571.0L342.4 571.7L342.4 589.2L342.0 589.0Z" fill="#9c9c9c" stroke="#9c9c9c" stroke-width="0.5"/><path d="M342.4 571.7L342.9 572.4L343.6 573.2L344.4 574.0L345.3 574.8L346.3 575.7L347.4 576.5L348.5 577.4L349.6 578.3L350.8 579.1L352.0 580.0L352.7 580.5L353.5 581.1L354.3 581.6L355.1 582.2L356.0 582.7L356.9 583.3L357.7 583.8L358.6 584.4L359.6 584.9L360.5 585.5L361.4 586.1L362.4 586.6L363.3 587.2L364.3 587.8L365.2 588.3L366.1 588.9L367.1 589.4L368.0 590.0L368.9 590.5L369.8 591.0L370.7 591.5L371.6 592.1L372.6 592.6L373.5 593.1L374.4 593.6L375.4 594.1L376.3 594.6L377.3 595.1L378.2 595.6L379.1 596.1L380.0 596.6L380.9 597.2L381.8 597.7L382.6 598.3L383.5 598.8L384.2 599.4L385.0 600.0L385.8 600.7L386.6 601.4L386.6 611.4L385.8 610.7L385.0 610.0L384.2 609.4L383.5 608.8L382.6 608.2L381.8 607.7L380.9 607.1L380.0 606.6L379.1 606.0L378.2 605.5L377.3 604.9L376.3 604.4L375.4 603.9L374.4 603.4L373.5 602.9L372.6 602.4L371.6 601.9L370.7 601.4L369.8 601.0L368.9 600.5L368.0 600.0L367.1 599.5L366.1 599.0L365.2 598.5L364.3 598.0L363.3 597.5L362.4 597.0L361.4 596.5L360.5 596.0L359.6 595.6L358.6 595.1L357.7 594.7L356.9 594.2L356.0 593.8L355.1 593.4L354.3 593.0L353.5 592.7L352.7 592.3L352.0 592.0L350.8 591.5L349.6 591.1L348.5 590.8L347.4 590.5L346.3 590.2L345.3 590.0L344.4 589.8L343.6 589.6L342.9 589.4L342.4 589.2Z" fill="#a4a4a4" stroke="#a4a4a4" stroke-width="0.5"/><path d="M386.6 601.4L387.4 602.1L388.2 602.9L389.0 603.7L389.8 604.4L390.5 605.2L391.2 606.0L391.9 606.8L392.6 607.6L393.2 608.4L393.8 609.2L393.8 619.1L393.2 618.3L392.6 617.5L391.9 616.7L391.2 615.9L390.5 615.1L389.8 614.4L389.0 613.6L388.2 612.9L387.4 612.1L386.6 611.4Z" fill="#9c9c9c" stroke="#9c9c9c" stroke-width="0.5"/><path d="M393.8 609.2L394.3 610.0L394.8 610.8L395.2 611.5L395.6 612.3L396.0 613.0L396.0 623.0L395.6 622.2L395.2 621.5L394.8 620.7L394.3 619.9L393.8 619.1Z" fill="#949494" stroke="#949494" stroke-width="0.5"/><path d="M396.0 613.0L396.5 614.0L396.9 615.1L397.3 616.1L397.6 617.1L397.6 627.4L397.3 626.3L396.9 625.2L396.5 624.1L396.0 623.0Z" fill="#8c8c8c" stroke="#8c8c8c" stroke-width="0.5"/><path d="M397.6 617.1L397.8 618.2L398.0 619.2L398.0 629.7L397.8 628.6L397.6 627.4Z" fill="#848484" stroke="#848484" stroke-width="0.5"/><path d="M398.0 619.2L398.0 620.2L398.0 630.8L398.0 629.7Z" fill="#7c7c7c" stroke="#7c7c7c" stroke-width="0.5"/><path d="M312.4 632.1L312.5 633.5L312.5 651.2L312.4 650.6Z" fill="#7c7c7c" stroke="#7c7c7c" stroke-width="0.5"/><path d="M312.5 633.5L312.8 635.0L313.3 636.6L313.3 652.7L312.8 651.9L312.5 651.2Z" fill="#8c8c8c" stroke="#8c8c8c" stroke-width="0.5"/><path d="M313.3 636.6L314.0 638.1L314.0 653.5L313.3 652.7Z" fill="#949494" stroke="#949494" stroke-width="0.5"/><path d="M314.0 638.1L314.9 639.6L316.0 641.0L316.0 655.0L314.9 654.3L314.0 653.5Z" fill="#9c9c9c" stroke="#9c9c9c" stroke-width="0.5"/><path d="M316.0 641.0L316.6 641.6L317.3 642.2L318.0 642.8L318.8 643.4L319.7 644.0L320.6 644.5L321.6 645.1L322.6 645.7L322.6 657.4L321.6 657.1L320.6 656.8L319.7 656.5L318.8 656.2L318.0 655.9L317.3 655.6L316.6 655.3L316.0 655.0Z" fill="#a4a4a4" stroke="#a4a4a4" stroke-width="0.5"/><path d="M322.6 645.7L323.6 646.2L324.6 646.8L325.7 647.4L325.7 658.4L324.6 658.1L323.6 657.7L322.6 657.4Z" fill="#acacac" stroke="#acacac" stroke-width="0.5"/><path d="M325.7 647.4L326.8 647.9L327.8 648.5L328.9 649.1L329.9 649.7L331.0 650.4L332.0 651.0L332.8 651.5L333.6 652.0L334.5 652.5L335.3 653.1L336.2 653.6L337.1 654.1L337.9 654.6L338.8 655.1L339.7 655.6L340.6 656.2L341.4 656.7L342.3 657.3L343.2 657.8L344.1 658.4L344.9 659.0L345.8 659.6L346.7 660.2L347.5 660.9L348.4 661.6L349.2 662.3L349.2 672.3L348.4 671.6L347.5 670.9L346.7 670.2L345.8 669.5L344.9 668.9L344.1 668.3L343.2 667.6L342.3 667.1L341.4 666.5L340.6 665.9L339.7 665.4L338.8 664.8L337.9 664.3L337.1 663.8L336.2 663.3L335.3 662.8L334.5 662.3L333.6 661.9L332.8 661.4L332.0 661.0L331.0 660.5L329.9 660.0L328.9 659.6L327.8 659.2L326.8 658.8L325.7 658.4Z" fill="#a4a4a4" stroke="#a4a4a4" stroke-width="0.5"/><path d="M349.2 662.3L350.0 663.0L350.7 663.7L351.4 664.3L352.2 665.0L352.9 665.8L353.7 666.5L354.4 667.2L355.2 668.0L355.9 668.8L356.7 669.6L357.4 670.4L358.2 671.2L358.9 672.0L359.6 672.8L360.3 673.7L361.0 674.5L361.6 675.3L362.3 676.2L362.9 677.0L362.9 686.9L362.3 686.0L361.6 685.2L361.0 684.3L360.3 683.5L359.6 682.7L358.9 681.9L358.2 681.1L357.4 680.3L356.7 679.5L355.9 678.7L355.2 677.9L354.4 677.2L353.7 676.4L352.9 675.7L352.2 675.0L351.4 674.3L350.7 673.7L350.0 673.0L349.2 672.3Z" fill="#9c9c9c" stroke="#9c9c9c" stroke-width="0.5"/><path d="M362.9 677.0L363.5 677.9L364.1 678.7L364.6 679.5L365.1 680.4L365.6 681.2L366.0 682.0L366.5 683.0L366.9 683.9L366.9 694.0L366.5 693.0L366.0 692.0L365.6 691.1L365.1 690.3L364.6 689.4L364.1 688.6L363.5 687.7L362.9 686.9Z" fill="#949494" stroke="#949494" stroke-width="0.5"/><path d="M366.9 683.9L367.4 685.0L367.9 686.0L368.3 687.1L368.7 688.2L369.1 689.3L369.5 690.4L369.8 691.4L370.1 692.5L370.1 702.8L369.8 701.6L369.5 700.5L369.1 699.4L368.7 698.3L368.3 697.2L367.9 696.1L367.4 695.1L366.9 694.0Z" fill="#8c8c8c" stroke="#8c8c8c" stroke-width="0.5"/><path d="M370.1 692.5L370.4 693.6L370.6 694.6L370.8 695.6L370.9 696.6L370.9 707.1L370.8 706.1L370.6 705.0L370.4 703.9L370.1 702.8Z" fill="#848484" stroke="#848484" stroke-width="0.5"/><path d="M370.9 696.6L371.0 697.6L371.0 698.5L371.0 709.2L371.0 708.2L370.9 707.1Z" fill="#7c7c7c" stroke="#7c7c7c" stroke-width="0.5"/><path d="M422.1 552.2L422.0 553.0L422.0 567.0L422.1 566.2ZM422.0 553.0L421.7 553.7L421.7 567.7L422.0 567.0ZM421.7 553.7L421.3 554.3L421.3 568.5L421.7 567.7ZM421.3 554.3L420.9 554.9L420.3 555.4L419.6 555.8L419.6 570.7L420.3 570.0L420.9 569.2L421.3 568.5ZM419.6 555.8L418.8 556.2L417.9 556.6L417.0 557.0L416.0 557.3L414.9 557.7L413.8 558.0L413.8 575.1L414.9 574.4L416.0 573.7L417.0 573.0L417.9 572.2L418.8 571.5L419.6 570.7ZM413.8 558.0L412.6 558.3L411.3 558.7L410.0 559.0L409.2 559.2L408.4 559.4L407.6 559.6L406.7 559.8L405.8 560.0L404.9 560.2L403.9 560.4L403.0 560.6L402.0 560.8L400.9 560.9L399.9 561.1L398.8 561.3L397.8 561.5L396.7 561.6L395.6 561.8L394.5 561.9L393.5 562.1L392.4 562.2L391.3 562.4L390.2 562.5L389.1 562.6L388.1 562.7L387.0 562.8L386.0 562.9L385.0 563.0L384.0 563.1L383.0 563.1L381.9 563.2L380.9 563.2L379.8 563.2L378.8 563.2L377.7 563.2L376.7 563.2L375.6 563.2L374.5 563.2L373.5 563.2L372.4 563.1L371.4 563.1L370.3 563.1L369.3 563.0L368.3 563.0L367.3 563.0L366.3 563.0L365.3 562.9L364.4 562.9L363.4 562.9L362.5 562.9L361.7 562.9L360.8 563.0L360.0 563.0L358.7 563.1L357.4 563.1L356.2 563.2L355.0 563.3L353.8 563.4L352.7 563.5L351.6 563.6L350.6 563.7L349.7 563.8L348.7 564.0L347.9 564.1L347.1 564.3L346.3 564.5L345.6 564.7L345.0 565.0L343.4 565.9L343.4 587.3L345.0 587.0L345.6 587.0L346.3 586.9L347.1 586.9L347.9 587.0L348.7 587.0L349.7 587.0L350.6 587.1L351.6 587.1L352.7 587.2L353.8 587.2L355.0 587.2L356.2 587.2L357.4 587.2L358.7 587.1L360.0 587.0L360.8 586.9L361.7 586.8L362.5 586.7L363.4 586.6L364.4 586.5L365.3 586.4L366.3 586.2L367.3 586.1L368.3 585.9L369.3 585.8L370.3 585.6L371.4 585.5L372.4 585.3L373.5 585.1L374.5 584.9L375.6 584.8L376.7 584.6L377.7 584.4L378.8 584.2L379.8 584.0L380.9 583.8L381.9 583.6L383.0 583.4L384.0 583.2L385.0 583.0L386.0 582.8L387.0 582.6L388.1 582.4L389.1 582.2L390.2 582.0L391.3 581.8L392.4 581.6L393.5 581.4L394.5 581.2L395.6 580.9L396.7 580.7L397.8 580.5L398.8 580.3L399.9 580.0L400.9 579.8L402.0 579.5L403.0 579.3L403.9 579.0L404.9 578.8L405.8 578.5L406.7 578.2L407.6 577.9L408.4 577.6L409.2 577.3L410.0 577.0L411.3 576.4L412.6 575.8L413.8 575.1ZM343.4 565.9L342.3 567.0L342.3 587.6L343.4 587.3ZM342.3 567.0L341.7 568.2L341.7 588.0L342.3 587.6ZM341.7 568.2L341.6 569.5L341.6 588.5L341.7 588.0ZM398.0 620.2L398.0 621.1L398.0 631.9L398.0 630.8ZM398.0 621.1L397.7 621.9L397.7 633.0L398.0 631.9ZM397.7 621.9L397.3 622.7L397.3 634.0L397.7 633.0ZM397.3 622.7L396.8 623.4L396.8 635.0L397.3 634.0ZM396.8 623.4L396.0 624.0L396.0 636.0L396.8 635.0ZM396.0 624.0L395.5 624.3L394.8 624.5L394.1 624.8L393.4 625.0L393.4 638.1L394.1 637.6L394.8 637.1L395.5 636.5L396.0 636.0ZM393.4 625.0L392.5 625.1L391.6 625.3L390.7 625.4L389.7 625.5L388.7 625.5L387.6 625.6L386.5 625.6L385.4 625.7L384.2 625.7L383.1 625.7L381.9 625.8L380.7 625.8L379.6 625.8L378.4 625.8L377.2 625.9L376.1 625.9L375.0 626.0L374.1 626.1L373.1 626.1L372.2 626.2L371.2 626.2L370.3 626.3L369.3 626.3L368.3 626.4L367.3 626.4L366.3 626.4L365.3 626.5L364.3 626.5L363.3 626.5L362.2 626.6L361.2 626.6L360.2 626.6L359.2 626.7L358.1 626.7L357.1 626.7L356.1 626.8L355.1 626.8L354.0 626.9L353.0 626.9L352.0 626.9L351.0 627.0L350.0 627.0L349.0 627.0L348.0 627.1L346.9 627.1L345.9 627.1L344.8 627.2L343.7 627.2L342.6 627.3L341.5 627.3L340.5 627.3L339.4 627.4L338.3 627.4L337.2 627.4L336.2 627.5L335.1 627.5L334.1 627.5L333.0 627.6L332.0 627.6L331.1 627.6L330.1 627.7L329.2 627.7L328.3 627.8L327.4 627.8L326.6 627.9L325.8 627.9L325.0 628.0L323.5 628.1L322.1 628.2L320.7 628.2L319.5 628.3L318.3 628.3L317.2 628.4L316.3 628.5L315.4 628.6L314.6 628.8L314.0 629.1L313.4 629.5L313.4 650.0L314.0 650.2L314.6 650.5L315.4 650.9L316.3 651.3L317.2 651.8L318.3 652.2L319.5 652.7L320.7 653.1L322.1 653.5L323.5 653.8L325.0 654.0L325.8 654.1L326.6 654.1L327.4 654.2L328.3 654.2L329.2 654.2L330.1 654.2L331.1 654.3L332.0 654.3L333.0 654.3L334.1 654.2L335.1 654.2L336.2 654.2L337.2 654.2L338.3 654.1L339.4 654.1L340.5 654.0L341.5 653.9L342.6 653.9L343.7 653.8L344.8 653.7L345.9 653.6L346.9 653.4L348.0 653.3L349.0 653.2L350.0 653.0L351.0 652.8L352.0 652.7L353.0 652.5L354.0 652.3L355.1 652.0L356.1 651.8L357.1 651.6L358.1 651.3L359.2 651.0L360.2 650.8L361.2 650.5L362.2 650.2L363.3 649.9L364.3 649.6L365.3 649.3L366.3 649.0L367.3 648.7L368.3 648.3L369.3 648.0L370.3 647.7L371.2 647.4L372.2 647.0L373.1 646.7L374.1 646.3L375.0 646.0L376.1 645.6L377.2 645.2L378.4 644.8L379.6 644.3L380.7 643.9L381.9 643.4L383.1 643.0L384.2 642.5L385.4 642.1L386.5 641.6L387.6 641.1L388.7 640.7L389.7 640.2L390.7 639.7L391.6 639.2L392.5 638.7L393.4 638.1ZM313.4 629.5L313.0 630.0L313.0 650.0L313.4 650.0ZM313.0 630.0L312.6 631.0L312.6 650.2L313.0 650.0ZM312.6 631.0L312.4 632.1L312.4 650.6L312.6 650.2ZM371.0 698.5L370.9 699.3L370.9 710.3L371.0 709.2ZM370.9 699.3L370.8 700.1L370.6 700.8L370.6 712.2L370.8 711.3L370.9 710.3ZM370.6 700.8L370.3 701.4L370.3 713.1L370.6 712.2ZM370.3 701.4L370.0 702.0L369.6 702.5L369.6 714.8L370.0 714.0L370.3 713.1ZM369.6 702.5L369.1 702.9L368.4 703.2L368.4 716.5L369.1 715.7L369.6 714.8ZM368.4 703.2L367.8 703.5L367.0 703.7L366.2 703.9L365.3 704.0L365.3 719.5L366.2 718.8L367.0 718.0L367.8 717.3L368.4 716.5ZM365.3 704.0L364.4 704.1L363.4 704.2L362.3 704.2L361.3 704.2L360.2 704.2L359.1 704.1L357.9 704.1L356.8 704.0L355.6 704.0L354.5 703.9L353.3 703.9L352.2 703.9L351.1 703.9L350.0 704.0L349.1 704.1L348.2 704.1L347.2 704.2L346.2 704.2L345.2 704.2L344.2 704.3L343.2 704.3L342.2 704.3L341.2 704.4L340.1 704.4L339.1 704.4L338.0 704.4L337.0 704.5L335.9 704.5L334.9 704.5L333.8 704.5L332.8 704.6L331.8 704.6L330.8 704.6L329.8 704.7L328.8 704.7L327.8 704.8L326.8 704.9L325.9 704.9L325.0 705.0L323.9 705.1L322.7 705.2L321.6 705.4L320.5 705.5L319.4 705.6L318.3 705.8L317.2 705.9L316.1 706.1L315.0 706.3L313.9 706.4L312.9 706.6L311.9 706.8L310.9 706.9L310.0 707.1L309.0 707.3L308.2 707.4L307.3 707.6L306.5 707.7L305.7 707.9L305.0 708.0L303.4 708.3L302.0 708.6L300.8 708.9L299.8 709.2L298.9 709.4L298.2 709.7L297.5 709.9L297.0 710.0L297.0 732.0L297.5 732.2L298.2 732.4L298.9 732.6L299.8 732.9L300.8 733.2L302.0 733.5L303.4 733.8L305.0 734.0L305.7 734.1L306.5 734.2L307.3 734.3L308.2 734.4L309.0 734.5L310.0 734.6L310.9 734.7L311.9 734.9L312.9 735.0L313.9 735.1L315.0 735.2L316.1 735.2L317.2 735.3L318.3 735.3L319.4 735.3L320.5 735.3L321.6 735.3L322.7 735.2L323.9 735.1L325.0 735.0L325.9 734.9L326.8 734.7L327.8 734.6L328.8 734.4L329.8 734.2L330.8 734.0L331.8 733.8L332.8 733.6L333.8 733.4L334.9 733.1L335.9 732.9L337.0 732.6L338.0 732.3L339.1 732.0L340.1 731.7L341.2 731.4L342.2 731.0L343.2 730.7L344.2 730.3L345.2 730.0L346.2 729.6L347.2 729.2L348.2 728.8L349.1 728.4L350.0 728.0L351.1 727.5L352.2 727.0L353.3 726.4L354.5 725.9L355.6 725.3L356.8 724.7L357.9 724.1L359.1 723.5L360.2 722.9L361.3 722.3L362.3 721.6L363.4 720.9L364.4 720.2L365.3 719.5Z" fill="#4a4a4a" stroke="#4a4a4a" stroke-width="2.4" stroke-linejoin="round"/><path d="M422.1 552.2L422.0 553.0L422.0 567.0L422.1 566.2Z" fill="#878787" stroke="#878787" stroke-width="0.5"/><path d="M422.0 553.0L421.7 553.7L421.7 567.7L422.0 567.0Z" fill="#939393" stroke="#939393" stroke-width="0.5"/><path d="M421.7 553.7L421.3 554.3L421.3 568.5L421.7 567.7Z" fill="#9e9e9e" stroke="#9e9e9e" stroke-width="0.5"/><path d="M421.3 554.3L420.9 554.9L420.3 555.4L419.6 555.8L419.6 570.7L420.3 570.0L420.9 569.2L421.3 568.5Z" fill="#a9a9a9" stroke="#a9a9a9" stroke-width="0.5"/><path d="M419.6 555.8L418.8 556.2L417.9 556.6L417.0 557.0L416.0 557.3L414.9 557.7L413.8 558.0L413.8 575.1L414.9 574.4L416.0 573.7L417.0 573.0L417.9 572.2L418.8 571.5L419.6 570.7Z" fill="#b5b5b5" stroke="#b5b5b5" stroke-width="0.5"/><path d="M413.8 558.0L412.6 558.3L411.3 558.7L410.0 559.0L409.2 559.2L408.4 559.4L407.6 559.6L406.7 559.8L405.8 560.0L404.9 560.2L403.9 560.4L403.0 560.6L402.0 560.8L400.9 560.9L399.9 561.1L398.8 561.3L397.8 561.5L396.7 561.6L395.6 561.8L394.5 561.9L393.5 562.1L392.4 562.2L391.3 562.4L390.2 562.5L389.1 562.6L388.1 562.7L387.0 562.8L386.0 562.9L385.0 563.0L384.0 563.1L383.0 563.1L381.9 563.2L380.9 563.2L379.8 563.2L378.8 563.2L377.7 563.2L376.7 563.2L375.6 563.2L374.5 563.2L373.5 563.2L372.4 563.1L371.4 563.1L370.3 563.1L369.3 563.0L368.3 563.0L367.3 563.0L366.3 563.0L365.3 562.9L364.4 562.9L363.4 562.9L362.5 562.9L361.7 562.9L360.8 563.0L360.0 563.0L358.7 563.1L357.4 563.1L356.2 563.2L355.0 563.3L353.8 563.4L352.7 563.5L351.6 563.6L350.6 563.7L349.7 563.8L348.7 564.0L347.9 564.1L347.1 564.3L346.3 564.5L345.6 564.7L345.0 565.0L343.4 565.9L343.4 587.3L345.0 587.0L345.6 587.0L346.3 586.9L347.1 586.9L347.9 587.0L348.7 587.0L349.7 587.0L350.6 587.1L351.6 587.1L352.7 587.2L353.8 587.2L355.0 587.2L356.2 587.2L357.4 587.2L358.7 587.1L360.0 587.0L360.8 586.9L361.7 586.8L362.5 586.7L363.4 586.6L364.4 586.5L365.3 586.4L366.3 586.2L367.3 586.1L368.3 585.9L369.3 585.8L370.3 585.6L371.4 585.5L372.4 585.3L373.5 585.1L374.5 584.9L375.6 584.8L376.7 584.6L377.7 584.4L378.8 584.2L379.8 584.0L380.9 583.8L381.9 583.6L383.0 583.4L384.0 583.2L385.0 583.0L386.0 582.8L387.0 582.6L388.1 582.4L389.1 582.2L390.2 582.0L391.3 581.8L392.4 581.6L393.5 581.4L394.5 581.2L395.6 580.9L396.7 580.7L397.8 580.5L398.8 580.3L399.9 580.0L400.9 579.8L402.0 579.5L403.0 579.3L403.9 579.0L404.9 578.8L405.8 578.5L406.7 578.2L407.6 577.9L408.4 577.6L409.2 577.3L410.0 577.0L411.3 576.4L412.6 575.8L413.8 575.1Z" fill="#c0c0c0" stroke="#c0c0c0" stroke-width="0.5"/><path d="M343.4 565.9L342.3 567.0L342.3 587.6L343.4 587.3Z" fill="#b5b5b5" stroke="#b5b5b5" stroke-width="0.5"/><path d="M342.3 567.0L341.7 568.2L341.7 588.0L342.3 587.6Z" fill="#a9a9a9" stroke="#a9a9a9" stroke-width="0.5"/><path d="M341.7 568.2L341.6 569.5L341.6 588.5L341.7 588.0Z" fill="#878787" stroke="#878787" stroke-width="0.5"/><path d="M398.0 620.2L398.0 621.1L398.0 631.9L398.0 630.8Z" fill="#7c7c7c" stroke="#7c7c7c" stroke-width="0.5"/><path d="M398.0 621.1L397.7 621.9L397.7 633.0L398.0 631.9Z" fill="#878787" stroke="#878787" stroke-width="0.5"/><path d="M397.7 621.9L397.3 622.7L397.3 634.0L397.7 633.0Z" fill="#939393" stroke="#939393" stroke-width="0.5"/><path d="M397.3 622.7L396.8 623.4L396.8 635.0L397.3 634.0Z" fill="#9e9e9e" stroke="#9e9e9e" stroke-width="0.5"/><path d="M396.8 623.4L396.0 624.0L396.0 636.0L396.8 635.0Z" fill="#a9a9a9" stroke="#a9a9a9" stroke-width="0.5"/><path d="M396.0 624.0L395.5 624.3L394.8 624.5L394.1 624.8L393.4 625.0L393.4 638.1L394.1 637.6L394.8 637.1L395.5 636.5L396.0 636.0Z" fill="#b5b5b5" stroke="#b5b5b5" stroke-width="0.5"/><path d="M393.4 625.0L392.5 625.1L391.6 625.3L390.7 625.4L389.7 625.5L388.7 625.5L387.6 625.6L386.5 625.6L385.4 625.7L384.2 625.7L383.1 625.7L381.9 625.8L380.7 625.8L379.6 625.8L378.4 625.8L377.2 625.9L376.1 625.9L375.0 626.0L374.1 626.1L373.1 626.1L372.2 626.2L371.2 626.2L370.3 626.3L369.3 626.3L368.3 626.4L367.3 626.4L366.3 626.4L365.3 626.5L364.3 626.5L363.3 626.5L362.2 626.6L361.2 626.6L360.2 626.6L359.2 626.7L358.1 626.7L357.1 626.7L356.1 626.8L355.1 626.8L354.0 626.9L353.0 626.9L352.0 626.9L351.0 627.0L350.0 627.0L349.0 627.0L348.0 627.1L346.9 627.1L345.9 627.1L344.8 627.2L343.7 627.2L342.6 627.3L341.5 627.3L340.5 627.3L339.4 627.4L338.3 627.4L337.2 627.4L336.2 627.5L335.1 627.5L334.1 627.5L333.0 627.6L332.0 627.6L331.1 627.6L330.1 627.7L329.2 627.7L328.3 627.8L327.4 627.8L326.6 627.9L325.8 627.9L325.0 628.0L323.5 628.1L322.1 628.2L320.7 628.2L319.5 628.3L318.3 628.3L317.2 628.4L316.3 628.5L315.4 628.6L314.6 628.8L314.0 629.1L313.4 629.5L313.4 650.0L314.0 650.2L314.6 650.5L315.4 650.9L316.3 651.3L317.2 651.8L318.3 652.2L319.5 652.7L320.7 653.1L322.1 653.5L323.5 653.8L325.0 654.0L325.8 654.1L326.6 654.1L327.4 654.2L328.3 654.2L329.2 654.2L330.1 654.2L331.1 654.3L332.0 654.3L333.0 654.3L334.1 654.2L335.1 654.2L336.2 654.2L337.2 654.2L338.3 654.1L339.4 654.1L340.5 654.0L341.5 653.9L342.6 653.9L343.7 653.8L344.8 653.7L345.9 653.6L346.9 653.4L348.0 653.3L349.0 653.2L350.0 653.0L351.0 652.8L352.0 652.7L353.0 652.5L354.0 652.3L355.1 652.0L356.1 651.8L357.1 651.6L358.1 651.3L359.2 651.0L360.2 650.8L361.2 650.5L362.2 650.2L363.3 649.9L364.3 649.6L365.3 649.3L366.3 649.0L367.3 648.7L368.3 648.3L369.3 648.0L370.3 647.7L371.2 647.4L372.2 647.0L373.1 646.7L374.1 646.3L375.0 646.0L376.1 645.6L377.2 645.2L378.4 644.8L379.6 644.3L380.7 643.9L381.9 643.4L383.1 643.0L384.2 642.5L385.4 642.1L386.5 641.6L387.6 641.1L388.7 640.7L389.7 640.2L390.7 639.7L391.6 639.2L392.5 638.7L393.4 638.1Z" fill="#c0c0c0" stroke="#c0c0c0" stroke-width="0.5"/><path d="M313.4 629.5L313.0 630.0L313.0 650.0L313.4 650.0Z" fill="#b5b5b5" stroke="#b5b5b5" stroke-width="0.5"/><path d="M313.0 630.0L312.6 631.0L312.6 650.2L313.0 650.0Z" fill="#a9a9a9" stroke="#a9a9a9" stroke-width="0.5"/><path d="M312.6 631.0L312.4 632.1L312.4 650.6L312.6 650.2Z" fill="#878787" stroke="#878787" stroke-width="0.5"/><path d="M371.0 698.5L370.9 699.3L370.9 710.3L371.0 709.2Z" fill="#7c7c7c" stroke="#7c7c7c" stroke-width="0.5"/><path d="M370.9 699.3L370.8 700.1L370.6 700.8L370.6 712.2L370.8 711.3L370.9 710.3Z" fill="#878787" stroke="#878787" stroke-width="0.5"/><path d="M370.6 700.8L370.3 701.4L370.3 713.1L370.6 712.2Z" fill="#939393" stroke="#939393" stroke-width="0.5"/><path d="M370.3 701.4L370.0 702.0L369.6 702.5L369.6 714.8L370.0 714.0L370.3 713.1Z" fill="#9e9e9e" stroke="#9e9e9e" stroke-width="0.5"/><path d="M369.6 702.5L369.1 702.9L368.4 703.2L368.4 716.5L369.1 715.7L369.6 714.8Z" fill="#a9a9a9" stroke="#a9a9a9" stroke-width="0.5"/><path d="M368.4 703.2L367.8 703.5L367.0 703.7L366.2 703.9L365.3 704.0L365.3 719.5L366.2 718.8L367.0 718.0L367.8 717.3L368.4 716.5Z" fill="#b5b5b5" stroke="#b5b5b5" stroke-width="0.5"/><path d="M365.3 704.0L364.4 704.1L363.4 704.2L362.3 704.2L361.3 704.2L360.2 704.2L359.1 704.1L357.9 704.1L356.8 704.0L355.6 704.0L354.5 703.9L353.3 703.9L352.2 703.9L351.1 703.9L350.0 704.0L349.1 704.1L348.2 704.1L347.2 704.2L346.2 704.2L345.2 704.2L344.2 704.3L343.2 704.3L342.2 704.3L341.2 704.4L340.1 704.4L339.1 704.4L338.0 704.4L337.0 704.5L335.9 704.5L334.9 704.5L333.8 704.5L332.8 704.6L331.8 704.6L330.8 704.6L329.8 704.7L328.8 704.7L327.8 704.8L326.8 704.9L325.9 704.9L325.0 705.0L323.9 705.1L322.7 705.2L321.6 705.4L320.5 705.5L319.4 705.6L318.3 705.8L317.2 705.9L316.1 706.1L315.0 706.3L313.9 706.4L312.9 706.6L311.9 706.8L310.9 706.9L310.0 707.1L309.0 707.3L308.2 707.4L307.3 707.6L306.5 707.7L305.7 707.9L305.0 708.0L303.4 708.3L302.0 708.6L300.8 708.9L299.8 709.2L298.9 709.4L298.2 709.7L297.5 709.9L297.0 710.0L297.0 732.0L297.5 732.2L298.2 732.4L298.9 732.6L299.8 732.9L300.8 733.2L302.0 733.5L303.4 733.8L305.0 734.0L305.7 734.1L306.5 734.2L307.3 734.3L308.2 734.4L309.0 734.5L310.0 734.6L310.9 734.7L311.9 734.9L312.9 735.0L313.9 735.1L315.0 735.2L316.1 735.2L317.2 735.3L318.3 735.3L319.4 735.3L320.5 735.3L321.6 735.3L322.7 735.2L323.9 735.1L325.0 735.0L325.9 734.9L326.8 734.7L327.8 734.6L328.8 734.4L329.8 734.2L330.8 734.0L331.8 733.8L332.8 733.6L333.8 733.4L334.9 733.1L335.9 732.9L337.0 732.6L338.0 732.3L339.1 732.0L340.1 731.7L341.2 731.4L342.2 731.0L343.2 730.7L344.2 730.3L345.2 730.0L346.2 729.6L347.2 729.2L348.2 728.8L349.1 728.4L350.0 728.0L351.1 727.5L352.2 727.0L353.3 726.4L354.5 725.9L355.6 725.3L356.8 724.7L357.9 724.1L359.1 723.5L360.2 722.9L361.3 722.3L362.3 721.6L363.4 720.9L364.4 720.2L365.3 719.5Z" fill="#c0c0c0" stroke="#c0c0c0" stroke-width="0.5"/>
<path d="M385.0 486.0C387.0 482.5 391.3 482.2 397.0 486.0C402.7 489.8 414.0 500.0 419.0 509.0C424.0 518.0 426.0 532.2 427.0 540.0C428.0 547.8 426.3 552.2 425.0 556.0C423.7 559.8 421.3 565.7 419.0 563.0C416.7 560.3 414.8 547.7 411.0 540.0C407.2 532.3 400.3 522.5 396.0 517.0C391.7 511.5 386.8 512.2 385.0 507.0C383.2 501.8 383.0 489.5 385.0 486.0Z" fill="#000"/>
<path d="M344.0 566.0C344.7 564.2 348.3 561.8 352.0 561.0C355.7 560.2 362.7 560.2 366.0 561.0C369.3 561.8 373.0 564.3 372.0 566.0C371.0 567.7 364.0 570.0 360.0 571.0C356.0 572.0 350.7 572.8 348.0 572.0C345.3 571.2 343.3 567.8 344.0 566.0Z" fill="#a0a0a0" stroke="#707070" stroke-width="0.9"/>
<path d="M315.0 634.0C315.8 632.3 319.2 629.8 323.0 629.0C326.8 628.2 334.5 628.3 338.0 629.0C341.5 629.7 345.0 631.5 344.0 633.0C343.0 634.5 336.3 637.0 332.0 638.0C327.7 639.0 320.8 639.7 318.0 639.0C315.2 638.3 314.2 635.7 315.0 634.0Z" fill="#a0a0a0" stroke="#707070" stroke-width="0.9"/>
<path d="M299.0 709.0C299.8 707.2 303.7 704.0 308.0 703.0C312.3 702.0 321.0 702.2 325.0 703.0C329.0 703.8 333.2 706.3 332.0 708.0C330.8 709.7 322.8 712.0 318.0 713.0C313.2 714.0 306.2 714.7 303.0 714.0C299.8 713.3 298.2 710.8 299.0 709.0Z" fill="#a0a0a0" stroke="#707070" stroke-width="0.9"/>
<path d="M414.0 485.0L413.9 485.5L413.8 486.2L413.6 487.0L413.3 487.9L413.1 488.9L412.9 490.0L412.6 491.0L412.5 492.1L412.4 493.2L412.4 508.4L412.5 507.1L412.6 505.9L412.9 504.6L413.1 503.5L413.3 502.3L413.6 501.3L413.8 500.4L413.9 499.6L414.0 499.0ZM412.4 493.2L412.4 494.3L412.4 509.6L412.4 508.4ZM490.2 518.2L490.2 519.4L490.1 520.6L490.0 521.8L489.7 522.9L489.4 524.0L489.0 525.0L488.7 525.7L488.3 526.4L487.8 527.0L487.3 527.6L486.8 528.2L486.2 528.8L485.6 529.4L485.6 544.7L486.2 543.9L486.8 543.0L487.3 542.2L487.8 541.4L488.3 540.6L488.7 539.8L489.0 539.0L489.4 537.9L489.7 536.8L490.0 535.8L490.1 534.7L490.2 533.7L490.2 532.8ZM485.6 529.4L485.0 530.0L484.3 530.6L483.6 531.2L482.8 531.8L482.1 532.5L481.3 533.1L480.5 533.8L479.7 534.5L478.8 535.2L478.0 536.0L477.4 536.6L476.7 537.2L476.1 537.8L475.4 538.4L474.6 539.0L473.9 539.7L473.1 540.3L472.4 541.0L471.6 541.7L470.8 542.4L470.0 543.1L469.2 543.8L468.4 544.4L467.6 545.2L466.8 545.9L466.0 546.6L465.2 547.3L464.4 548.0L463.6 548.6L462.8 549.3L462.1 550.0L461.4 550.7L460.7 551.3L460.0 552.0L459.2 552.8L458.3 553.6L457.5 554.4L456.6 555.2L455.8 556.0L454.9 556.8L454.1 557.6L453.3 558.4L452.5 559.2L451.7 560.0L451.0 560.7L450.3 561.5L449.5 562.3L448.9 563.1L448.2 563.9L447.6 564.6L447.0 565.4L446.5 566.2L446.5 584.3L447.0 583.7L447.6 583.0L448.2 582.4L448.9 581.7L449.5 581.1L450.3 580.4L451.0 579.8L451.7 579.1L452.5 578.5L453.3 577.8L454.1 577.2L454.9 576.5L455.8 575.8L456.6 575.1L457.5 574.3L458.3 573.6L459.2 572.8L460.0 572.0L460.7 571.3L461.4 570.7L462.1 570.0L462.8 569.3L463.6 568.5L464.4 567.8L465.2 567.0L466.0 566.3L466.8 565.5L467.6 564.7L468.4 563.9L469.2 563.1L470.0 562.3L470.8 561.5L471.6 560.8L472.4 560.0L473.1 559.2L473.9 558.4L474.6 557.6L475.4 556.9L476.1 556.1L476.7 555.4L477.4 554.7L478.0 554.0L478.8 553.0L479.7 552.1L480.5 551.1L481.3 550.2L482.1 549.2L482.8 548.3L483.6 547.4L484.3 546.5L485.0 545.6L485.6 544.7ZM446.5 566.2L446.0 567.0L445.4 568.1L444.8 569.2L444.2 570.3L443.7 571.4L443.7 588.7L444.2 587.8L444.8 586.9L445.4 585.9L446.0 585.0L446.5 584.3ZM443.7 571.4L443.3 572.5L442.9 573.6L442.5 574.8L442.2 575.9L442.2 592.4L442.5 591.5L442.9 590.6L443.3 589.6L443.7 588.7ZM442.2 575.9L442.0 576.9L441.8 578.0L441.8 594.3L442.0 593.4L442.2 592.4ZM441.8 578.0L441.8 579.1L441.7 580.1L441.7 596.1L441.8 595.2L441.8 594.3Z" fill="#4a4a4a" stroke="#4a4a4a" stroke-width="2.4" stroke-linejoin="round"/><path d="M414.0 485.0L413.9 485.5L413.8 486.2L413.6 487.0L413.3 487.9L413.1 488.9L412.9 490.0L412.6 491.0L412.5 492.1L412.4 493.2L412.4 508.4L412.5 507.1L412.6 505.9L412.9 504.6L413.1 503.5L413.3 502.3L413.6 501.3L413.8 500.4L413.9 499.6L414.0 499.0Z" fill="#909090" stroke="#909090" stroke-width="0.5"/><path d="M412.4 493.2L412.4 494.3L412.4 509.6L412.4 508.4Z" fill="#868686" stroke="#868686" stroke-width="0.5"/><path d="M490.2 518.2L490.2 519.4L490.1 520.6L490.0 521.8L489.7 522.9L489.4 524.0L489.0 525.0L488.7 525.7L488.3 526.4L487.8 527.0L487.3 527.6L486.8 528.2L486.2 528.8L485.6 529.4L485.6 544.7L486.2 543.9L486.8 543.0L487.3 542.2L487.8 541.4L488.3 540.6L488.7 539.8L489.0 539.0L489.4 537.9L489.7 536.8L490.0 535.8L490.1 534.7L490.2 533.7L490.2 532.8Z" fill="#000000" stroke="#000000" stroke-width="0.5"/><path d="M485.6 529.4L485.0 530.0L484.3 530.6L483.6 531.2L482.8 531.8L482.1 532.5L481.3 533.1L480.5 533.8L479.7 534.5L478.8 535.2L478.0 536.0L477.4 536.6L476.7 537.2L476.1 537.8L475.4 538.4L474.6 539.0L473.9 539.7L473.1 540.3L472.4 541.0L471.6 541.7L470.8 542.4L470.0 543.1L469.2 543.8L468.4 544.4L467.6 545.2L466.8 545.9L466.0 546.6L465.2 547.3L464.4 548.0L463.6 548.6L462.8 549.3L462.1 550.0L461.4 550.7L460.7 551.3L460.0 552.0L459.2 552.8L458.3 553.6L457.5 554.4L456.6 555.2L455.8 556.0L454.9 556.8L454.1 557.6L453.3 558.4L452.5 559.2L451.7 560.0L451.0 560.7L450.3 561.5L449.5 562.3L448.9 563.1L448.2 563.9L447.6 564.6L447.0 565.4L446.5 566.2L446.5 584.3L447.0 583.7L447.6 583.0L448.2 582.4L448.9 581.7L449.5 581.1L450.3 580.4L451.0 579.8L451.7 579.1L452.5 578.5L453.3 577.8L454.1 577.2L454.9 576.5L455.8 575.8L456.6 575.1L457.5 574.3L458.3 573.6L459.2 572.8L460.0 572.0L460.7 571.3L461.4 570.7L462.1 570.0L462.8 569.3L463.6 568.5L464.4 567.8L465.2 567.0L466.0 566.3L466.8 565.5L467.6 564.7L468.4 563.9L469.2 563.1L470.0 562.3L470.8 561.5L471.6 560.8L472.4 560.0L473.1 559.2L473.9 558.4L474.6 557.6L475.4 556.9L476.1 556.1L476.7 555.4L477.4 554.7L478.0 554.0L478.8 553.0L479.7 552.1L480.5 551.1L481.3 550.2L482.1 549.2L482.8 548.3L483.6 547.4L484.3 546.5L485.0 545.6L485.6 544.7Z" fill="#afafaf" stroke="#afafaf" stroke-width="0.5"/><path d="M446.5 566.2L446.0 567.0L445.4 568.1L444.8 569.2L444.2 570.3L443.7 571.4L443.7 588.7L444.2 587.8L444.8 586.9L445.4 585.9L446.0 585.0L446.5 584.3Z" fill="#a5a5a5" stroke="#a5a5a5" stroke-width="0.5"/><path d="M443.7 571.4L443.3 572.5L442.9 573.6L442.5 574.8L442.2 575.9L442.2 592.4L442.5 591.5L442.9 590.6L443.3 589.6L443.7 588.7Z" fill="#9b9b9b" stroke="#9b9b9b" stroke-width="0.5"/><path d="M442.2 575.9L442.0 576.9L441.8 578.0L441.8 594.3L442.0 593.4L442.2 592.4Z" fill="#909090" stroke="#909090" stroke-width="0.5"/><path d="M441.8 578.0L441.8 579.1L441.7 580.1L441.7 596.1L441.8 595.2L441.8 594.3Z" fill="#868686" stroke="#868686" stroke-width="0.5"/><path d="M412.4 494.3L412.4 495.3L412.4 510.8L412.4 509.6ZM412.4 495.3L412.7 496.2L412.7 512.0L412.4 510.8ZM412.7 496.2L413.0 497.0L413.0 513.0L412.7 512.0ZM413.0 497.0L413.4 497.7L413.9 498.3L414.4 499.0L414.4 515.7L413.9 514.8L413.4 513.9L413.0 513.0ZM414.4 499.0L415.1 499.6L415.7 500.3L416.5 500.9L417.3 501.5L417.3 519.3L416.5 518.4L415.7 517.5L415.1 516.6L414.4 515.7ZM417.3 501.5L418.1 502.0L419.0 502.6L419.9 503.1L420.9 503.5L421.9 504.0L422.9 504.4L423.9 504.7L423.9 524.5L422.9 523.9L421.9 523.3L420.9 522.6L419.9 521.8L419.0 521.0L418.1 520.2L417.3 519.3ZM423.9 504.7L425.0 505.0L425.8 505.2L426.7 505.3L427.6 505.4L428.5 505.5L429.5 505.6L430.5 505.6L431.5 505.6L432.6 505.6L433.6 505.6L434.7 505.6L435.8 505.5L436.8 505.5L437.9 505.4L439.0 505.3L440.0 505.3L441.1 505.2L442.1 505.1L443.1 505.1L444.1 505.0L445.0 505.0L446.1 505.0L447.1 504.9L448.2 504.9L449.2 504.8L450.2 504.7L451.2 504.6L452.2 504.6L453.1 504.5L454.1 504.4L455.1 504.3L456.0 504.2L457.0 504.2L458.0 504.1L459.0 504.1L460.0 504.0L461.0 504.0L462.0 504.0L462.0 526.0L461.0 526.1L460.0 526.1L459.0 526.2L458.0 526.3L457.0 526.4L456.0 526.5L455.1 526.6L454.1 526.6L453.1 526.7L452.2 526.8L451.2 526.9L450.2 526.9L449.2 527.0L448.2 527.0L447.1 527.0L446.1 527.0L445.0 527.0L444.1 527.0L443.1 527.0L442.1 527.0L441.1 527.0L440.0 526.9L439.0 526.9L437.9 526.9L436.8 526.9L435.8 526.9L434.7 526.8L433.6 526.7L432.6 526.7L431.5 526.6L430.5 526.4L429.5 526.3L428.5 526.1L427.6 525.9L426.7 525.6L425.8 525.3L425.0 525.0L423.9 524.5ZM462.0 504.0L463.0 504.0L464.0 504.0L465.0 504.0L466.1 504.0L467.2 504.0L468.3 504.0L469.3 504.0L470.4 504.0L471.5 504.0L472.6 504.0L473.6 504.1L474.6 504.1L475.6 504.2L476.6 504.3L477.5 504.5L478.4 504.6L479.2 504.8L480.0 505.0L481.3 505.4L482.5 505.9L483.6 506.5L484.7 507.1L485.6 507.8L486.5 508.5L487.2 509.3L487.9 510.1L488.5 511.0L489.0 512.0L489.4 512.9L489.6 513.8L489.9 514.9L490.1 516.0L490.2 517.1L490.2 518.2L490.2 532.8L490.2 531.8L490.1 530.9L489.9 530.1L489.6 529.3L489.4 528.6L489.0 528.0L488.5 527.4L487.9 526.8L487.2 526.4L486.5 526.0L485.6 525.8L484.7 525.5L483.6 525.4L482.5 525.2L481.3 525.1L480.0 525.0L479.2 525.0L478.4 524.9L477.5 524.9L476.6 525.0L475.6 525.0L474.6 525.0L473.6 525.1L472.6 525.2L471.5 525.2L470.4 525.3L469.3 525.4L468.3 525.5L467.2 525.6L466.1 525.7L465.0 525.8L464.0 525.9L463.0 525.9L462.0 526.0ZM441.7 580.1L441.8 581.1L442.0 582.0L442.0 598.0L441.8 597.1L441.7 596.1ZM442.0 582.0L442.2 582.9L442.6 583.7L442.9 584.6L442.9 600.7L442.6 599.8L442.2 598.9L442.0 598.0ZM442.9 584.6L443.4 585.4L443.9 586.2L444.5 587.0L444.5 603.5L443.9 602.6L443.4 601.6L442.9 600.7ZM444.5 587.0L445.2 587.7L445.9 588.5L446.6 589.2L447.4 589.9L448.3 590.6L448.3 608.0L447.4 607.1L446.6 606.2L445.9 605.3L445.2 604.4L444.5 603.5ZM448.3 590.6L449.1 591.2L450.1 591.9L451.0 592.4L452.0 593.0L452.8 593.4L453.6 593.7L454.5 594.1L454.5 612.4L453.6 612.0L452.8 611.5L452.0 611.0L451.0 610.3L450.1 609.6L449.1 608.8L448.3 608.0ZM454.5 594.1L455.4 594.4L456.4 594.7L457.4 595.0L458.4 595.2L459.4 595.5L460.5 595.7L461.6 595.9L462.6 596.2L463.7 596.4L464.8 596.6L465.9 596.8L467.0 597.0L468.0 597.2L469.1 597.4L470.1 597.6L471.1 597.8L472.0 598.0L473.1 598.3L474.2 598.5L475.4 598.8L476.6 599.1L477.7 599.4L478.9 599.6L480.1 599.9L481.2 600.2L482.3 600.4L483.4 600.7L484.4 600.9L485.3 601.1L486.2 601.4L487.1 601.5L487.8 601.7L488.4 601.9L489.0 602.0L489.0 618.0L488.4 618.0L487.8 618.0L487.1 618.1L486.2 618.1L485.3 618.2L484.4 618.3L483.4 618.3L482.3 618.4L481.2 618.5L480.1 618.5L478.9 618.5L477.7 618.5L476.6 618.5L475.4 618.4L474.2 618.3L473.1 618.2L472.0 618.0L471.1 617.8L470.1 617.6L469.1 617.4L468.0 617.1L467.0 616.9L465.9 616.6L464.8 616.3L463.7 616.0L462.6 615.7L461.6 615.3L460.5 614.9L459.4 614.6L458.4 614.2L457.4 613.8L456.4 613.3L455.4 612.9L454.5 612.4Z" fill="#4a4a4a" stroke="#4a4a4a" stroke-width="2.4" stroke-linejoin="round"/><path d="M412.4 494.3L412.4 495.3L412.4 510.8L412.4 509.6Z" fill="#868686" stroke="#868686" stroke-width="0.5"/><path d="M412.4 495.3L412.7 496.2L412.7 512.0L412.4 510.8Z" fill="#949494" stroke="#949494" stroke-width="0.5"/><path d="M412.7 496.2L413.0 497.0L413.0 513.0L412.7 512.0Z" fill="#a1a1a1" stroke="#a1a1a1" stroke-width="0.5"/><path d="M413.0 497.0L413.4 497.7L413.9 498.3L414.4 499.0L414.4 515.7L413.9 514.8L413.4 513.9L413.0 513.0Z" fill="#afafaf" stroke="#afafaf" stroke-width="0.5"/><path d="M414.4 499.0L415.1 499.6L415.7 500.3L416.5 500.9L417.3 501.5L417.3 519.3L416.5 518.4L415.7 517.5L415.1 516.6L414.4 515.7Z" fill="#bdbdbd" stroke="#bdbdbd" stroke-width="0.5"/><path d="M417.3 501.5L418.1 502.0L419.0 502.6L419.9 503.1L420.9 503.5L421.9 504.0L422.9 504.4L423.9 504.7L423.9 524.5L422.9 523.9L421.9 523.3L420.9 522.6L419.9 521.8L419.0 521.0L418.1 520.2L417.3 519.3Z" fill="#cacaca" stroke="#cacaca" stroke-width="0.5"/><path d="M423.9 504.7L425.0 505.0L425.8 505.2L426.7 505.3L427.6 505.4L428.5 505.5L429.5 505.6L430.5 505.6L431.5 505.6L432.6 505.6L433.6 505.6L434.7 505.6L435.8 505.5L436.8 505.5L437.9 505.4L439.0 505.3L440.0 505.3L441.1 505.2L442.1 505.1L443.1 505.1L444.1 505.0L445.0 505.0L446.1 505.0L447.1 504.9L448.2 504.9L449.2 504.8L450.2 504.7L451.2 504.6L452.2 504.6L453.1 504.5L454.1 504.4L455.1 504.3L456.0 504.2L457.0 504.2L458.0 504.1L459.0 504.1L460.0 504.0L461.0 504.0L462.0 504.0L462.0 526.0L461.0 526.1L460.0 526.1L459.0 526.2L458.0 526.3L457.0 526.4L456.0 526.5L455.1 526.6L454.1 526.6L453.1 526.7L452.2 526.8L451.2 526.9L450.2 526.9L449.2 527.0L448.2 527.0L447.1 527.0L446.1 527.0L445.0 527.0L444.1 527.0L443.1 527.0L442.1 527.0L441.1 527.0L440.0 526.9L439.0 526.9L437.9 526.9L436.8 526.9L435.8 526.9L434.7 526.8L433.6 526.7L432.6 526.7L431.5 526.6L430.5 526.4L429.5 526.3L428.5 526.1L427.6 525.9L426.7 525.6L425.8 525.3L425.0 525.0L423.9 524.5Z" fill="#d8d8d8" stroke="#d8d8d8" stroke-width="0.5"/><path d="M462.0 504.0L463.0 504.0L464.0 504.0L465.0 504.0L466.1 504.0L467.2 504.0L468.3 504.0L469.3 504.0L470.4 504.0L471.5 504.0L472.6 504.0L473.6 504.1L474.6 504.1L475.6 504.2L476.6 504.3L477.5 504.5L478.4 504.6L479.2 504.8L480.0 505.0L481.3 505.4L482.5 505.9L483.6 506.5L484.7 507.1L485.6 507.8L486.5 508.5L487.2 509.3L487.9 510.1L488.5 511.0L489.0 512.0L489.4 512.9L489.6 513.8L489.9 514.9L490.1 516.0L490.2 517.1L490.2 518.2L490.2 532.8L490.2 531.8L490.1 530.9L489.9 530.1L489.6 529.3L489.4 528.6L489.0 528.0L488.5 527.4L487.9 526.8L487.2 526.4L486.5 526.0L485.6 525.8L484.7 525.5L483.6 525.4L482.5 525.2L481.3 525.1L480.0 525.0L479.2 525.0L478.4 524.9L477.5 524.9L476.6 525.0L475.6 525.0L474.6 525.0L473.6 525.1L472.6 525.2L471.5 525.2L470.4 525.3L469.3 525.4L468.3 525.5L467.2 525.6L466.1 525.7L465.0 525.8L464.0 525.9L463.0 525.9L462.0 526.0Z" fill="#000000" stroke="#000000" stroke-width="0.5"/><path d="M441.7 580.1L441.8 581.1L442.0 582.0L442.0 598.0L441.8 597.1L441.7 596.1Z" fill="#949494" stroke="#949494" stroke-width="0.5"/><path d="M442.0 582.0L442.2 582.9L442.6 583.7L442.9 584.6L442.9 600.7L442.6 599.8L442.2 598.9L442.0 598.0Z" fill="#a1a1a1" stroke="#a1a1a1" stroke-width="0.5"/><path d="M442.9 584.6L443.4 585.4L443.9 586.2L444.5 587.0L444.5 603.5L443.9 602.6L443.4 601.6L442.9 600.7Z" fill="#afafaf" stroke="#afafaf" stroke-width="0.5"/><path d="M444.5 587.0L445.2 587.7L445.9 588.5L446.6 589.2L447.4 589.9L448.3 590.6L448.3 608.0L447.4 607.1L446.6 606.2L445.9 605.3L445.2 604.4L444.5 603.5Z" fill="#bdbdbd" stroke="#bdbdbd" stroke-width="0.5"/><path d="M448.3 590.6L449.1 591.2L450.1 591.9L451.0 592.4L452.0 593.0L452.8 593.4L453.6 593.7L454.5 594.1L454.5 612.4L453.6 612.0L452.8 611.5L452.0 611.0L451.0 610.3L450.1 609.6L449.1 608.8L448.3 608.0Z" fill="#cacaca" stroke="#cacaca" stroke-width="0.5"/><path d="M454.5 594.1L455.4 594.4L456.4 594.7L457.4 595.0L458.4 595.2L459.4 595.5L460.5 595.7L461.6 595.9L462.6 596.2L463.7 596.4L464.8 596.6L465.9 596.8L467.0 597.0L468.0 597.2L469.1 597.4L470.1 597.6L471.1 597.8L472.0 598.0L473.1 598.3L474.2 598.5L475.4 598.8L476.6 599.1L477.7 599.4L478.9 599.6L480.1 599.9L481.2 600.2L482.3 600.4L483.4 600.7L484.4 600.9L485.3 601.1L486.2 601.4L487.1 601.5L487.8 601.7L488.4 601.9L489.0 602.0L489.0 618.0L488.4 618.0L487.8 618.0L487.1 618.1L486.2 618.1L485.3 618.2L484.4 618.3L483.4 618.3L482.3 618.4L481.2 618.5L480.1 618.5L478.9 618.5L477.7 618.5L476.6 618.5L475.4 618.4L474.2 618.3L473.1 618.2L472.0 618.0L471.1 617.8L470.1 617.6L469.1 617.4L468.0 617.1L467.0 616.9L465.9 616.6L464.8 616.3L463.7 616.0L462.6 615.7L461.6 615.3L460.5 614.9L459.4 614.6L458.4 614.2L457.4 613.8L456.4 613.3L455.4 612.9L454.5 612.4Z" fill="#d8d8d8" stroke="#d8d8d8" stroke-width="0.5"/><path d="M419.0 507.2L419.9 507.8L420.9 508.3L421.9 508.8L422.9 509.3L423.9 509.7L425.0 510.0L425.8 510.2L426.7 510.4L427.6 510.5L428.5 510.7L429.5 510.8L430.5 510.8L431.5 510.9L432.6 510.9L433.6 510.9L434.7 510.9L435.8 510.9L436.8 510.8L437.9 510.8L439.0 510.7L440.0 510.7L441.1 510.6L442.1 510.6L443.1 510.5L444.1 510.5L445.0 510.5L446.1 510.5L447.1 510.4L448.2 510.4L449.2 510.3L450.2 510.3L451.2 510.2L452.2 510.1L453.1 510.0L454.1 510.0L455.1 509.9L456.0 509.8L457.0 509.7L458.0 509.7L459.0 509.6L460.0 509.6L461.0 509.5L462.0 509.5L462.0 517.2L461.0 517.2L460.0 517.3L459.0 517.4L458.0 517.4L457.0 517.5L456.0 517.6L455.1 517.7L454.1 517.7L453.1 517.8L452.2 517.9L451.2 518.0L450.2 518.0L449.2 518.1L448.2 518.1L447.1 518.2L446.1 518.2L445.0 518.2L444.1 518.2L443.1 518.2L442.1 518.2L441.1 518.2L440.0 518.3L439.0 518.3L437.9 518.3L436.8 518.3L435.8 518.3L434.7 518.3L433.6 518.3L432.6 518.2L431.5 518.2L430.5 518.1L429.5 518.0L428.5 517.9L427.6 517.7L426.7 517.5L425.8 517.3L425.0 517.0L423.9 516.6L422.9 516.1L421.9 515.6L420.9 515.0L419.9 514.3L419.0 513.6Z" fill="#f0f0f0" opacity="0.85"/><path d="M450.1 596.3L451.0 596.9L452.0 597.5L452.8 597.9L453.6 598.3L454.5 598.7L455.4 599.0L456.4 599.4L457.4 599.7L458.4 600.0L459.4 600.3L460.5 600.5L461.6 600.8L462.6 601.0L463.7 601.3L464.8 601.5L465.9 601.7L467.0 601.9L468.0 602.2L469.1 602.4L470.1 602.6L471.1 602.8L472.0 603.0L473.1 603.2L474.2 603.5L475.4 603.7L476.6 603.9L477.7 604.2L478.9 604.4L480.1 604.6L481.2 604.8L482.3 604.9L483.4 605.1L484.4 605.3L485.3 605.4L486.2 605.6L487.1 605.7L487.8 605.8L488.4 605.9L489.0 606.0L489.0 611.6L488.4 611.6L487.8 611.5L487.1 611.5L486.2 611.4L485.3 611.4L484.4 611.3L483.4 611.3L482.3 611.2L481.2 611.2L480.1 611.1L478.9 611.0L477.7 610.9L476.6 610.7L475.4 610.6L474.2 610.4L473.1 610.2L472.0 610.0L471.1 609.8L470.1 609.6L469.1 609.4L468.0 609.2L467.0 608.9L465.9 608.7L464.8 608.4L463.7 608.1L462.6 607.9L461.6 607.6L460.5 607.3L459.4 606.9L458.4 606.6L457.4 606.2L456.4 605.9L455.4 605.5L454.5 605.1L453.6 604.7L452.8 604.3L452.0 603.8L451.0 603.2L450.1 602.5Z" fill="#f0f0f0" opacity="0.85"/>
<path d="M474.0 545.0C475.5 547.5 481.2 554.2 483.0 560.0C484.8 565.8 484.7 576.7 485.0 580.0" fill="none" stroke="#5a5a5a" stroke-width="6.3" stroke-linecap="round" stroke-linejoin="round"/><path d="M474.0 545.0C475.5 547.5 481.2 554.2 483.0 560.0C484.8 565.8 484.7 576.7 485.0 580.0" fill="none" stroke="#bcbcbc" stroke-width="4.5" stroke-linecap="round" stroke-linejoin="round"/>
<path d="M466.0 578.0C468.7 573.8 482.3 574.3 486.0 578.0C489.7 581.7 490.7 595.8 488.0 600.0C485.3 604.2 473.7 606.7 470.0 603.0C466.3 599.3 463.3 582.2 466.0 578.0Z" fill="#a8a8a8" stroke="#5a5a5a" stroke-width="1.2"/>
<path d="M418.0 648.0C419.2 651.3 424.7 661.3 425.0 668.0C425.3 674.7 420.8 684.7 420.0 688.0" fill="none" stroke="#5a5a5a" stroke-width="12.8" stroke-linecap="round" stroke-linejoin="round"/><path d="M418.0 648.0C419.2 651.3 424.7 661.3 425.0 668.0C425.3 674.7 420.8 684.7 420.0 688.0" fill="none" stroke="#bcbcbc" stroke-width="11" stroke-linecap="round" stroke-linejoin="round"/>
<path d="M400.0 628.0C401.8 623.8 409.7 620.0 415.0 620.0C420.3 620.0 425.3 624.7 432.0 628.0C438.7 631.3 447.3 637.2 455.0 640.0C462.7 642.8 474.3 642.5 478.0 645.0C481.7 647.5 480.8 652.5 477.0 655.0C473.2 657.5 462.8 659.8 455.0 660.0C447.2 660.2 438.5 658.5 430.0 656.0C421.5 653.5 409.0 649.7 404.0 645.0C399.0 640.3 398.2 632.2 400.0 628.0Z" fill="#b0b0b0" stroke="#5a5a5a" stroke-width="1.2"/>
<path d="M416.0 689.0C413.3 690.0 408.3 692.0 400.0 695.0C391.7 698.0 371.7 705.0 366.0 707.0" fill="none" stroke="#5a5a5a" stroke-width="6.3" stroke-linecap="round" stroke-linejoin="round"/><path d="M416.0 689.0C413.3 690.0 408.3 692.0 400.0 695.0C391.7 698.0 371.7 705.0 366.0 707.0" fill="none" stroke="#bcbcbc" stroke-width="4.5" stroke-linecap="round" stroke-linejoin="round"/>
<path d="M478.0 622.0C478.8 618.7 492.2 613.0 500.0 608.0C507.8 603.0 517.5 595.3 525.0 592.0C532.5 588.7 540.8 585.8 545.0 588.0C549.2 590.2 550.0 599.3 550.0 605.0C550.0 610.7 550.0 618.5 545.0 622.0C540.0 625.5 528.3 625.0 520.0 626.0C511.7 627.0 502.0 628.7 495.0 628.0C488.0 627.3 477.2 625.3 478.0 622.0Z" fill="#b8b8b8" stroke="#5a5a5a" stroke-width="1.2"/>
<path d="M480.0 612.0C481.3 615.8 486.0 627.0 488.0 635.0C490.0 643.0 491.3 655.8 492.0 660.0" fill="none" stroke="#5a5a5a" stroke-width="13.8" stroke-linecap="round" stroke-linejoin="round"/><path d="M480.0 612.0C481.3 615.8 486.0 627.0 488.0 635.0C490.0 643.0 491.3 655.8 492.0 660.0" fill="none" stroke="#bcbcbc" stroke-width="12" stroke-linecap="round" stroke-linejoin="round"/>
<path d="M483.0 630.0L490.0 645.0" fill="none" stroke="#000" stroke-width="12" stroke-linecap="round" stroke-linejoin="round"/>
<path d="M500.0 660.0C504.2 658.3 517.0 660.7 525.0 662.0C533.0 663.3 544.7 664.7 548.0 668.0C551.3 671.3 549.7 680.0 545.0 682.0C540.3 684.0 527.5 681.7 520.0 680.0C512.5 678.3 503.3 675.3 500.0 672.0C496.7 668.7 495.8 661.7 500.0 660.0Z" fill="#b0b0b0" stroke="#5a5a5a" stroke-width="1.2"/>
<path d="M486.0 720.0C485.7 715.0 483.8 699.0 484.0 690.0C484.2 681.0 486.5 670.0 487.0 666.0" fill="none" stroke="#000" stroke-width="12.5" stroke-linecap="round" stroke-linejoin="round"/>
<path d="M487.0 668.0C488.8 665.3 491.7 655.7 498.0 652.0C504.3 648.3 517.5 645.7 525.0 646.0C532.5 646.3 539.3 649.0 543.0 654.0C546.7 659.0 546.3 672.3 547.0 676.0" fill="none" stroke="#000" stroke-width="17" stroke-linecap="round" stroke-linejoin="round"/>
<path d="M363.7 730.0L366.0 745.0" fill="none" stroke="#5a5a5a" stroke-width="6.8" stroke-linecap="round" stroke-linejoin="round"/><path d="M363.7 730.0L366.0 745.0" fill="none" stroke="#bcbcbc" stroke-width="5" stroke-linecap="round" stroke-linejoin="round"/>
<path d="M366.0 745.0C366.8 748.5 366.7 760.2 370.5 766.0C374.3 771.8 383.8 776.9 388.7 779.5C393.6 782.1 398.1 781.3 400.0 781.7" fill="none" stroke="#000" stroke-width="5" stroke-linecap="round" stroke-linejoin="round"/>
<path d="M400.0 781.7C404.2 780.6 418.9 778.8 425.0 775.0C431.1 771.2 434.1 765.8 436.3 759.0C438.6 752.2 436.6 740.4 438.5 734.0C440.4 727.6 443.1 723.3 447.6 720.5C452.1 717.7 462.7 717.6 465.7 717.0" fill="none" stroke="#5a5a5a" stroke-width="6.8" stroke-linecap="round" stroke-linejoin="round"/><path d="M400.0 781.7C404.2 780.6 418.9 778.8 425.0 775.0C431.1 771.2 434.1 765.8 436.3 759.0C438.6 752.2 436.6 740.4 438.5 734.0C440.4 727.6 443.1 723.3 447.6 720.5C452.1 717.7 462.7 717.6 465.7 717.0" fill="none" stroke="#bcbcbc" stroke-width="5" stroke-linecap="round" stroke-linejoin="round"/>
<path d="M465.7 717.0C468.0 716.8 475.5 716.5 479.3 716.0C483.1 715.5 486.9 714.1 488.4 713.7" fill="none" stroke="#000" stroke-width="5" stroke-linecap="round" stroke-linejoin="round"/>
<text x="252.5" y="177.3" font-family="Liberation Serif" font-size="35">&#945;</text><text x="273.5" y="177.3" font-family="Liberation Sans" font-size="34">6</text>
<text x="507.1" y="100.3" font-family="Liberation Serif" font-size="35">&#945;</text><text x="528.1" y="100.3" font-family="Liberation Sans" font-size="34">4</text>
<text x="487.7" y="218" font-family="Liberation Serif" font-size="35">&#946;</text><text x="508.7" y="218" font-family="Liberation Sans" font-size="34">1</text>
<text x="603.7" y="278.5" font-family="Liberation Serif" font-size="35">&#946;</text><text x="624.7" y="278.5" font-family="Liberation Sans" font-size="34">2</text>
<text x="158.2" y="506" font-family="Liberation Serif" font-size="35">&#945;</text><text x="179.2" y="506" font-family="Liberation Sans" font-size="34">1</text>
<text x="213.0" y="673" font-family="Liberation Serif" font-size="35">&#945;</text><text x="234.0" y="673" font-family="Liberation Sans" font-size="34">3</text>
<text x="424.5" y="707" font-family="Liberation Serif" font-size="35">&#945;</text><text x="445.5" y="707" font-family="Liberation Sans" font-size="34">2</text>
<text x="297.5" y="772.6" font-family="Liberation Serif" font-size="35">&#945;</text><text x="318.5" y="772.6" font-family="Liberation Sans" font-size="34">5</text>
<text x="306.5" y="23.5" font-family="Liberation Sans" font-weight="bold" font-size="29" fill="#808080">C</text>
<text x="64.5" y="408" font-family="Liberation Sans" font-weight="bold" font-size="29" fill="#808080">N</text>
<text x="755.5" y="36" font-family="Liberation Sans" font-weight="bold" font-size="48">b</text>
<text font-family="Liberation Sans" font-weight="bold" fill="#f00"><tspan x="1013.8" y="16.4" font-size="20">15</tspan><tspan x="1036.4" y="28.3" font-size="36">N-</tspan></text><text x="1075.0" y="28.3" font-family="Liberation Serif" font-size="36" fill="#f00">&#955;</text><text x="1094.0" y="28.3" font-family="Liberation Sans" font-weight="bold" font-size="36" fill="#f00">Q</text>
<text x="1132.6" y="28.3" font-family="Liberation Sans" font-weight="bold" font-size="36">vs</text>
<text font-family="Liberation Sans" font-weight="bold" fill="#000"><tspan x="1184.3" y="16.4" font-size="20">15</tspan><tspan x="1206.9" y="28.3" font-size="36">N-</tspan></text><text x="1245.5" y="28.3" font-family="Liberation Serif" font-size="36" fill="#000">&#955;</text><text x="1264.5" y="28.3" font-family="Liberation Sans" font-weight="bold" font-size="36" fill="#000">Q</text>
<text x="1295" y="15.9" font-family="Liberation Serif" font-size="19">&#916;</text>
<text x="1307.5" y="15.9" font-family="Liberation Sans" font-weight="bold" font-size="20">36</text>
<g fill="#f00"><ellipse cx="1224.8" cy="71.3" rx="4.4" ry="3.2"/><ellipse cx="1173.2" cy="90.0" rx="5.1" ry="4.8"/><ellipse cx="1201.7" cy="106.7" rx="5.9" ry="4.8"/><ellipse cx="1228.7" cy="103.7" rx="5.0" ry="5.0"/><ellipse cx="1222.8" cy="104.2" rx="5.7" ry="5.1"/><ellipse cx="1230.8" cy="144.7" rx="5.4" ry="5.0"/><ellipse cx="1236.7" cy="137.0" rx="1.3" ry="1.3"/><ellipse cx="1148.7" cy="177.7" rx="5.5" ry="4.8"/><ellipse cx="1168.7" cy="175.3" rx="3.5" ry="3.2"/><ellipse cx="1200.8" cy="181.5" rx="4.8" ry="4.4"/><ellipse cx="1213.3" cy="179.0" rx="5.1" ry="5.1"/><ellipse cx="1197.5" cy="197.0" rx="6.2" ry="5.0"/><ellipse cx="1236.3" cy="199.5" rx="5.9" ry="4.0"/><ellipse cx="1256.3" cy="59.9" rx="5.7" ry="4.5"/><ellipse cx="1476.3" cy="53.2" rx="2.2" ry="1.6"/><ellipse cx="1253.0" cy="150.5" rx="6.0" ry="4.8"/><ellipse cx="1317.5" cy="174.0" rx="5.7" ry="4.5"/><ellipse cx="1347.5" cy="175.5" rx="3.0" ry="3.0" fill="none" stroke="#f00" stroke-width="1.4"/><ellipse cx="1365.0" cy="165.3" rx="4.0" ry="4.5"/><ellipse cx="1368.0" cy="165.3" rx="4.8" ry="5.2"/><ellipse cx="1384.8" cy="175.5" rx="3.0" ry="3.0"/><ellipse cx="1379.8" cy="168.7" rx="4.8" ry="6.5"/><ellipse cx="1386.5" cy="186.5" rx="7.0" ry="5.5"/><ellipse cx="1289.5" cy="206.4" rx="5.2" ry="4.5"/><ellipse cx="1317.0" cy="221.5" rx="5.7" ry="4.8"/><ellipse cx="1339.0" cy="224.6" rx="3.5" ry="3.5"/><ellipse cx="1335.7" cy="228.0" rx="5.7" ry="5.7"/><ellipse cx="1370.1" cy="211.7" rx="5.7" ry="4.8"/><ellipse cx="1476.6" cy="215.1" rx="2.8" ry="2.8"/><ellipse cx="1440.0" cy="224.0" rx="3.0" ry="3.0"/><ellipse cx="1339.0" cy="254.5" rx="2.5" ry="2.5"/><ellipse cx="1256.0" cy="282.3" rx="4.8" ry="3.6"/><ellipse cx="1308.0" cy="286.5" rx="4.0" ry="4.0"/><ellipse cx="1279.9" cy="304.5" rx="3.6" ry="3.4"/><ellipse cx="1309.3" cy="301.6" rx="5.7" ry="4.8"/><ellipse cx="1336.4" cy="295.1" rx="5.7" ry="4.5"/><ellipse cx="1350.1" cy="303.3" rx="5.2" ry="4.5"/><ellipse cx="1256.1" cy="313.1" rx="5.7" ry="4.0"/><ellipse cx="1338.1" cy="313.8" rx="5.7" ry="4.5"/><ellipse cx="1312.0" cy="325.6" rx="5.7" ry="4.5"/><ellipse cx="1290.9" cy="344.8" rx="6.0" ry="5.2"/><ellipse cx="1327.3" cy="348.5" rx="4.0" ry="4.0"/><ellipse cx="1261.6" cy="354.4" rx="3.0" ry="2.6" fill="none" stroke="#f00" stroke-width="1.4"/><ellipse cx="1261.4" cy="361.5" rx="4.8" ry="3.2"/><ellipse cx="1301.0" cy="364.2" rx="5.2" ry="4.5"/><ellipse cx="1251.0" cy="377.0" rx="6.0" ry="5.2"/><ellipse cx="1421.2" cy="364.6" rx="4.5" ry="3.8"/><ellipse cx="1416.9" cy="249.0" rx="3.2" ry="4.0"/><ellipse cx="1407.0" cy="264.7" rx="2.0" ry="3.0"/><ellipse cx="1417.9" cy="280.3" rx="3.6" ry="2.8"/><ellipse cx="1408.4" cy="299.4" rx="3.0" ry="2.8"/><ellipse cx="1360.1" cy="381.5" rx="5.2" ry="4.0"/><ellipse cx="1389.1" cy="381.7" rx="5.2" ry="3.6"/><ellipse cx="1407.7" cy="404.9" rx="4.8" ry="4.0"/><ellipse cx="1306.1" cy="390.0" rx="5.7" ry="4.5"/><ellipse cx="1321.7" cy="388.0" rx="5.2" ry="4.0"/><ellipse cx="1258.0" cy="391.0" rx="6.6" ry="5.2"/><ellipse cx="1268.0" cy="388.0" rx="6.6" ry="5.7"/><ellipse cx="1275.0" cy="385.0" rx="5.7" ry="5.2"/><ellipse cx="1284.1" cy="388.3" rx="4.8" ry="4.0"/><ellipse cx="1262.9" cy="404.4" rx="4.0" ry="4.0"/><ellipse cx="1253.6" cy="417.1" rx="3.0" ry="3.0" fill="none" stroke="#f00" stroke-width="1.4"/><ellipse cx="1271.4" cy="416.3" rx="5.0" ry="4.0"/><ellipse cx="1242.1" cy="266.4" rx="5.5" ry="5.0"/><ellipse cx="1236.2" cy="276.6" rx="3.0" ry="2.6" fill="none" stroke="#f00" stroke-width="1.4"/><ellipse cx="1189.6" cy="294.3" rx="6.0" ry="4.8"/><ellipse cx="1216.7" cy="313.5" rx="6.0" ry="5.0"/><ellipse cx="1214.7" cy="328.2" rx="5.7" ry="4.5"/><ellipse cx="1233.3" cy="332.4" rx="6.0" ry="5.0"/><ellipse cx="1180.0" cy="338.8" rx="6.0" ry="4.8"/><ellipse cx="1157.2" cy="342.4" rx="5.7" ry="3.6"/><ellipse cx="1216.7" cy="347.7" rx="5.5" ry="4.7"/><ellipse cx="1232.3" cy="345.1" rx="5.0" ry="5.0"/><ellipse cx="1220.1" cy="360.4" rx="5.0" ry="5.0"/><ellipse cx="1212.5" cy="363.8" rx="3.0" ry="3.0" fill="none" stroke="#f00" stroke-width="1.4"/><ellipse cx="1240.1" cy="364.6" rx="5.0" ry="6.0"/><ellipse cx="1118.5" cy="381.2" rx="5.7" ry="4.5"/><ellipse cx="1142.2" cy="380.7" rx="5.2" ry="4.5"/><ellipse cx="1136.0" cy="396.1" rx="4.5" ry="4.0"/><ellipse cx="1120.6" cy="405.2" rx="4.5" ry="4.5"/><ellipse cx="1168.5" cy="406.1" rx="4.8" ry="4.5"/><ellipse cx="1211.3" cy="384.9" rx="6.0" ry="4.7"/><ellipse cx="1226.9" cy="403.6" rx="6.0" ry="5.0"/><ellipse cx="1233.5" cy="404.4" rx="4.0" ry="4.0"/><ellipse cx="1219.3" cy="413.7" rx="5.0" ry="4.7"/><ellipse cx="1193.9" cy="425.0" rx="5.7" ry="4.0"/><ellipse cx="1225.2" cy="423.0" rx="5.0" ry="5.0"/><ellipse cx="1096.9" cy="429.5" rx="5.2" ry="3.6"/><ellipse cx="1118.2" cy="442.8" rx="5.2" ry="4.5"/><ellipse cx="1120.2" cy="459.8" rx="5.2" ry="4.5"/><ellipse cx="1161.5" cy="461.8" rx="5.7" ry="4.5"/><ellipse cx="1175.2" cy="465.7" rx="5.2" ry="4.8"/><ellipse cx="1186.2" cy="441.2" rx="4.8" ry="5.2"/><ellipse cx="1209.1" cy="444.6" rx="5.5" ry="5.0"/><ellipse cx="1230.1" cy="453.5" rx="5.7" ry="4.8"/><ellipse cx="1247.0" cy="439.6" rx="5.7" ry="8.8"/><ellipse cx="1199.4" cy="466.2" rx="5.7" ry="4.5"/><ellipse cx="1240.4" cy="467.4" rx="5.0" ry="4.0"/><ellipse cx="1232.8" cy="481.0" rx="6.8" ry="7.6"/><ellipse cx="1211.6" cy="479.3" rx="5.0" ry="9.3"/><ellipse cx="1221.0" cy="489.4" rx="3.4" ry="3.4" fill="none" stroke="#f00" stroke-width="1.4"/><ellipse cx="1151.5" cy="502.4" rx="8.1" ry="4.8"/><ellipse cx="1161.7" cy="495.3" rx="2.0" ry="2.0" fill="none" stroke="#f00" stroke-width="1.4"/><ellipse cx="1169.9" cy="500.7" rx="7.2" ry="4.8"/><ellipse cx="1204.9" cy="502.4" rx="10.4" ry="6.5"/><ellipse cx="1177.8" cy="507.2" rx="3.0" ry="3.0" fill="none" stroke="#f00" stroke-width="1.4"/><ellipse cx="1207.4" cy="511.4" rx="6.8" ry="5.0"/><ellipse cx="1216.7" cy="511.4" rx="6.0" ry="5.0"/><ellipse cx="1242.1" cy="502.3" rx="8.1" ry="7.2"/><ellipse cx="1248.9" cy="515.6" rx="5.7" ry="4.8"/><ellipse cx="1204.9" cy="530.9" rx="5.0" ry="5.0"/><ellipse cx="1196.4" cy="536.0" rx="5.5" ry="5.0"/><ellipse cx="1233.4" cy="528.7" rx="10.4" ry="6.5"/><ellipse cx="1157.5" cy="528.5" rx="5.2" ry="4.5"/><ellipse cx="1155.8" cy="538.8" rx="5.2" ry="4.0"/><ellipse cx="1044.0" cy="535.4" rx="2.8" ry="2.8"/><ellipse cx="1225.2" cy="547.0" rx="4.7" ry="5.5"/><ellipse cx="1237.0" cy="555.5" rx="2.5" ry="2.5" fill="none" stroke="#f00" stroke-width="1.4"/><ellipse cx="1164.1" cy="561.3" rx="6.0" ry="4.5"/><ellipse cx="1087.5" cy="563.3" rx="5.2" ry="4.5"/><ellipse cx="1225.2" cy="567.3" rx="6.0" ry="5.0"/><ellipse cx="1233.7" cy="569.0" rx="5.0" ry="5.0"/><ellipse cx="1250.6" cy="559.7" rx="5.0" ry="5.0"/><ellipse cx="1171.9" cy="581.7" rx="5.7" ry="4.8"/><ellipse cx="1212.5" cy="597.8" rx="5.5" ry="5.5"/><ellipse cx="1101.6" cy="603.2" rx="3.4" ry="3.2"/><ellipse cx="1181.2" cy="618.6" rx="3.0" ry="3.0" fill="none" stroke="#f00" stroke-width="1.4"/><ellipse cx="1279.9" cy="429.5" rx="8.1" ry="4.8"/><ellipse cx="1254.5" cy="434.5" rx="8.1" ry="5.7"/><ellipse cx="1268.0" cy="433.7" rx="5.7" ry="4.8"/><ellipse cx="1271.4" cy="444.9" rx="8.8" ry="4.5"/><ellipse cx="1277.3" cy="453.8" rx="6.5" ry="5.7"/><ellipse cx="1309.5" cy="444.9" rx="6.5" ry="4.8"/><ellipse cx="1323.0" cy="442.0" rx="5.7" ry="4.5"/><ellipse cx="1339.1" cy="445.9" rx="5.2" ry="4.5"/><ellipse cx="1427.5" cy="452.1" rx="4.8" ry="3.6"/><ellipse cx="1252.8" cy="459.0" rx="5.0" ry="5.0"/><ellipse cx="1256.2" cy="472.8" rx="8.1" ry="4.8"/><ellipse cx="1269.7" cy="477.9" rx="5.7" ry="4.5"/><ellipse cx="1259.5" cy="480.4" rx="4.8" ry="3.8"/><ellipse cx="1289.9" cy="476.2" rx="7.2" ry="5.7"/><ellipse cx="1291.7" cy="485.2" rx="5.0" ry="4.0"/><ellipse cx="1256.2" cy="489.4" rx="5.2" ry="4.0"/><ellipse cx="1330.7" cy="472.5" rx="4.8" ry="3.6"/><ellipse cx="1343.4" cy="479.3" rx="5.0" ry="4.0"/><ellipse cx="1367.1" cy="482.3" rx="5.2" ry="4.5"/><ellipse cx="1254.5" cy="502.1" rx="5.0" ry="5.0"/><ellipse cx="1283.6" cy="500.6" rx="8.1" ry="5.7"/><ellipse cx="1308.6" cy="502.4" rx="8.1" ry="4.8"/><ellipse cx="1323.9" cy="502.3" rx="5.2" ry="4.0"/><ellipse cx="1249.4" cy="517.0" rx="5.2" ry="5.2"/><ellipse cx="1267.7" cy="544.0" rx="6.0" ry="5.7"/><ellipse cx="1320.5" cy="534.0" rx="4.8" ry="4.0"/><ellipse cx="1251.9" cy="559.7" rx="5.0" ry="5.0"/><ellipse cx="1181.4" cy="619.0" rx="3.0" ry="3.0"/><ellipse cx="1210.0" cy="623.0" rx="6.5" ry="5.5"/><ellipse cx="1210.0" cy="630.0" rx="1.5" ry="1.5"/><ellipse cx="1232.0" cy="635.6" rx="5.5" ry="5.5"/><ellipse cx="1273.5" cy="630.1" rx="5.2" ry="3.8"/><ellipse cx="1085.0" cy="651.5" rx="5.7" ry="4.3"/><ellipse cx="1234.0" cy="658.6" rx="3.1" ry="2.8"/><ellipse cx="1077.0" cy="671.4" rx="4.8" ry="3.8"/><ellipse cx="1154.0" cy="694.5" rx="5.2" ry="4.8"/><ellipse cx="1266.0" cy="694.0" rx="4.0" ry="5.0"/><ellipse cx="1261.0" cy="710.0" rx="4.8" ry="3.8"/><ellipse cx="1132.0" cy="717.6" rx="5.7" ry="4.3"/><ellipse cx="1176.0" cy="715.5" rx="4.8" ry="4.8"/><ellipse cx="990.4" cy="303.1" rx="4.8" ry="2.8"/><ellipse cx="1255.5" cy="271.5" rx="5.0" ry="4.5"/></g>
<path d="M885 673.5 Q906 668 928 673.5 Q906 680 885 673.5Z" fill="#f00"/><ellipse cx="907" cy="677.5" rx="2.5" ry="5" fill="#f00"/>
<g fill="#000"><ellipse cx="1225.8" cy="68.3" rx="4.6" ry="3.4"/><ellipse cx="1174.2" cy="87.5" rx="5.4" ry="5.0"/><ellipse cx="1201.7" cy="104.7" rx="6.2" ry="5.0"/><ellipse cx="1222.8" cy="103.7" rx="6.0" ry="5.4"/><ellipse cx="1091.3" cy="144.3" rx="1.6" ry="1.6" fill="none" stroke="#000" stroke-width="1.4"/><ellipse cx="1148.7" cy="174.7" rx="5.8" ry="5.0"/><ellipse cx="1169.2" cy="173.3" rx="3.7" ry="3.4"/><ellipse cx="1201.7" cy="174.2" rx="3.0" ry="2.6"/><ellipse cx="1200.8" cy="180.5" rx="5.0" ry="4.6"/><ellipse cx="1213.3" cy="178.0" rx="5.4" ry="5.4"/><ellipse cx="1238.3" cy="197.5" rx="6.2" ry="4.2"/><ellipse cx="1255.3" cy="56.9" rx="6.0" ry="4.7"/><ellipse cx="1252.0" cy="148.0" rx="6.3" ry="5.0"/><ellipse cx="1318.5" cy="172.0" rx="6.0" ry="4.7"/><ellipse cx="1348.4" cy="173.8" rx="3.0" ry="3.3" fill="none" stroke="#000" stroke-width="1.4"/><ellipse cx="1353.5" cy="187.0" rx="2.1" ry="4.2"/><ellipse cx="1368.0" cy="165.3" rx="5.0" ry="5.5"/><ellipse cx="1379.8" cy="168.7" rx="5.0" ry="6.8"/><ellipse cx="1387.4" cy="184.0" rx="7.5" ry="5.5"/><ellipse cx="1393.3" cy="181.4" rx="3.5" ry="3.5"/><ellipse cx="1447.5" cy="186.0" rx="2.0" ry="3.8"/><ellipse cx="1476.6" cy="180.2" rx="2.2" ry="4.7"/><ellipse cx="1290.0" cy="203.4" rx="5.5" ry="4.7"/><ellipse cx="1322.5" cy="207.3" rx="2.4" ry="3.4"/><ellipse cx="1317.0" cy="219.0" rx="6.0" ry="5.0"/><ellipse cx="1332.4" cy="216.4" rx="1.5" ry="1.2"/><ellipse cx="1335.7" cy="228.0" rx="6.0" ry="6.0"/><ellipse cx="1353.5" cy="215.8" rx="2.0" ry="2.0"/><ellipse cx="1372.1" cy="212.7" rx="6.0" ry="5.0"/><ellipse cx="1394.2" cy="211.9" rx="2.5" ry="9.0"/><ellipse cx="1396.0" cy="212.0" rx="7.0" ry="2.5"/><ellipse cx="1427.2" cy="206.8" rx="2.5" ry="6.0"/><ellipse cx="1437.3" cy="209.3" rx="2.5" ry="5.0"/><ellipse cx="1456.0" cy="213.0" rx="2.5" ry="2.0" fill="none" stroke="#000" stroke-width="1.4"/><ellipse cx="1447.5" cy="218.6" rx="3.4" ry="2.1"/><ellipse cx="1446.6" cy="227.6" rx="1.7" ry="3.0" fill="none" stroke="#000" stroke-width="1.4"/><ellipse cx="1476.6" cy="213.6" rx="3.0" ry="3.0"/><ellipse cx="1476.6" cy="208.5" rx="1.5" ry="1.5"/><ellipse cx="1435.6" cy="228.0" rx="4.0" ry="10.0"/><ellipse cx="1427.5" cy="234.4" rx="1.5" ry="1.5" fill="none" stroke="#000" stroke-width="1.4"/><ellipse cx="1348.4" cy="240.2" rx="2.0" ry="3.5" fill="none" stroke="#000" stroke-width="1.4"/><ellipse cx="1367.0" cy="240.2" rx="2.5" ry="2.5"/><ellipse cx="1314.6" cy="246.0" rx="2.0" ry="3.4"/><ellipse cx="1321.0" cy="249.5" rx="2.6" ry="9.3"/><ellipse cx="1310.3" cy="256.8" rx="2.5" ry="2.5"/><ellipse cx="1317.0" cy="259.6" rx="5.0" ry="3.4"/><ellipse cx="1331.5" cy="256.2" rx="2.5" ry="2.5"/><ellipse cx="1339.0" cy="260.5" rx="6.0" ry="5.0"/><ellipse cx="1347.6" cy="269.3" rx="2.0" ry="2.0"/><ellipse cx="1290.9" cy="265.6" rx="2.0" ry="3.4"/><ellipse cx="1320.5" cy="272.3" rx="1.5" ry="1.5"/><ellipse cx="1325.6" cy="269.8" rx="1.5" ry="1.2"/><ellipse cx="1321.3" cy="280.0" rx="1.8" ry="1.8"/><ellipse cx="1300.2" cy="279.4" rx="1.5" ry="1.5"/><ellipse cx="1257.0" cy="280.8" rx="5.0" ry="3.8"/><ellipse cx="1311.2" cy="285.0" rx="5.0" ry="4.2"/><ellipse cx="1290.9" cy="296.9" rx="1.0" ry="1.0"/><ellipse cx="1310.3" cy="298.6" rx="6.0" ry="5.0"/><ellipse cx="1337.4" cy="292.6" rx="6.0" ry="4.7"/><ellipse cx="1350.1" cy="300.3" rx="5.5" ry="4.7"/><ellipse cx="1254.1" cy="312.1" rx="6.0" ry="4.2"/><ellipse cx="1339.1" cy="311.3" rx="6.0" ry="4.7"/><ellipse cx="1312.0" cy="323.1" rx="6.0" ry="4.7"/><ellipse cx="1290.9" cy="341.8" rx="6.3" ry="5.5"/><ellipse cx="1328.6" cy="341.8" rx="5.5" ry="4.7"/><ellipse cx="1333.2" cy="351.9" rx="5.0" ry="3.8"/><ellipse cx="1260.4" cy="359.5" rx="5.0" ry="3.4"/><ellipse cx="1301.0" cy="361.2" rx="5.5" ry="4.7"/><ellipse cx="1251.0" cy="374.0" rx="6.3" ry="5.5"/><ellipse cx="1425.5" cy="358.7" rx="6.0" ry="4.7"/><ellipse cx="1417.0" cy="238.5" rx="2.0" ry="2.0"/><ellipse cx="1427.2" cy="234.2" rx="1.5" ry="1.5" fill="none" stroke="#000" stroke-width="1.4"/><ellipse cx="1437.3" cy="242.7" rx="3.0" ry="3.0"/><ellipse cx="1417.9" cy="247.0" rx="3.4" ry="4.2"/><ellipse cx="1428.0" cy="248.6" rx="3.4" ry="9.3"/><ellipse cx="1414.5" cy="254.5" rx="4.0" ry="1.8"/><ellipse cx="1417.0" cy="260.5" rx="5.0" ry="5.0"/><ellipse cx="1434.8" cy="254.5" rx="3.0" ry="3.0"/><ellipse cx="1439.0" cy="261.3" rx="4.2" ry="6.0"/><ellipse cx="1447.5" cy="257.0" rx="3.0" ry="3.0"/><ellipse cx="1447.5" cy="261.3" rx="3.4" ry="3.4"/><ellipse cx="1409.4" cy="264.7" rx="2.5" ry="5.0"/><ellipse cx="1413.6" cy="271.5" rx="2.5" ry="2.0"/><ellipse cx="1428.0" cy="269.8" rx="1.8" ry="1.8"/><ellipse cx="1434.0" cy="270.6" rx="3.4" ry="4.2"/><ellipse cx="1417.9" cy="278.3" rx="3.8" ry="3.0"/><ellipse cx="1407.7" cy="282.5" rx="3.0" ry="3.8"/><ellipse cx="1428.5" cy="284.2" rx="3.8" ry="6.3"/><ellipse cx="1398.4" cy="277.7" rx="1.8" ry="1.5"/><ellipse cx="1402.6" cy="293.5" rx="3.0" ry="3.0" fill="none" stroke="#000" stroke-width="1.4"/><ellipse cx="1389.6" cy="296.9" rx="2.0" ry="2.0" fill="none" stroke="#000" stroke-width="1.4"/><ellipse cx="1409.4" cy="297.4" rx="3.2" ry="3.0"/><ellipse cx="1358.6" cy="381.5" rx="5.5" ry="4.2"/><ellipse cx="1389.1" cy="383.2" rx="5.5" ry="3.8"/><ellipse cx="1355.2" cy="404.0" rx="5.0" ry="3.8"/><ellipse cx="1407.7" cy="402.4" rx="5.0" ry="4.2"/><ellipse cx="1306.1" cy="387.5" rx="6.0" ry="4.7"/><ellipse cx="1319.7" cy="385.0" rx="5.5" ry="4.2"/><ellipse cx="1258.0" cy="389.0" rx="7.0" ry="5.5"/><ellipse cx="1268.0" cy="386.0" rx="7.0" ry="6.0"/><ellipse cx="1275.0" cy="383.0" rx="6.0" ry="5.5"/><ellipse cx="1284.1" cy="385.8" rx="5.0" ry="4.2"/><ellipse cx="1249.4" cy="390.9" rx="5.0" ry="5.0"/><ellipse cx="1257.9" cy="402.7" rx="6.8" ry="6.8"/><ellipse cx="1279.0" cy="412.8" rx="8.5" ry="5.0"/><ellipse cx="1290.0" cy="419.6" rx="6.8" ry="4.2"/><ellipse cx="1281.6" cy="426.4" rx="6.0" ry="5.0"/><ellipse cx="1257.0" cy="428.0" rx="6.0" ry="5.0"/><ellipse cx="1247.2" cy="268.1" rx="6.8" ry="3.4"/><ellipse cx="1189.6" cy="291.8" rx="6.3" ry="5.0"/><ellipse cx="1214.7" cy="325.7" rx="6.0" ry="4.7"/><ellipse cx="1180.0" cy="335.8" rx="6.3" ry="5.0"/><ellipse cx="1159.2" cy="340.4" rx="6.0" ry="3.8"/><ellipse cx="1225.2" cy="344.3" rx="4.7" ry="3.8"/><ellipse cx="1224.4" cy="352.8" rx="5.5" ry="4.7"/><ellipse cx="1118.5" cy="378.7" rx="6.0" ry="4.7"/><ellipse cx="1142.2" cy="378.2" rx="5.5" ry="4.7"/><ellipse cx="1138.0" cy="395.1" rx="4.7" ry="4.2"/><ellipse cx="1144.8" cy="396.8" rx="5.5" ry="4.2"/><ellipse cx="1120.6" cy="402.7" rx="4.7" ry="4.7"/><ellipse cx="1168.5" cy="403.6" rx="5.0" ry="4.7"/><ellipse cx="1199.0" cy="397.3" rx="4.7" ry="4.7"/><ellipse cx="1221.0" cy="388.8" rx="5.5" ry="5.0"/><ellipse cx="1242.1" cy="390.0" rx="6.8" ry="5.0"/><ellipse cx="1238.7" cy="397.6" rx="5.0" ry="6.0"/><ellipse cx="1238.7" cy="412.9" rx="6.0" ry="4.2"/><ellipse cx="1182.9" cy="423.0" rx="5.5" ry="4.7"/><ellipse cx="1193.9" cy="423.0" rx="6.0" ry="4.2"/><ellipse cx="1214.2" cy="424.7" rx="6.8" ry="5.5"/><ellipse cx="1237.9" cy="423.0" rx="6.0" ry="4.7"/><ellipse cx="1096.9" cy="427.0" rx="5.5" ry="3.8"/><ellipse cx="1118.2" cy="440.3" rx="5.5" ry="4.7"/><ellipse cx="1120.2" cy="457.3" rx="5.5" ry="4.7"/><ellipse cx="1151.5" cy="451.3" rx="4.7" ry="3.8"/><ellipse cx="1162.5" cy="459.8" rx="6.0" ry="4.7"/><ellipse cx="1165.1" cy="464.9" rx="3.0" ry="2.5" fill="none" stroke="#000" stroke-width="1.4"/><ellipse cx="1175.2" cy="463.2" rx="5.5" ry="5.0"/><ellipse cx="1184.2" cy="441.2" rx="5.0" ry="5.5"/><ellipse cx="1193.5" cy="434.4" rx="3.0" ry="3.0"/><ellipse cx="1213.3" cy="436.9" rx="4.7" ry="3.4" fill="none" stroke="#000" stroke-width="1.4"/><ellipse cx="1220.1" cy="449.6" rx="6.8" ry="3.0"/><ellipse cx="1231.1" cy="450.5" rx="6.0" ry="5.0"/><ellipse cx="1248.0" cy="438.6" rx="6.0" ry="9.3"/><ellipse cx="1199.4" cy="463.2" rx="6.0" ry="4.7"/><ellipse cx="1243.8" cy="464.0" rx="6.8" ry="6.0"/><ellipse cx="1211.6" cy="473.3" rx="2.5" ry="2.5" fill="none" stroke="#000" stroke-width="1.4"/><ellipse cx="1213.0" cy="486.0" rx="2.0" ry="2.0" fill="none" stroke="#000" stroke-width="1.4"/><ellipse cx="1182.0" cy="487.7" rx="6.3" ry="5.0"/><ellipse cx="1151.5" cy="500.4" rx="8.5" ry="5.0"/><ellipse cx="1171.9" cy="498.7" rx="7.6" ry="5.0"/><ellipse cx="1187.1" cy="497.0" rx="6.0" ry="4.2"/><ellipse cx="1204.9" cy="500.4" rx="11.0" ry="6.8"/><ellipse cx="1242.1" cy="501.3" rx="8.5" ry="7.6"/><ellipse cx="1248.9" cy="513.1" rx="6.0" ry="5.0"/><ellipse cx="1203.2" cy="524.1" rx="5.0" ry="4.7"/><ellipse cx="1235.4" cy="526.7" rx="11.0" ry="6.8"/><ellipse cx="1157.5" cy="527.5" rx="5.5" ry="4.7"/><ellipse cx="1155.8" cy="536.8" rx="5.5" ry="4.2"/><ellipse cx="1044.0" cy="533.4" rx="3.0" ry="3.0"/><ellipse cx="1216.7" cy="550.4" rx="5.5" ry="5.0"/><ellipse cx="1165.1" cy="558.8" rx="6.3" ry="4.7"/><ellipse cx="1086.0" cy="564.8" rx="5.5" ry="4.7"/><ellipse cx="1209.6" cy="568.2" rx="6.0" ry="4.7"/><ellipse cx="1251.4" cy="571.5" rx="5.0" ry="5.0"/><ellipse cx="1171.9" cy="579.2" rx="6.0" ry="5.0"/><ellipse cx="1227.7" cy="580.0" rx="5.5" ry="6.0"/><ellipse cx="1207.4" cy="585.1" rx="5.5" ry="6.0"/><ellipse cx="1217.6" cy="585.9" rx="3.5" ry="3.0" fill="none" stroke="#000" stroke-width="1.4"/><ellipse cx="1201.5" cy="596.1" rx="3.0" ry="3.4"/><ellipse cx="1101.6" cy="601.2" rx="3.6" ry="3.4"/><ellipse cx="1150.7" cy="609.6" rx="2.0" ry="3.4" fill="none" stroke="#000" stroke-width="1.4"/><ellipse cx="1279.9" cy="428.5" rx="8.5" ry="5.0"/><ellipse cx="1254.5" cy="433.5" rx="8.5" ry="6.0"/><ellipse cx="1268.0" cy="432.7" rx="6.0" ry="5.0"/><ellipse cx="1271.4" cy="442.9" rx="9.3" ry="4.7"/><ellipse cx="1277.3" cy="451.3" rx="6.8" ry="6.0"/><ellipse cx="1295.1" cy="454.4" rx="5.5" ry="3.8"/><ellipse cx="1309.5" cy="442.9" rx="6.8" ry="5.0"/><ellipse cx="1323.0" cy="439.5" rx="6.0" ry="4.7"/><ellipse cx="1339.1" cy="442.9" rx="5.5" ry="4.7"/><ellipse cx="1427.5" cy="450.1" rx="5.0" ry="3.8"/><ellipse cx="1256.2" cy="470.8" rx="8.5" ry="5.0"/><ellipse cx="1269.7" cy="475.9" rx="6.0" ry="4.7"/><ellipse cx="1259.5" cy="478.4" rx="5.0" ry="4.0"/><ellipse cx="1290.9" cy="474.2" rx="7.6" ry="6.0"/><ellipse cx="1296.8" cy="481.8" rx="6.0" ry="4.7"/><ellipse cx="1256.2" cy="487.4" rx="5.5" ry="4.2"/><ellipse cx="1330.7" cy="470.0" rx="5.0" ry="3.8"/><ellipse cx="1348.4" cy="476.7" rx="6.0" ry="4.2"/><ellipse cx="1367.1" cy="479.3" rx="5.5" ry="4.7"/><ellipse cx="1249.4" cy="499.6" rx="6.0" ry="4.7"/><ellipse cx="1281.6" cy="499.6" rx="8.5" ry="6.0"/><ellipse cx="1308.6" cy="500.4" rx="8.5" ry="5.0"/><ellipse cx="1315.4" cy="496.2" rx="5.0" ry="4.0"/><ellipse cx="1323.9" cy="503.3" rx="5.5" ry="4.2"/><ellipse cx="1249.4" cy="514.0" rx="5.5" ry="5.5"/><ellipse cx="1286.6" cy="518.2" rx="5.0" ry="4.2"/><ellipse cx="1269.7" cy="541.0" rx="6.3" ry="6.0"/><ellipse cx="1320.5" cy="536.0" rx="5.0" ry="4.2"/><ellipse cx="1252.4" cy="571.2" rx="5.0" ry="5.0"/><ellipse cx="1272.0" cy="628.6" rx="5.5" ry="4.0"/><ellipse cx="1085.0" cy="649.0" rx="6.0" ry="4.5"/><ellipse cx="1234.0" cy="655.6" rx="3.3" ry="3.0"/><ellipse cx="1077.0" cy="669.4" rx="5.0" ry="4.0"/><ellipse cx="1154.0" cy="692.0" rx="5.5" ry="5.0"/><ellipse cx="1268.0" cy="690.0" rx="3.0" ry="8.0"/><ellipse cx="1274.0" cy="690.0" rx="7.0" ry="2.5"/><ellipse cx="1261.0" cy="708.0" rx="5.0" ry="4.0"/><ellipse cx="1132.0" cy="715.6" rx="6.0" ry="4.5"/><ellipse cx="1176.0" cy="713.0" rx="5.0" ry="5.0"/><ellipse cx="992.4" cy="300.6" rx="5.0" ry="3.0"/></g>
<path d="M884.5 672.4 Q906 664.5 928.5 672.4 Q906 680 884.5 672.4Z" fill="#000"/><ellipse cx="906.7" cy="673.5" rx="4.5" ry="5.5" fill="#000"/>
<rect x="846.3" y="51.3" width="650.0" height="677.8" fill="none" stroke="#000" stroke-width="2.3"/>
<line x1="846.3" y1="176.9" x2="857.8" y2="176.9" stroke="#000" stroke-width="2.2"/>
<text x="839.6" y="186.5" class="tk" text-anchor="end">110</text>
<line x1="846.3" y1="312.8" x2="857.8" y2="312.8" stroke="#000" stroke-width="2.2"/>
<text x="839.6" y="322.4" class="tk" text-anchor="end">115</text>
<line x1="846.3" y1="448.7" x2="857.8" y2="448.7" stroke="#000" stroke-width="2.2"/>
<text x="839.6" y="458.3" class="tk" text-anchor="end">120</text>
<line x1="846.3" y1="584.6" x2="857.8" y2="584.6" stroke="#000" stroke-width="2.2"/>
<text x="839.6" y="594.2" class="tk" text-anchor="end">125</text>
<line x1="846.3" y1="720.5" x2="857.8" y2="720.5" stroke="#000" stroke-width="2.2"/>
<text x="839.6" y="730.1" class="tk" text-anchor="end">130</text>
<line x1="844.1" y1="68.2" x2="846.3" y2="68.2" stroke="#000" stroke-width="1.4"/>
<line x1="844.1" y1="95.4" x2="846.3" y2="95.4" stroke="#000" stroke-width="1.4"/>
<line x1="844.1" y1="122.5" x2="846.3" y2="122.5" stroke="#000" stroke-width="1.4"/>
<line x1="844.1" y1="149.7" x2="846.3" y2="149.7" stroke="#000" stroke-width="1.4"/>
<line x1="844.1" y1="204.1" x2="846.3" y2="204.1" stroke="#000" stroke-width="1.4"/>
<line x1="844.1" y1="231.3" x2="846.3" y2="231.3" stroke="#000" stroke-width="1.4"/>
<line x1="844.1" y1="258.4" x2="846.3" y2="258.4" stroke="#000" stroke-width="1.4"/>
<line x1="844.1" y1="285.6" x2="846.3" y2="285.6" stroke="#000" stroke-width="1.4"/>
<line x1="844.1" y1="340.0" x2="846.3" y2="340.0" stroke="#000" stroke-width="1.4"/>
<line x1="844.1" y1="367.2" x2="846.3" y2="367.2" stroke="#000" stroke-width="1.4"/>
<line x1="844.1" y1="394.3" x2="846.3" y2="394.3" stroke="#000" stroke-width="1.4"/>
<line x1="844.1" y1="421.5" x2="846.3" y2="421.5" stroke="#000" stroke-width="1.4"/>
<line x1="844.1" y1="475.9" x2="846.3" y2="475.9" stroke="#000" stroke-width="1.4"/>
<line x1="844.1" y1="503.1" x2="846.3" y2="503.1" stroke="#000" stroke-width="1.4"/>
<line x1="844.1" y1="530.2" x2="846.3" y2="530.2" stroke="#000" stroke-width="1.4"/>
<line x1="844.1" y1="557.4" x2="846.3" y2="557.4" stroke="#000" stroke-width="1.4"/>
<line x1="844.1" y1="611.8" x2="846.3" y2="611.8" stroke="#000" stroke-width="1.4"/>
<line x1="844.1" y1="639.0" x2="846.3" y2="639.0" stroke="#000" stroke-width="1.4"/>
<line x1="844.1" y1="666.1" x2="846.3" y2="666.1" stroke="#000" stroke-width="1.4"/>
<line x1="844.1" y1="693.3" x2="846.3" y2="693.3" stroke="#000" stroke-width="1.4"/>
<line x1="960.7" y1="729.1" x2="960.7" y2="717.1" stroke="#000" stroke-width="2.2"/>
<text x="955.6" y="757.6" class="tk" text-anchor="middle">10.0</text>
<line x1="1113.7" y1="729.1" x2="1113.7" y2="717.1" stroke="#000" stroke-width="2.2"/>
<text x="1109.4" y="757.6" class="tk" text-anchor="middle">9.0</text>
<line x1="1266.7" y1="729.1" x2="1266.7" y2="717.1" stroke="#000" stroke-width="2.2"/>
<text x="1263.5" y="757.6" class="tk" text-anchor="middle">8.0</text>
<line x1="1419.7" y1="729.1" x2="1419.7" y2="717.1" stroke="#000" stroke-width="2.2"/>
<text x="1419.1" y="757.6" class="tk" text-anchor="middle">7.0</text>
<line x1="884.2" y1="729.1" x2="884.2" y2="731.3" stroke="#000" stroke-width="1.4"/>
<line x1="922.5" y1="729.1" x2="922.5" y2="731.3" stroke="#000" stroke-width="1.4"/>
<line x1="999.0" y1="729.1" x2="999.0" y2="731.3" stroke="#000" stroke-width="1.4"/>
<line x1="1037.2" y1="729.1" x2="1037.2" y2="731.3" stroke="#000" stroke-width="1.4"/>
<line x1="1075.5" y1="729.1" x2="1075.5" y2="731.3" stroke="#000" stroke-width="1.4"/>
<line x1="1152.0" y1="729.1" x2="1152.0" y2="731.3" stroke="#000" stroke-width="1.4"/>
<line x1="1190.2" y1="729.1" x2="1190.2" y2="731.3" stroke="#000" stroke-width="1.4"/>
<line x1="1228.5" y1="729.1" x2="1228.5" y2="731.3" stroke="#000" stroke-width="1.4"/>
<line x1="1305.0" y1="729.1" x2="1305.0" y2="731.3" stroke="#000" stroke-width="1.4"/>
<line x1="1343.2" y1="729.1" x2="1343.2" y2="731.3" stroke="#000" stroke-width="1.4"/>
<line x1="1381.5" y1="729.1" x2="1381.5" y2="731.3" stroke="#000" stroke-width="1.4"/>
<line x1="1458.0" y1="729.1" x2="1458.0" y2="731.3" stroke="#000" stroke-width="1.4"/>
<text x="1115.8" y="784.6" font-family="Liberation Serif" font-size="23.5">&#948;</text>
<text x="1127" y="775.8" font-family="Liberation Sans" font-weight="bold" font-size="14">1</text>
<text x="1135.6" y="784.6" font-family="Liberation Sans" font-weight="bold" font-size="24">H</text>
<text x="1160.6" y="784.6" font-family="Liberation Sans" font-weight="bold" font-size="24">(ppm)</text>
<g transform="translate(777.3 449.5) rotate(-90)"><text x="-0.1" y="0" font-family="Liberation Serif" font-size="23">&#948;</text><text x="12.3" y="-8.4" font-family="Liberation Sans" font-weight="bold" font-size="14">15</text><text x="27.5" y="0" font-family="Liberation Sans" font-weight="bold" font-size="24">N</text><text x="51.3" y="0" font-family="Liberation Sans" font-weight="bold" font-size="24">(ppm)</text></g>
<text x="-1" y="864.5" font-family="Liberation Sans" font-weight="bold" font-size="48">c</text>
<rect x="235.59" y="848.30" width="5.0" height="111.70"/>
<rect x="341.09" y="848.30" width="5.0" height="111.70"/>
<rect x="349.21" y="848.30" width="5.0" height="111.70"/>
<rect x="357.32" y="848.30" width="5.0" height="111.70"/>
<rect x="365.44" y="848.30" width="5.0" height="111.70"/>
<rect x="373.55" y="848.30" width="5.0" height="111.70"/>
<rect x="381.66" y="848.30" width="5.0" height="111.70"/>
<rect x="389.78" y="848.30" width="5.0" height="111.70"/>
<rect x="397.89" y="848.30" width="5.0" height="111.70"/>
<rect x="406.01" y="848.30" width="5.0" height="111.70"/>
<rect x="414.12" y="848.30" width="5.0" height="111.70"/>
<rect x="422.24" y="848.30" width="5.0" height="111.70"/>
<rect x="438.47" y="848.30" width="5.0" height="111.70"/>
<rect x="446.59" y="848.30" width="5.0" height="111.70"/>
<rect x="479.04" y="848.30" width="5.0" height="111.70"/>
<rect x="495.27" y="848.30" width="5.0" height="111.70"/>
<rect x="527.74" y="848.30" width="5.0" height="111.70"/>
<rect x="543.97" y="848.30" width="5.0" height="111.70"/>
<rect x="552.08" y="848.30" width="5.0" height="111.70"/>
<rect x="560.20" y="848.30" width="5.0" height="111.70"/>
<rect x="568.31" y="848.30" width="5.0" height="111.70"/>
<rect x="576.42" y="848.30" width="5.0" height="111.70"/>
<rect x="584.54" y="848.30" width="5.0" height="111.70"/>
<rect x="592.65" y="848.30" width="5.0" height="111.70"/>
<rect x="600.77" y="848.30" width="5.0" height="111.70"/>
<rect x="608.88" y="848.30" width="5.0" height="111.70"/>
<rect x="617.00" y="848.30" width="5.0" height="111.70"/>
<rect x="625.12" y="848.30" width="5.0" height="111.70"/>
<rect x="633.23" y="848.30" width="5.0" height="111.70"/>
<rect x="641.35" y="848.30" width="5.0" height="111.70"/>
<rect x="649.46" y="848.30" width="5.0" height="111.70"/>
<rect x="657.58" y="848.30" width="5.0" height="111.70"/>
<rect x="698.15" y="848.30" width="5.0" height="111.70"/>
<rect x="706.26" y="848.30" width="5.0" height="111.70"/>
<rect x="738.73" y="848.30" width="5.0" height="111.70"/>
<rect x="746.84" y="848.30" width="5.0" height="111.70"/>
<rect x="754.96" y="848.30" width="5.0" height="111.70"/>
<rect x="763.07" y="848.30" width="5.0" height="111.70"/>
<rect x="771.19" y="848.30" width="5.0" height="111.70"/>
<rect x="779.30" y="848.30" width="5.0" height="111.70"/>
<rect x="787.42" y="848.30" width="5.0" height="111.70"/>
<rect x="795.53" y="848.30" width="5.0" height="111.70"/>
<rect x="811.76" y="848.30" width="5.0" height="111.70"/>
<rect x="844.22" y="848.30" width="5.0" height="111.70"/>
<rect x="860.45" y="848.30" width="5.0" height="111.70"/>
<rect x="868.57" y="848.30" width="5.0" height="111.70"/>
<rect x="876.68" y="848.30" width="5.0" height="111.70"/>
<rect x="884.80" y="848.30" width="5.0" height="111.70"/>
<rect x="892.91" y="848.30" width="5.0" height="111.70"/>
<rect x="901.03" y="848.30" width="5.0" height="111.70"/>
<rect x="917.25" y="848.30" width="5.0" height="111.70"/>
<rect x="933.49" y="848.30" width="5.0" height="111.70"/>
<rect x="965.95" y="848.30" width="5.0" height="111.70"/>
<rect x="974.06" y="848.30" width="5.0" height="111.70"/>
<rect x="982.18" y="848.30" width="5.0" height="111.70"/>
<rect x="990.29" y="848.30" width="5.0" height="111.70"/>
<rect x="998.41" y="848.30" width="5.0" height="111.70"/>
<rect x="1006.52" y="848.30" width="5.0" height="111.70"/>
<rect x="1022.75" y="848.30" width="5.0" height="111.70"/>
<rect x="1087.67" y="848.30" width="5.0" height="111.70"/>
<rect x="1095.79" y="848.30" width="5.0" height="111.70"/>
<rect x="1103.90" y="848.30" width="5.0" height="111.70"/>
<rect x="1112.02" y="848.30" width="5.0" height="111.70"/>
<rect x="1120.13" y="848.30" width="5.0" height="111.70"/>
<rect x="1128.24" y="848.30" width="5.0" height="111.70"/>
<rect x="1136.36" y="848.30" width="5.0" height="111.70"/>
<rect x="1144.47" y="848.30" width="5.0" height="111.70"/>
<rect x="1152.59" y="848.30" width="5.0" height="111.70"/>
<rect x="1176.93" y="848.30" width="5.0" height="111.70"/>
<rect x="1193.16" y="848.30" width="5.0" height="111.70"/>
<rect x="1217.51" y="848.30" width="5.0" height="111.70"/>
<rect x="1225.62" y="848.30" width="5.0" height="111.70"/>
<rect x="1233.74" y="848.30" width="5.0" height="111.70"/>
<rect x="1241.86" y="848.30" width="5.0" height="111.70"/>
<rect x="1249.97" y="848.30" width="5.0" height="111.70"/>
<rect x="1258.09" y="848.30" width="5.0" height="111.70"/>
<rect x="1266.20" y="848.30" width="5.0" height="111.70"/>
<rect x="1274.31" y="848.30" width="5.0" height="111.70"/>
<rect x="1282.43" y="848.30" width="5.0" height="111.70"/>
<rect x="1290.54" y="848.30" width="5.0" height="111.70"/>
<rect x="1298.66" y="848.30" width="5.0" height="111.70"/>
<rect x="1306.77" y="848.30" width="5.0" height="111.70"/>
<rect x="1314.89" y="848.30" width="5.0" height="111.70"/>
<rect x="1323.00" y="848.30" width="5.0" height="111.70"/>
<rect x="1396.04" y="848.30" width="5.0" height="111.70"/>
<rect x="1404.15" y="848.30" width="5.0" height="111.70"/>
<rect x="1412.27" y="848.30" width="5.0" height="111.70"/>
<rect x="1420.38" y="848.30" width="5.0" height="111.70"/>
<rect x="1428.50" y="848.30" width="5.0" height="111.70"/>
<rect x="1436.62" y="848.30" width="5.0" height="111.70"/>
<rect x="1444.73" y="848.30" width="5.0" height="111.70"/>
<rect x="1452.85" y="848.30" width="5.0" height="111.70"/>
<rect x="1460.96" y="848.30" width="5.0" height="111.70"/>
<rect x="1485.30" y="848.30" width="5.0" height="111.70"/>
<rect x="219.37" y="960.00" width="5.0" height="110.80"/>
<rect x="259.94" y="960.00" width="5.0" height="110.80"/>
<rect x="462.82" y="960.00" width="5.0" height="110.80"/>
<rect x="827.99" y="960.00" width="5.0" height="110.80"/>
<rect x="836.11" y="960.00" width="5.0" height="110.80"/>
<rect x="852.34" y="960.00" width="5.0" height="110.80"/>
<rect x="925.37" y="960.00" width="5.0" height="110.80"/>
<rect x="949.72" y="960.00" width="5.0" height="110.80"/>
<rect x="957.83" y="960.00" width="5.0" height="110.80"/>
<rect x="101.80" y="848.30" width="1394.20" height="234.20" fill="none" stroke="#000" stroke-width="2.6"/>
<line x1="101.8" y1="960.0" x2="1496.0" y2="960.0" stroke="#000" stroke-width="2.6"/>
<line x1="101.8" y1="1070.8" x2="1496.0" y2="1070.8" stroke="#000" stroke-width="2.6"/>
<path d="M134.50 1079.90L142.10 1079.90L138.30 1073.70Z" fill="#f00"/>
<path d="M142.90 1079.90L150.50 1079.90L146.70 1073.70Z" fill="#f00"/>
<path d="M189.20 1079.90L196.80 1079.90L193.00 1073.70Z" fill="#f00"/>
<path d="M290.40 1079.90L298.00 1079.90L294.20 1073.70Z" fill="#f00"/>
<path d="M298.70 1079.90L306.30 1079.90L302.50 1073.70Z" fill="#f00"/>
<path d="M306.20 1079.90L313.80 1079.90L310.00 1073.70Z" fill="#f00"/>
<path d="M313.20 1079.90L320.80 1079.90L317.00 1073.70Z" fill="#f00"/>
<path d="M320.70 1079.90L328.30 1079.90L324.50 1073.70Z" fill="#f00"/>
<path d="M327.90 1079.90L335.50 1079.90L331.70 1073.70Z" fill="#f00"/>
<path d="M469.20 1079.90L476.80 1079.90L473.00 1073.70Z" fill="#f00"/>
<path d="M534.20 1079.90L541.80 1079.90L538.00 1073.70Z" fill="#f00"/>
<path d="M663.60 1079.90L671.20 1079.90L667.40 1073.70Z" fill="#f00"/>
<path d="M671.60 1079.90L679.20 1079.90L675.40 1073.70Z" fill="#f00"/>
<path d="M680.60 1079.90L688.20 1079.90L684.40 1073.70Z" fill="#f00"/>
<path d="M688.20 1079.90L695.80 1079.90L692.00 1073.70Z" fill="#f00"/>
<path d="M729.20 1079.90L736.80 1079.90L733.00 1073.70Z" fill="#f00"/>
<path d="M1028.20 1079.90L1035.80 1079.90L1032.00 1073.70Z" fill="#f00"/>
<path d="M1036.20 1079.90L1043.80 1079.90L1040.00 1073.70Z" fill="#f00"/>
<path d="M1044.80 1079.90L1052.40 1079.90L1048.60 1073.70Z" fill="#f00"/>
<path d="M1053.20 1079.90L1060.80 1079.90L1057.00 1073.70Z" fill="#f00"/>
<path d="M1061.20 1079.90L1068.80 1079.90L1065.00 1073.70Z" fill="#f00"/>
<path d="M1069.20 1079.90L1076.80 1079.90L1073.00 1073.70Z" fill="#f00"/>
<path d="M1077.20 1079.90L1084.80 1079.90L1081.00 1073.70Z" fill="#f00"/>
<path d="M1200.20 1079.90L1207.80 1079.90L1204.00 1073.70Z" fill="#f00"/>
<path d="M1209.70 1079.90L1217.30 1079.90L1213.50 1073.70Z" fill="#f00"/>
<path d="M1329.80 1079.90L1337.40 1079.90L1333.60 1073.70Z" fill="#f00"/>
<path d="M1337.50 1079.90L1345.10 1079.90L1341.30 1073.70Z" fill="#f00"/>
<path d="M1345.20 1079.90L1352.80 1079.90L1349.00 1073.70Z" fill="#f00"/>
<path d="M1353.80 1079.90L1361.40 1079.90L1357.60 1073.70Z" fill="#f00"/>
<path d="M1362.50 1079.90L1370.10 1079.90L1366.30 1073.70Z" fill="#f00"/>
<path d="M1371.20 1079.90L1378.80 1079.90L1375.00 1073.70Z" fill="#f00"/>
<path d="M1379.20 1079.90L1386.80 1079.90L1383.00 1073.70Z" fill="#f00"/>
<path d="M1387.50 1079.90L1395.10 1079.90L1391.30 1073.70Z" fill="#f00"/>
<line x1="132.60" y1="1070.8" x2="132.60" y2="1082.5" stroke="#000" stroke-width="2.4"/>
<line x1="213.75" y1="1070.8" x2="213.75" y2="1082.5" stroke="#000" stroke-width="2.4"/>
<line x1="294.90" y1="1070.8" x2="294.90" y2="1082.5" stroke="#000" stroke-width="2.4"/>
<line x1="376.05" y1="1070.8" x2="376.05" y2="1082.5" stroke="#000" stroke-width="2.4"/>
<line x1="457.20" y1="1070.8" x2="457.20" y2="1082.5" stroke="#000" stroke-width="2.4"/>
<line x1="538.35" y1="1070.8" x2="538.35" y2="1082.5" stroke="#000" stroke-width="2.4"/>
<line x1="619.50" y1="1070.8" x2="619.50" y2="1082.5" stroke="#000" stroke-width="2.4"/>
<line x1="700.65" y1="1070.8" x2="700.65" y2="1082.5" stroke="#000" stroke-width="2.4"/>
<line x1="781.80" y1="1070.8" x2="781.80" y2="1082.5" stroke="#000" stroke-width="2.4"/>
<line x1="862.95" y1="1070.8" x2="862.95" y2="1082.5" stroke="#000" stroke-width="2.4"/>
<line x1="944.10" y1="1070.8" x2="944.10" y2="1082.5" stroke="#000" stroke-width="2.4"/>
<line x1="1025.25" y1="1070.8" x2="1025.25" y2="1082.5" stroke="#000" stroke-width="2.4"/>
<line x1="1106.40" y1="1070.8" x2="1106.40" y2="1082.5" stroke="#000" stroke-width="2.4"/>
<line x1="1187.55" y1="1070.8" x2="1187.55" y2="1082.5" stroke="#000" stroke-width="2.4"/>
<line x1="1268.70" y1="1070.8" x2="1268.70" y2="1082.5" stroke="#000" stroke-width="2.4"/>
<line x1="1349.85" y1="1070.8" x2="1349.85" y2="1082.5" stroke="#000" stroke-width="2.4"/>
<line x1="1431.00" y1="1070.8" x2="1431.00" y2="1082.5" stroke="#000" stroke-width="2.4"/>
<text x="127.7" y="1107.8" class="tk" text-anchor="middle">40</text>
<text x="214.9" y="1107.8" class="tk" text-anchor="middle">50</text>
<text x="295.7" y="1107.8" class="tk" text-anchor="middle">60</text>
<text x="376.0" y="1107.8" class="tk" text-anchor="middle">70</text>
<text x="456.5" y="1107.8" class="tk" text-anchor="middle">80</text>
<text x="537.0" y="1107.8" class="tk" text-anchor="middle">90</text>
<text x="618.4" y="1107.8" class="tk" text-anchor="middle">100</text>
<text x="698.2" y="1107.8" class="tk" text-anchor="middle">110</text>
<text x="778.2" y="1107.8" class="tk" text-anchor="middle">120</text>
<text x="865.1" y="1107.8" class="tk" text-anchor="middle">130</text>
<text x="945.6" y="1107.8" class="tk" text-anchor="middle">140</text>
<text x="1025.9" y="1107.8" class="tk" text-anchor="middle">150</text>
<text x="1106.8" y="1107.8" class="tk" text-anchor="middle">160</text>
<text x="1187.1" y="1107.8" class="tk" text-anchor="middle">170</text>
<text x="1268.3" y="1107.8" class="tk" text-anchor="middle">180</text>
<text x="1348.9" y="1107.8" class="tk" text-anchor="middle">190</text>
<text x="1429.1" y="1107.8" class="tk" text-anchor="middle">200</text>
<text x="87.5" y="857.2" class="tk" text-anchor="end">1</text>
<text x="88.8" y="969.2" class="tk" text-anchor="end">0</text>
<text x="87.5" y="1078.8" class="tk" text-anchor="end">-1</text>
<text x="692.5" y="1138.8" class="tk">sequence position</text>
<g transform="translate(17.6 972.5) rotate(-90)"><text x="0" y="0" class="tk">C</text></g>
<g transform="translate(26.5 955.5) rotate(-90)"><text x="0" y="0" font-family="Liberation Serif" font-size="19">&#945;</text></g>
<rect x="121.98" y="1189.30" width="5.0" height="111.70"/>
<rect x="195.02" y="1189.30" width="5.0" height="111.70"/>
<rect x="203.13" y="1189.30" width="5.0" height="111.70"/>
<rect x="227.48" y="1189.30" width="5.0" height="111.70"/>
<rect x="259.94" y="1189.30" width="5.0" height="111.70"/>
<rect x="276.17" y="1189.30" width="5.0" height="111.70"/>
<rect x="341.09" y="1189.30" width="5.0" height="111.70"/>
<rect x="349.21" y="1189.30" width="5.0" height="111.70"/>
<rect x="357.32" y="1189.30" width="5.0" height="111.70"/>
<rect x="365.44" y="1189.30" width="5.0" height="111.70"/>
<rect x="373.55" y="1189.30" width="5.0" height="111.70"/>
<rect x="381.66" y="1189.30" width="5.0" height="111.70"/>
<rect x="389.78" y="1189.30" width="5.0" height="111.70"/>
<rect x="397.89" y="1189.30" width="5.0" height="111.70"/>
<rect x="406.01" y="1189.30" width="5.0" height="111.70"/>
<rect x="414.12" y="1189.30" width="5.0" height="111.70"/>
<rect x="422.24" y="1189.30" width="5.0" height="111.70"/>
<rect x="430.36" y="1189.30" width="5.0" height="111.70"/>
<rect x="438.47" y="1189.30" width="5.0" height="111.70"/>
<rect x="446.59" y="1189.30" width="5.0" height="111.70"/>
<rect x="487.16" y="1189.30" width="5.0" height="111.70"/>
<rect x="495.27" y="1189.30" width="5.0" height="111.70"/>
<rect x="519.62" y="1189.30" width="5.0" height="111.70"/>
<rect x="527.74" y="1189.30" width="5.0" height="111.70"/>
<rect x="552.08" y="1189.30" width="5.0" height="111.70"/>
<rect x="560.20" y="1189.30" width="5.0" height="111.70"/>
<rect x="568.31" y="1189.30" width="5.0" height="111.70"/>
<rect x="576.42" y="1189.30" width="5.0" height="111.70"/>
<rect x="584.54" y="1189.30" width="5.0" height="111.70"/>
<rect x="592.65" y="1189.30" width="5.0" height="111.70"/>
<rect x="600.77" y="1189.30" width="5.0" height="111.70"/>
<rect x="617.00" y="1189.30" width="5.0" height="111.70"/>
<rect x="625.12" y="1189.30" width="5.0" height="111.70"/>
<rect x="633.23" y="1189.30" width="5.0" height="111.70"/>
<rect x="641.35" y="1189.30" width="5.0" height="111.70"/>
<rect x="649.46" y="1189.30" width="5.0" height="111.70"/>
<rect x="657.58" y="1189.30" width="5.0" height="111.70"/>
<rect x="738.73" y="1189.30" width="5.0" height="111.70"/>
<rect x="763.07" y="1189.30" width="5.0" height="111.70"/>
<rect x="787.42" y="1189.30" width="5.0" height="111.70"/>
<rect x="803.65" y="1189.30" width="5.0" height="111.70"/>
<rect x="811.76" y="1189.30" width="5.0" height="111.70"/>
<rect x="860.45" y="1189.30" width="5.0" height="111.70"/>
<rect x="868.57" y="1189.30" width="5.0" height="111.70"/>
<rect x="876.68" y="1189.30" width="5.0" height="111.70"/>
<rect x="884.80" y="1189.30" width="5.0" height="111.70"/>
<rect x="892.91" y="1189.30" width="5.0" height="111.70"/>
<rect x="901.03" y="1189.30" width="5.0" height="111.70"/>
<rect x="909.14" y="1189.30" width="5.0" height="111.70"/>
<rect x="974.06" y="1189.30" width="5.0" height="111.70"/>
<rect x="982.18" y="1189.30" width="5.0" height="111.70"/>
<rect x="990.29" y="1189.30" width="5.0" height="111.70"/>
<rect x="998.41" y="1189.30" width="5.0" height="111.70"/>
<rect x="1014.63" y="1189.30" width="5.0" height="111.70"/>
<rect x="1087.67" y="1189.30" width="5.0" height="111.70"/>
<rect x="1095.79" y="1189.30" width="5.0" height="111.70"/>
<rect x="1112.02" y="1189.30" width="5.0" height="111.70"/>
<rect x="1120.13" y="1189.30" width="5.0" height="111.70"/>
<rect x="1128.24" y="1189.30" width="5.0" height="111.70"/>
<rect x="1136.36" y="1189.30" width="5.0" height="111.70"/>
<rect x="1176.93" y="1189.30" width="5.0" height="111.70"/>
<rect x="1217.51" y="1189.30" width="5.0" height="111.70"/>
<rect x="1225.62" y="1189.30" width="5.0" height="111.70"/>
<rect x="1233.74" y="1189.30" width="5.0" height="111.70"/>
<rect x="1249.97" y="1189.30" width="5.0" height="111.70"/>
<rect x="1282.43" y="1189.30" width="5.0" height="111.70"/>
<rect x="1290.54" y="1189.30" width="5.0" height="111.70"/>
<rect x="1298.66" y="1189.30" width="5.0" height="111.70"/>
<rect x="1306.77" y="1189.30" width="5.0" height="111.70"/>
<rect x="1314.89" y="1189.30" width="5.0" height="111.70"/>
<rect x="1323.00" y="1189.30" width="5.0" height="111.70"/>
<rect x="1396.04" y="1189.30" width="5.0" height="111.70"/>
<rect x="1412.27" y="1189.30" width="5.0" height="111.70"/>
<rect x="1444.73" y="1189.30" width="5.0" height="111.70"/>
<rect x="1485.30" y="1189.30" width="5.0" height="111.70"/>
<rect x="211.25" y="1301.00" width="5.0" height="110.80"/>
<rect x="219.37" y="1301.00" width="5.0" height="110.80"/>
<rect x="454.70" y="1301.00" width="5.0" height="110.80"/>
<rect x="722.50" y="1301.00" width="5.0" height="110.80"/>
<rect x="754.96" y="1301.00" width="5.0" height="110.80"/>
<rect x="827.99" y="1301.00" width="5.0" height="110.80"/>
<rect x="836.11" y="1301.00" width="5.0" height="110.80"/>
<rect x="925.37" y="1301.00" width="5.0" height="110.80"/>
<rect x="941.60" y="1301.00" width="5.0" height="110.80"/>
<rect x="949.72" y="1301.00" width="5.0" height="110.80"/>
<rect x="957.83" y="1301.00" width="5.0" height="110.80"/>
<rect x="965.95" y="1301.00" width="5.0" height="110.80"/>
<rect x="1168.82" y="1301.00" width="5.0" height="110.80"/>
<rect x="1185.05" y="1301.00" width="5.0" height="110.80"/>
<rect x="1258.09" y="1301.00" width="5.0" height="110.80"/>
<rect x="1266.20" y="1301.00" width="5.0" height="110.80"/>
<rect x="1274.31" y="1301.00" width="5.0" height="110.80"/>
<rect x="1452.85" y="1301.00" width="5.0" height="110.80"/>
<rect x="1477.19" y="1301.00" width="5.0" height="110.80"/>
<rect x="101.80" y="1189.30" width="1394.20" height="234.20" fill="none" stroke="#000" stroke-width="2.6"/>
<line x1="101.8" y1="1301.0" x2="1496.0" y2="1301.0" stroke="#000" stroke-width="2.6"/>
<line x1="101.8" y1="1411.8" x2="1496.0" y2="1411.8" stroke="#000" stroke-width="2.6"/>
<path d="M113.70 1420.90L121.30 1420.90L117.50 1414.70Z" fill="#f00"/>
<path d="M127.20 1420.90L134.80 1420.90L131.00 1414.70Z" fill="#f00"/>
<path d="M135.20 1420.90L142.80 1420.90L139.00 1414.70Z" fill="#f00"/>
<path d="M143.20 1420.90L150.80 1420.90L147.00 1414.70Z" fill="#f00"/>
<path d="M181.80 1420.90L189.40 1420.90L185.60 1414.70Z" fill="#f00"/>
<path d="M189.80 1420.90L197.40 1420.90L193.60 1414.70Z" fill="#f00"/>
<path d="M236.20 1420.90L243.80 1420.90L240.00 1414.70Z" fill="#f00"/>
<path d="M253.20 1420.90L260.80 1420.90L257.00 1414.70Z" fill="#f00"/>
<path d="M283.20 1420.90L290.80 1420.90L287.00 1414.70Z" fill="#f00"/>
<path d="M291.20 1420.90L298.80 1420.90L295.00 1414.70Z" fill="#f00"/>
<path d="M299.20 1420.90L306.80 1420.90L303.00 1414.70Z" fill="#f00"/>
<path d="M306.20 1420.90L313.80 1420.90L310.00 1414.70Z" fill="#f00"/>
<path d="M313.80 1420.90L321.40 1420.90L317.60 1414.70Z" fill="#f00"/>
<path d="M321.20 1420.90L328.80 1420.90L325.00 1414.70Z" fill="#f00"/>
<path d="M328.60 1420.90L336.20 1420.90L332.40 1414.70Z" fill="#f00"/>
<path d="M469.80 1420.90L477.40 1420.90L473.60 1414.70Z" fill="#f00"/>
<path d="M534.20 1420.90L541.80 1420.90L538.00 1414.70Z" fill="#f00"/>
<path d="M608.60 1420.90L616.20 1420.90L612.40 1414.70Z" fill="#f00"/>
<path d="M663.60 1420.90L671.20 1420.90L667.40 1414.70Z" fill="#f00"/>
<path d="M671.60 1420.90L679.20 1420.90L675.40 1414.70Z" fill="#f00"/>
<path d="M680.60 1420.90L688.20 1420.90L684.40 1414.70Z" fill="#f00"/>
<path d="M688.20 1420.90L695.80 1420.90L692.00 1414.70Z" fill="#f00"/>
<path d="M729.20 1420.90L736.80 1420.90L733.00 1414.70Z" fill="#f00"/>
<path d="M1028.20 1420.90L1035.80 1420.90L1032.00 1414.70Z" fill="#f00"/>
<path d="M1036.20 1420.90L1043.80 1420.90L1040.00 1414.70Z" fill="#f00"/>
<path d="M1044.80 1420.90L1052.40 1420.90L1048.60 1414.70Z" fill="#f00"/>
<path d="M1053.20 1420.90L1060.80 1420.90L1057.00 1414.70Z" fill="#f00"/>
<path d="M1061.20 1420.90L1068.80 1420.90L1065.00 1414.70Z" fill="#f00"/>
<path d="M1069.20 1420.90L1076.80 1420.90L1073.00 1414.70Z" fill="#f00"/>
<path d="M1077.20 1420.90L1084.80 1420.90L1081.00 1414.70Z" fill="#f00"/>
<path d="M1200.20 1420.90L1207.80 1420.90L1204.00 1414.70Z" fill="#f00"/>
<path d="M1209.70 1420.90L1217.30 1420.90L1213.50 1414.70Z" fill="#f00"/>
<path d="M1329.80 1420.90L1337.40 1420.90L1333.60 1414.70Z" fill="#f00"/>
<path d="M1337.50 1420.90L1345.10 1420.90L1341.30 1414.70Z" fill="#f00"/>
<path d="M1345.20 1420.90L1352.80 1420.90L1349.00 1414.70Z" fill="#f00"/>
<path d="M1353.80 1420.90L1361.40 1420.90L1357.60 1414.70Z" fill="#f00"/>
<path d="M1362.50 1420.90L1370.10 1420.90L1366.30 1414.70Z" fill="#f00"/>
<path d="M1371.20 1420.90L1378.80 1420.90L1375.00 1414.70Z" fill="#f00"/>
<path d="M1379.20 1420.90L1386.80 1420.90L1383.00 1414.70Z" fill="#f00"/>
<path d="M1387.50 1420.90L1395.10 1420.90L1391.30 1414.70Z" fill="#f00"/>
<line x1="132.60" y1="1411.8" x2="132.60" y2="1423.5" stroke="#000" stroke-width="2.4"/>
<line x1="213.75" y1="1411.8" x2="213.75" y2="1423.5" stroke="#000" stroke-width="2.4"/>
<line x1="294.90" y1="1411.8" x2="294.90" y2="1423.5" stroke="#000" stroke-width="2.4"/>
<line x1="376.05" y1="1411.8" x2="376.05" y2="1423.5" stroke="#000" stroke-width="2.4"/>
<line x1="457.20" y1="1411.8" x2="457.20" y2="1423.5" stroke="#000" stroke-width="2.4"/>
<line x1="538.35" y1="1411.8" x2="538.35" y2="1423.5" stroke="#000" stroke-width="2.4"/>
<line x1="619.50" y1="1411.8" x2="619.50" y2="1423.5" stroke="#000" stroke-width="2.4"/>
<line x1="700.65" y1="1411.8" x2="700.65" y2="1423.5" stroke="#000" stroke-width="2.4"/>
<line x1="781.80" y1="1411.8" x2="781.80" y2="1423.5" stroke="#000" stroke-width="2.4"/>
<line x1="862.95" y1="1411.8" x2="862.95" y2="1423.5" stroke="#000" stroke-width="2.4"/>
<line x1="944.10" y1="1411.8" x2="944.10" y2="1423.5" stroke="#000" stroke-width="2.4"/>
<line x1="1025.25" y1="1411.8" x2="1025.25" y2="1423.5" stroke="#000" stroke-width="2.4"/>
<line x1="1106.40" y1="1411.8" x2="1106.40" y2="1423.5" stroke="#000" stroke-width="2.4"/>
<line x1="1187.55" y1="1411.8" x2="1187.55" y2="1423.5" stroke="#000" stroke-width="2.4"/>
<line x1="1268.70" y1="1411.8" x2="1268.70" y2="1423.5" stroke="#000" stroke-width="2.4"/>
<line x1="1349.85" y1="1411.8" x2="1349.85" y2="1423.5" stroke="#000" stroke-width="2.4"/>
<line x1="1431.00" y1="1411.8" x2="1431.00" y2="1423.5" stroke="#000" stroke-width="2.4"/>
<text x="127.7" y="1448.8" class="tk" text-anchor="middle">40</text>
<text x="214.9" y="1448.8" class="tk" text-anchor="middle">50</text>
<text x="295.7" y="1448.8" class="tk" text-anchor="middle">60</text>
<text x="376.0" y="1448.8" class="tk" text-anchor="middle">70</text>
<text x="456.5" y="1448.8" class="tk" text-anchor="middle">80</text>
<text x="537.0" y="1448.8" class="tk" text-anchor="middle">90</text>
<text x="618.4" y="1448.8" class="tk" text-anchor="middle">100</text>
<text x="698.2" y="1448.8" class="tk" text-anchor="middle">110</text>
<text x="778.2" y="1448.8" class="tk" text-anchor="middle">120</text>
<text x="865.1" y="1448.8" class="tk" text-anchor="middle">130</text>
<text x="945.6" y="1448.8" class="tk" text-anchor="middle">140</text>
<text x="1025.9" y="1448.8" class="tk" text-anchor="middle">150</text>
<text x="1106.8" y="1448.8" class="tk" text-anchor="middle">160</text>
<text x="1187.1" y="1448.8" class="tk" text-anchor="middle">170</text>
<text x="1268.3" y="1448.8" class="tk" text-anchor="middle">180</text>
<text x="1348.9" y="1448.8" class="tk" text-anchor="middle">190</text>
<text x="1429.1" y="1448.8" class="tk" text-anchor="middle">200</text>
<text x="87.5" y="1198.2" class="tk" text-anchor="end">1</text>
<text x="88.8" y="1310.2" class="tk" text-anchor="end">0</text>
<text x="87.5" y="1419.8" class="tk" text-anchor="end">-1</text>
<text x="692.5" y="1479.8" class="tk">sequence position</text>
<g transform="translate(17.6 1313.5) rotate(-90)"><text x="0" y="0" class="tk">C</text></g>
<ellipse cx="24.0" cy="1290.0" rx="4.2" ry="4.2" fill="none" stroke="#000" stroke-width="1.3"/>
<line x1="101" y1="1602.4" x2="308" y2="1602.4" stroke="#f00" stroke-width="5.2"/>
<line x1="445" y1="1602.0" x2="1497.3" y2="1602.0" stroke="#000" stroke-width="4.8"/>
<line x1="734.3" y1="1560.5" x2="1069" y2="1560.5" stroke="#19f0f5" stroke-width="3.4"/>
<path d="M314.1 1585.6L445.2 1585.6A9.4 17.350000000000023 0 0 1 445.2 1620.3L314.1 1620.3A8 17.350000000000023 0 0 1 314.1 1585.6Z" fill="url(#cylg)" stroke="#111" stroke-width="1.1"/><ellipse cx="445.2" cy="1602.9" rx="9.4" ry="17.4" fill="#777" stroke="#111" stroke-width="1.1"/><line x1="445.2" y1="1602.0" x2="455.6" y2="1602.0" stroke="#000" stroke-width="4.8"/>
<path d="M475.6 1585.6L509.0 1585.6A9.4 17.350000000000023 0 0 1 509.0 1620.3L475.6 1620.3A8 17.350000000000023 0 0 1 475.6 1585.6Z" fill="url(#cylg)" stroke="#111" stroke-width="1.1"/><ellipse cx="509.0" cy="1602.9" rx="9.4" ry="17.4" fill="#777" stroke="#111" stroke-width="1.1"/><line x1="509.0" y1="1602.0" x2="519.4" y2="1602.0" stroke="#000" stroke-width="4.8"/>
<path d="M531.8 1585.6L729.0 1585.6A9.4 17.350000000000023 0 0 1 729.0 1620.3L531.8 1620.3A8 17.350000000000023 0 0 1 531.8 1585.6Z" fill="url(#cylg)" stroke="#111" stroke-width="1.1"/><ellipse cx="729.0" cy="1602.9" rx="9.4" ry="17.4" fill="#777" stroke="#111" stroke-width="1.1"/><line x1="729.0" y1="1602.0" x2="739.4" y2="1602.0" stroke="#000" stroke-width="4.8"/>
<path d="M862.7 1585.6L924.5 1585.6A9.0 17.350000000000023 0 0 1 924.5 1620.3L862.7 1620.3A8 17.350000000000023 0 0 1 862.7 1585.6Z" fill="url(#cylg)" stroke="#111" stroke-width="1.1"/><ellipse cx="924.5" cy="1602.9" rx="9.0" ry="17.4" fill="#777" stroke="#111" stroke-width="1.1"/><line x1="924.5" y1="1602.0" x2="934.5" y2="1602.0" stroke="#000" stroke-width="4.8"/>
<path d="M1082.0 1585.6L1178.3 1585.6A9.8 17.350000000000023 0 0 1 1178.3 1620.3L1082.0 1620.3A8 17.350000000000023 0 0 1 1082.0 1585.6Z" fill="url(#cylg)" stroke="#111" stroke-width="1.1"/><ellipse cx="1178.3" cy="1602.9" rx="9.8" ry="17.4" fill="#777" stroke="#111" stroke-width="1.1"/><line x1="1178.3" y1="1602.0" x2="1189.1" y2="1602.0" stroke="#000" stroke-width="4.8"/>
<path d="M1217.0 1585.6L1451.0 1585.6A9.5 17.350000000000023 0 0 1 1451.0 1620.3L1217.0 1620.3A8 17.350000000000023 0 0 1 1217.0 1585.6Z" fill="url(#cylg)" stroke="#111" stroke-width="1.1"/><ellipse cx="1451.0" cy="1602.9" rx="9.5" ry="17.4" fill="#777" stroke="#111" stroke-width="1.1"/><line x1="1451.0" y1="1602.0" x2="1461.5" y2="1602.0" stroke="#000" stroke-width="4.8"/>
<path d="M824.8 1585.3L838.7 1585.3L838.7 1570.4L848.9 1602.5L838.7 1633.6L838.7 1619.6L824.8 1619.6Z" fill="#8a8a8a" stroke="#222" stroke-width="1"/><rect x="825.8" y="1586" width="7.0" height="33" fill="#9a9a9a"/>
<path d="M950.0 1585.3L963.5 1585.3L963.5 1570.4L974.1 1602.5L963.5 1633.6L963.5 1619.6L950.0 1619.6Z" fill="#8a8a8a" stroke="#222" stroke-width="1"/><rect x="951.0" y="1586" width="6.8" height="33" fill="#9a9a9a"/>
<text x="162.3" y="1546.3" font-family="Liberation Sans" font-weight="bold" font-size="28" fill="#f00">aa38-61</text>
<text x="144.8" y="1546.3" font-family="Liberation Serif" font-size="26" fill="#f00">&#916;</text>
<text x="826" y="1545.8" font-family="Liberation Sans" font-weight="bold" font-size="28" fill="#19f0f5">loop region</text>
<text x="354.5" y="1659.5" font-family="Liberation Serif" font-size="27">&#945;</text><text x="369.0" y="1659.5" font-family="Liberation Sans" font-size="26">1</text>
<text x="474.0" y="1659.5" font-family="Liberation Serif" font-size="27">&#945;</text><text x="488.5" y="1659.5" font-family="Liberation Sans" font-size="26">2</text>
<text x="609.8" y="1659.5" font-family="Liberation Serif" font-size="27">&#945;</text><text x="624.3" y="1659.5" font-family="Liberation Sans" font-size="26">3</text>
<text x="823.5" y="1659.5" font-family="Liberation Serif" font-size="27">&#946;</text><text x="838.0" y="1659.5" font-family="Liberation Sans" font-size="26">1</text>
<text x="878.0" y="1659.5" font-family="Liberation Serif" font-size="27">&#945;</text><text x="892.5" y="1659.5" font-family="Liberation Sans" font-size="26">4</text>
<text x="943.0" y="1659.5" font-family="Liberation Serif" font-size="27">&#946;</text><text x="957.5" y="1659.5" font-family="Liberation Sans" font-size="26">2</text>
<text x="1107.0" y="1659.5" font-family="Liberation Serif" font-size="27">&#945;</text><text x="1121.5" y="1659.5" font-family="Liberation Sans" font-size="26">5</text>
<text x="1312.0" y="1659.5" font-family="Liberation Serif" font-size="27">&#945;</text><text x="1326.5" y="1659.5" font-family="Liberation Sans" font-size="26">6</text>
</svg></body></html>
